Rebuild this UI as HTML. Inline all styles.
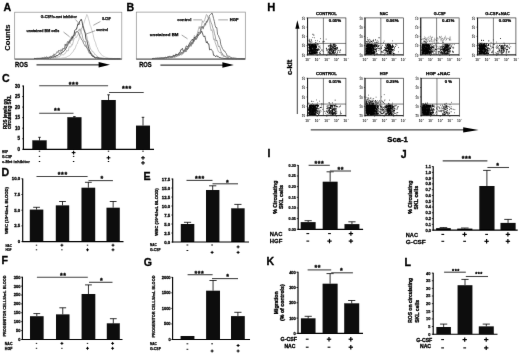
<!DOCTYPE html>
<html lang="en">
<head>
<meta charset="utf-8">
<title>Figure</title>
<style>
html,body{margin:0;padding:0;background:#fff;}
body{width:520px;height:354px;overflow:hidden;}
svg{display:block;font-family:"Liberation Sans",Arial,sans-serif;}
</style>
</head>
<body>
<svg width="520" height="354" viewBox="0 0 520 354">
<rect width="520" height="354" fill="#fff"/>
<defs><filter id="soft" filterUnits="userSpaceOnUse" x="0" y="0" width="520" height="354"><feConvolveMatrix order="3" kernelMatrix="0 1 0 1 16 1 0 1 0" divisor="20" edgeMode="duplicate"/></filter></defs>
<g filter="url(#soft)">
<text x="3.4" y="11" font-size="10.6" text-anchor="start" font-weight="bold" fill="#000" stroke="#000" stroke-width="0.3">A</text>
<text x="126.6" y="11" font-size="10.6" text-anchor="start" font-weight="bold" fill="#000" stroke="#000" stroke-width="0.3">B</text>
<text x="2" y="81.9" font-size="10.6" text-anchor="start" font-weight="bold" fill="#000" stroke="#000" stroke-width="0.3">C</text>
<text x="1.6" y="175.9" font-size="10.6" text-anchor="start" font-weight="bold" fill="#000" stroke="#000" stroke-width="0.3">D</text>
<text x="143.5" y="180" font-size="10.6" text-anchor="start" font-weight="bold" fill="#000" stroke="#000" stroke-width="0.3">E</text>
<text x="1.6" y="263.5" font-size="10.6" text-anchor="start" font-weight="bold" fill="#000" stroke="#000" stroke-width="0.3">F</text>
<text x="143.7" y="265.8" font-size="10.6" text-anchor="start" font-weight="bold" fill="#000" stroke="#000" stroke-width="0.3">G</text>
<text x="267.2" y="11.2" font-size="11.2" text-anchor="start" font-weight="bold" fill="#000" stroke="#000" stroke-width="0.3">H</text>
<text x="267.4" y="156.9" font-size="10.6" text-anchor="start" font-weight="bold" fill="#000" stroke="#000" stroke-width="0.3">I</text>
<text x="400.7" y="158" font-size="10.6" text-anchor="start" font-weight="bold" fill="#000" stroke="#000" stroke-width="0.3">J</text>
<text x="266.5" y="265" font-size="10.6" text-anchor="start" font-weight="bold" fill="#000" stroke="#000" stroke-width="0.3">K</text>
<text x="404.5" y="266.4" font-size="10.6" text-anchor="start" font-weight="bold" fill="#000" stroke="#000" stroke-width="0.3">L</text>
<rect x="14.7" y="12.2" width="107.1" height="46.9" fill="none" stroke="#8c8c8c" stroke-width="0.7"/>
<line x1="14.7" y1="59.1" x2="121.8" y2="59.1" stroke="#444" stroke-width="0.9"/>
<polyline points="34,58.8 34.8,58.8 35.6,58.78 36.4,58.8 37.2,58.78 38,58.79 38.8,58.8 39.6,58.77 40.4,58.8 41.2,58.77 42,58.79 42.8,58.78 43.6,58.76 44.4,58.73 45.2,58.77 46,58.75 46.8,58.72 47.6,58.69 48.4,58.71 49.2,58.71 50,58.66 50.8,58.7 51.6,58.64 52.4,58.66 53.2,58.65 54,58.63 54.8,58.59 55.6,58.53 56.4,58.54 57.2,58.48 58,58.43 58.8,58.41 59.6,58.34 60.4,58.31 61.2,58.23 62,58.13 62.8,57.91 63.6,57.89 64.4,57.79 65.2,57.46 66,57.29 66.8,57.09 67.6,56.42 68.4,56.05 69.2,55.89 70,55.01 70.8,54.33 71.6,53.09 72.4,52.24 73.2,51.69 74,49.36 74.8,49.3 75.6,47.17 76.4,44.72 77.2,44.03 78,41.21 78.8,40.04 79.6,36.22 80.4,33.56 81.2,31.54 82,28.34 82.8,27.11 83.6,23.82 84.4,21.6 85.2,19.25 86,17.1 86.8,14.43 87.6,15.61 88.4,18.8 89.2,21.17 90,25.13 90.8,26.62 91.6,29.58 92.4,31.58 93.2,34.78 94,38.76 94.8,41.07 95.6,42.85 96.4,46.37 97.2,47.49 98,49.76 98.8,51.35 99.6,52.72 100.4,53 101.2,54.67 102,55.34 102.8,55.87 103.6,56.08 104.4,57.06 105.2,57.18 106,57.42 106.8,57.49 107.6,57.71 108.4,57.98 109.2,58.15 110,58.24 110.8,58.32 111.6,58.35 112.4,58.4 113.2,58.51 114,58.55 114.8,58.58 115.6,58.61 116.4,58.62 117.2,58.63 118,58.67 118.8,58.71 119.6,58.69 120.4,58.71" fill="none" stroke="#b8b8b8" stroke-width="0.7" stroke-linejoin="round"/>
<polyline points="34,58.71 34.8,58.66 35.6,58.68 36.4,58.69 37.2,58.67 38,58.65 38.8,58.7 39.6,58.6 40.4,58.6 41.2,58.57 42,58.56 42.8,58.59 43.6,58.57 44.4,58.58 45.2,58.49 46,58.53 46.8,58.49 47.6,58.44 48.4,58.4 49.2,58.33 50,58.31 50.8,58.25 51.6,58.16 52.4,58.08 53.2,58.03 54,58.21 54.8,57.33 55.6,57.4 56.4,57.69 57.2,57.39 58,57.06 58.8,56.78 59.6,56.81 60.4,55.42 61.2,54.74 62,55.13 62.8,54.59 63.6,54.84 64.4,54.24 65.2,53.03 66,52.49 66.8,50.13 67.6,51.14 68.4,50.66 69.2,46.62 70,46.91 70.8,47.12 71.6,44.46 72.4,45.15 73.2,41.94 74,38.86 74.8,37.95 75.6,37.22 76.4,37.45 77.2,35.66 78,34.92 78.8,31.62 79.6,31.03 80.4,29.11 81.2,28.89 82,27.76 82.8,25.55 83.6,27.09 84.4,29.32 85.2,31.52 86,33.64 86.8,36.15 87.6,40.39 88.4,41.54 89.2,44.33 90,47.55 90.8,49.35 91.6,50.18 92.4,51.72 93.2,51.93 94,52.58 94.8,54.66 95.6,54.66 96.4,55.36 97.2,56.03 98,57.2 98.8,57.67 99.6,57.91 100.4,58.13 101.2,58.1 102,58.17 102.8,58.23 103.6,58.33 104.4,58.44 105.2,58.47 106,58.5 106.8,58.62 107.6,58.59 108.4,58.59 109.2,58.62 110,58.65 110.8,58.69 111.6,58.74 112.4,58.69 113.2,58.75 114,58.71 114.8,58.7 115.6,58.76 116.4,58.77 117.2,58.72 118,58.75 118.8,58.8 119.6,58.8 120.4,58.8" fill="none" stroke="#9a9a9a" stroke-width="0.6" stroke-linejoin="round"/>
<polyline points="34,58.44 34.8,58.42 35.6,58.5 36.4,58.36 37.2,58.29 38,58.31 38.8,58.31 39.6,58.23 40.4,58.25 41.2,58.21 42,57.94 42.8,57.79 43.6,57.83 44.4,57.24 45.2,57.71 46,57 46.8,56.89 47.6,57.6 48.4,57.37 49.2,57.11 50,56.99 50.8,56.09 51.6,56.45 52.4,55.81 53.2,56.15 54,53.83 54.8,54.85 55.6,54.1 56.4,53.22 57.2,51.6 58,52.62 58.8,50.18 59.6,51.05 60.4,50.22 61.2,49.51 62,50.94 62.8,48.29 63.6,48.64 64.4,48.65 65.2,43.97 66,46.07 66.8,43.68 67.6,41.53 68.4,41.38 69.2,41.49 70,39.64 70.8,38.53 71.6,36.66 72.4,38.39 73.2,35.73 74,35.85 74.8,34.78 75.6,32.54 76.4,32.35 77.2,31.39 78,32.26 78.8,33.07 79.6,35.96 80.4,36.81 81.2,38.74 82,40.25 82.8,40.93 83.6,43.59 84.4,44.7 85.2,46.41 86,45.67 86.8,48.12 87.6,48.67 88.4,49.65 89.2,53.18 90,53.07 90.8,52.81 91.6,53.92 92.4,56.26 93.2,56.74 94,56.52 94.8,57.52 95.6,57.52 96.4,57.98 97.2,57.42 98,57.49 98.8,57.55 99.6,58.17 100.4,58.16 101.2,58.26 102,58.42 102.8,58.36 103.6,58.39 104.4,58.55 105.2,58.48 106,58.59 106.8,58.6 107.6,58.55 108.4,58.6 109.2,58.71 110,58.69 110.8,58.69 111.6,58.72 112.4,58.75 113.2,58.74 114,58.7 114.8,58.8 115.6,58.74 116.4,58.76 117.2,58.8 118,58.78 118.8,58.75 119.6,58.77 120.4,58.8" fill="none" stroke="#555" stroke-width="0.7" stroke-linejoin="round"/>
<polyline points="34,58.58 34.8,58.59 35.6,58.56 36.4,58.65 37.2,58.61 38,58.62 38.8,58.5 39.6,58.55 40.4,58.54 41.2,58.47 42,58.37 42.8,58.35 43.6,58.39 44.4,58.36 45.2,58.2 46,58.19 46.8,58.1 47.6,58.12 48.4,58.34 49.2,57.71 50,57.82 50.8,58.03 51.6,57.04 52.4,57.16 53.2,56.76 54,57.37 54.8,56.16 55.6,56.91 56.4,55.44 57.2,55.67 58,55.44 58.8,54.58 59.6,53.27 60.4,54.03 61.2,53.72 62,52.04 62.8,52.01 63.6,51.55 64.4,50.5 65.2,49.89 66,48.33 66.8,46.79 67.6,45.58 68.4,42.46 69.2,42.99 70,40.67 70.8,40.57 71.6,38.32 72.4,38.18 73.2,35.58 74,34.95 74.8,30.39 75.6,29.55 76.4,29.3 77.2,26.7 78,23.73 78.8,24.66 79.6,21.32 80.4,20.77 81.2,19.21 82,21.42 82.8,25.72 83.6,28.61 84.4,31.2 85.2,33.23 86,39.26 86.8,40.29 87.6,43.76 88.4,46.68 89.2,49.74 90,51.79 90.8,54.02 91.6,55.03 92.4,56.06 93.2,55.81 94,57.07 94.8,57.6 95.6,57.99 96.4,57.56 97.2,58 98,58.18 98.8,58.35 99.6,58.44 100.4,58.5 101.2,58.53 102,58.62 102.8,58.62 103.6,58.67 104.4,58.61 105.2,58.63 106,58.7 106.8,58.75 107.6,58.68 108.4,58.76 109.2,58.77 110,58.8 110.8,58.78 111.6,58.77 112.4,58.77 113.2,58.8 114,58.78 114.8,58.8 115.6,58.8 116.4,58.8 117.2,58.8 118,58.8 118.8,58.8 119.6,58.8 120.4,58.8" fill="none" stroke="#2a2a2a" stroke-width="0.85" stroke-linejoin="round"/>
<polyline points="34,58.57 34.8,58.56 35.6,58.51 36.4,58.5 37.2,58.47 38,58.42 38.8,58.46 39.6,58.44 40.4,58.3 41.2,58.39 42,58.25 42.8,58.21 43.6,58.26 44.4,58.04 45.2,57.95 46,57.81 46.8,57.59 47.6,57.37 48.4,58.03 49.2,57.42 50,57.28 50.8,56.62 51.6,56.42 52.4,56.12 53.2,56.24 54,55.35 54.8,55.4 55.6,54.98 56.4,55.64 57.2,55.74 58,55.07 58.8,53.94 59.6,54.19 60.4,51.23 61.2,51.46 62,50.47 62.8,49.69 63.6,48.63 64.4,48.56 65.2,49.81 66,45.32 66.8,44.54 67.6,44.68 68.4,43.49 69.2,41.83 70,43.61 70.8,39.32 71.6,40.5 72.4,40.17 73.2,38.18 74,35.13 74.8,36.14 75.6,33.08 76.4,31.34 77.2,31.89 78,31.16 78.8,29.91 79.6,28.87 80.4,30.28 81.2,32.4 82,34.09 82.8,38.32 83.6,40.06 84.4,41.57 85.2,41.14 86,45.11 86.8,45.65 87.6,49.8 88.4,51.02 89.2,51.51 90,51.31 90.8,52.44 91.6,53.53 92.4,55.36 93.2,55.53 94,56.22 94.8,56.7 95.6,57.61 96.4,56.86 97.2,57.99 98,57.33 98.8,57.92 99.6,58.24 100.4,58.26 101.2,58.28 102,58.33 102.8,58.47 103.6,58.55 104.4,58.59 105.2,58.52 106,58.65 106.8,58.63 107.6,58.71 108.4,58.67 109.2,58.63 110,58.75 110.8,58.67 111.6,58.72 112.4,58.69 113.2,58.72 114,58.78 114.8,58.71 115.6,58.76 116.4,58.8 117.2,58.8 118,58.77 118.8,58.78 119.6,58.8 120.4,58.8" fill="none" stroke="#777" stroke-width="0.6" stroke-linejoin="round"/>
<text x="40.8" y="17.76" font-size="3.8" text-anchor="start" font-weight="bold" fill="#000" textLength="36.1" lengthAdjust="spacingAndGlyphs" stroke="#000" stroke-width="0.25">G-CSF/c-met inhibitor</text>
<text x="26.5" y="31.56" font-size="3.8" text-anchor="start" font-weight="bold" fill="#000" textLength="32.7" lengthAdjust="spacingAndGlyphs" stroke="#000" stroke-width="0.25">unstained BM cells</text>
<text x="101.9" y="20.06" font-size="3.8" text-anchor="start" font-weight="bold" fill="#000" textLength="8.8" lengthAdjust="spacingAndGlyphs" stroke="#000" stroke-width="0.25">G-CSF</text>
<text x="96.2" y="30.96" font-size="3.8" text-anchor="start" font-weight="bold" fill="#000" textLength="11.8" lengthAdjust="spacingAndGlyphs" stroke="#000" stroke-width="0.25">control</text>
<line x1="75.4" y1="19.5" x2="79.8" y2="24.3" stroke="#333" stroke-width="0.45"/>
<line x1="63.5" y1="32" x2="69.6" y2="36.8" stroke="#333" stroke-width="0.45"/>
<line x1="100.4" y1="21.5" x2="93.3" y2="25.3" stroke="#333" stroke-width="0.45"/>
<line x1="95.2" y1="30.7" x2="86.2" y2="34" stroke="#333" stroke-width="0.45"/>
<text x="15.1" y="67.2" font-size="6.6" text-anchor="start" font-weight="bold" fill="#000" textLength="12.8" lengthAdjust="spacingAndGlyphs" stroke="#000" stroke-width="0.3">ROS</text>
<line x1="36.5" y1="64.8" x2="100" y2="64.8" stroke="#3c3c3c" stroke-width="1.25"/>
<polygon points="98.6,62.1 110,64.8 98.6,67.5" fill="#000"/>
<text x="10.5" y="37.6" font-size="7.2" text-anchor="middle" font-weight="bold" fill="#000" transform="rotate(-90 10.5 37.6)" stroke="#000" stroke-width="0.12" textLength="26.5" lengthAdjust="spacingAndGlyphs">Counts</text>
<rect x="136.3" y="12.1" width="109" height="47" fill="none" stroke="#8c8c8c" stroke-width="0.7"/>
<line x1="136.3" y1="59.1" x2="245.3" y2="59.1" stroke="#444" stroke-width="0.9"/>
<polyline points="152,58.51 152.8,58.49 153.6,58.39 154.4,58.49 155.2,58.36 156,58.32 156.8,58.4 157.6,58.24 158.4,58.24 159.2,58.18 160,58.23 160.8,58.18 161.6,58.13 162.4,57.97 163.2,57.92 164,58.06 164.8,57.93 165.6,58 166.4,58.14 167.2,58.01 168,57.17 168.8,57.63 169.6,56.8 170.4,57.43 171.2,57.27 172,56.81 172.8,57.05 173.6,56.62 174.4,55.58 175.2,55.41 176,55.23 176.8,55.22 177.6,54.4 178.4,53.97 179.2,54.32 180,53.56 180.8,54.56 181.6,52.57 182.4,52.72 183.2,51.4 184,51.07 184.8,51.46 185.6,51.54 186.4,48.12 187.2,49.96 188,48.02 188.8,47.66 189.6,46.97 190.4,44.34 191.2,42.37 192,44.32 192.8,41.59 193.6,42.07 194.4,39.81 195.2,39.41 196,39.31 196.8,38.15 197.6,36.71 198.4,32.1 199.2,32.8 200,32.85 200.8,28.3 201.6,26.62 202.4,27.86 203.2,27.94 204,26.37 204.8,25.45 205.6,23.11 206.4,22.76 207.2,20.9 208,19.54 208.8,17.32 209.6,15.27 210.4,14.53 211.2,14.15 212,12.96 212.8,15.4 213.6,18.58 214.4,21.6 215.2,25.69 216,27.81 216.8,27.55 217.6,34.48 218.4,35.51 219.2,37.67 220,39.26 220.8,44.51 221.6,46.43 222.4,48.44 223.2,49.66 224,51.06 224.8,51.11 225.6,52.63 226.4,53.64 227.2,56.01 228,56.57 228.8,56.1 229.6,56.34 230.4,57.21 231.2,57.37 232,58.17 232.8,57.97 233.6,57.95 234.4,58.09 235.2,58.18 236,58.24 236.8,58.42 237.6,58.49 238.4,58.53 239.2,58.52 240,58.53 240.8,58.53 241.6,58.59 242.4,58.62 243.2,58.62 244,58.68 244.8,58.68" fill="none" stroke="#505050" stroke-width="0.75" stroke-linejoin="round"/>
<polyline points="152,58.7 152.8,58.58 153.6,58.65 154.4,58.54 155.2,58.56 156,58.6 156.8,58.61 157.6,58.57 158.4,58.49 159.2,58.45 160,58.52 160.8,58.5 161.6,58.4 162.4,58.36 163.2,58.35 164,58.34 164.8,58.23 165.6,58.29 166.4,58.18 167.2,58.09 168,57.92 168.8,57.79 169.6,57.45 170.4,57.77 171.2,57.92 172,57.79 172.8,56.8 173.6,56.93 174.4,57.27 175.2,57.47 176,56.57 176.8,56.03 177.6,56.15 178.4,56.12 179.2,54.99 180,54.03 180.8,55.05 181.6,55.05 182.4,53.81 183.2,53 184,51.6 184.8,52.33 185.6,49.64 186.4,48.93 187.2,48.84 188,49.04 188.8,44.88 189.6,46.55 190.4,43.1 191.2,44.6 192,43.41 192.8,39.4 193.6,40.38 194.4,35.53 195.2,36.45 196,36.59 196.8,34.87 197.6,32.3 198.4,29.47 199.2,26.52 200,28.92 200.8,26.16 201.6,25.39 202.4,20.7 203.2,22.49 204,21.2 204.8,19.57 205.6,17.09 206.4,14.52 207.2,15.02 208,17.72 208.8,19.15 209.6,21.81 210.4,27.15 211.2,30.67 212,29.54 212.8,33.22 213.6,39.63 214.4,38.85 215.2,42.68 216,44.89 216.8,47.07 217.6,49.48 218.4,51.58 219.2,51.98 220,52.95 220.8,52.49 221.6,55.34 222.4,54.39 223.2,56.41 224,56.65 224.8,56.4 225.6,56.78 226.4,57.54 227.2,58.18 228,57.89 228.8,58.04 229.6,58.05 230.4,58.28 231.2,58.33 232,58.31 232.8,58.5 233.6,58.49 234.4,58.47 235.2,58.51 236,58.65 236.8,58.68 237.6,58.69 238.4,58.59 239.2,58.7 240,58.65 240.8,58.64 241.6,58.73 242.4,58.75 243.2,58.67 244,58.72 244.8,58.78" fill="none" stroke="#909090" stroke-width="0.65" stroke-linejoin="round"/>
<polyline points="152,58.49 152.8,58.53 153.6,58.52 154.4,58.54 155.2,58.38 156,58.32 156.8,58.34 157.6,58.24 158.4,58.37 159.2,58.29 160,58.19 160.8,58.03 161.6,57.96 162.4,58.12 163.2,58.21 164,57.91 164.8,57.73 165.6,57.03 166.4,57.95 167.2,56.9 168,56.82 168.8,56.49 169.6,56.37 170.4,56.45 171.2,56.78 172,56.58 172.8,56.24 173.6,54.94 174.4,56.4 175.2,55.8 176,53.86 176.8,54.98 177.6,55.19 178.4,54.92 179.2,52.61 180,52.95 180.8,49.78 181.6,49.51 182.4,48.36 183.2,50.94 184,51.15 184.8,50.44 185.6,47.75 186.4,45.91 187.2,46.48 188,46.81 188.8,45.03 189.6,43.12 190.4,42 191.2,40.78 192,39.44 192.8,39.54 193.6,41.36 194.4,37.06 195.2,38.74 196,36.7 196.8,36.66 197.6,34.45 198.4,35.55 199.2,34.51 200,33.64 200.8,32.98 201.6,31 202.4,33.01 203.2,35.41 204,36.85 204.8,35.84 205.6,39.73 206.4,42.85 207.2,41.52 208,43.99 208.8,43.85 209.6,49.89 210.4,49.45 211.2,49.24 212,50.46 212.8,51.38 213.6,55.33 214.4,55.25 215.2,56.33 216,56.66 216.8,55.5 217.6,56.72 218.4,56.53 219.2,57.68 220,57.25 220.8,57.97 221.6,58.12 222.4,58.13 223.2,58.19 224,58.43 224.8,58.41 225.6,58.46 226.4,58.57 227.2,58.58 228,58.65 228.8,58.66 229.6,58.68 230.4,58.64 231.2,58.65 232,58.73 232.8,58.77 233.6,58.74 234.4,58.7 235.2,58.78 236,58.77 236.8,58.79 237.6,58.71 238.4,58.75 239.2,58.8 240,58.8 240.8,58.79 241.6,58.77 242.4,58.76 243.2,58.8 244,58.8 244.8,58.76" fill="none" stroke="#333" stroke-width="0.75" stroke-linejoin="round"/>
<polyline points="152,58.57 152.8,58.57 153.6,58.55 154.4,58.42 155.2,58.51 156,58.44 156.8,58.46 157.6,58.42 158.4,58.31 159.2,58.25 160,58.34 160.8,58.33 161.6,58.19 162.4,58.25 163.2,58.24 164,58 164.8,58.04 165.6,57.61 166.4,57.99 167.2,57.36 168,57.76 168.8,58.03 169.6,58.13 170.4,57.31 171.2,57.04 172,56.49 172.8,57.55 173.6,56.53 174.4,56.74 175.2,56.29 176,56.72 176.8,56.2 177.6,55.42 178.4,54.18 179.2,55.7 180,54.4 180.8,53.12 181.6,52.14 182.4,53.88 183.2,53.62 184,50.33 184.8,49.5 185.6,50.6 186.4,51.6 187.2,47.28 188,48.74 188.8,45.55 189.6,45.94 190.4,43.97 191.2,46.34 192,42.07 192.8,44.03 193.6,41.97 194.4,38.37 195.2,37.29 196,39.82 196.8,38.43 197.6,36.17 198.4,34.26 199.2,33.78 200,33.98 200.8,32.01 201.6,28.21 202.4,26.14 203.2,29.16 204,25.43 204.8,23.4 205.6,25.18 206.4,20.9 207.2,22.27 208,19.55 208.8,18.59 209.6,17.33 210.4,20.61 211.2,22.81 212,24.7 212.8,28.06 213.6,29.49 214.4,33.33 215.2,36.04 216,41.01 216.8,40.09 217.6,43.16 218.4,46.6 219.2,46.06 220,47.89 220.8,50.8 221.6,53.09 222.4,53.29 223.2,55.23 224,55.9 224.8,55.89 225.6,57.04 226.4,56.87 227.2,57.13 228,58.05 228.8,57.52 229.6,58.35 230.4,57.98 231.2,58.09 232,58.25 232.8,58.41 233.6,58.39 234.4,58.47 235.2,58.42 236,58.6 236.8,58.51 237.6,58.52 238.4,58.59 239.2,58.6 240,58.71 240.8,58.61 241.6,58.7 242.4,58.64 243.2,58.66 244,58.78 244.8,58.69" fill="none" stroke="#707070" stroke-width="0.65" stroke-linejoin="round"/>
<text x="177.3" y="21.26" font-size="3.8" text-anchor="start" font-weight="bold" fill="#000" textLength="14" lengthAdjust="spacingAndGlyphs" stroke="#000" stroke-width="0.25">control</text>
<text x="229.8" y="21.26" font-size="3.8" text-anchor="start" font-weight="bold" fill="#000" textLength="8.7" lengthAdjust="spacingAndGlyphs" stroke="#000" stroke-width="0.25">HGF</text>
<text x="149.8" y="35.66" font-size="3.8" text-anchor="start" font-weight="bold" fill="#000" textLength="28.7" lengthAdjust="spacingAndGlyphs" stroke="#000" stroke-width="0.25">unstained BM</text>
<line x1="193.3" y1="19.9" x2="202" y2="19.9" stroke="#333" stroke-width="0.45"/>
<line x1="227.9" y1="19.9" x2="218.3" y2="19.9" stroke="#333" stroke-width="0.45"/>
<line x1="181.7" y1="35" x2="187.5" y2="38.8" stroke="#333" stroke-width="0.45"/>
<text x="139.2" y="67.4" font-size="6.6" text-anchor="start" font-weight="bold" fill="#000" textLength="12.5" lengthAdjust="spacingAndGlyphs" stroke="#000" stroke-width="0.3">ROS</text>
<line x1="160.4" y1="65" x2="224" y2="65" stroke="#3c3c3c" stroke-width="1.25"/>
<polygon points="222.4,62.3 233.8,65 222.4,67.7" fill="#000"/>
<rect x="32.3" y="140.3" width="14.4" height="9" fill="#0b0b0b"/>
<line x1="39.5" y1="140.3" x2="39.5" y2="137.3" stroke="#000" stroke-width="0.8"/>
<line x1="38.2" y1="137.3" x2="40.8" y2="137.3" stroke="#000" stroke-width="0.8"/>
<rect x="67.3" y="117.2" width="14.2" height="32.1" fill="#0b0b0b"/>
<line x1="74.4" y1="117.2" x2="74.4" y2="116.6" stroke="#000" stroke-width="0.8"/>
<line x1="73.1" y1="116.6" x2="75.7" y2="116.6" stroke="#000" stroke-width="0.8"/>
<rect x="101.3" y="100" width="14.5" height="49.3" fill="#0b0b0b"/>
<line x1="108.55" y1="100" x2="108.55" y2="94.8" stroke="#000" stroke-width="0.8"/>
<line x1="107.25" y1="94.8" x2="109.85" y2="94.8" stroke="#000" stroke-width="0.8"/>
<rect x="136" y="125.6" width="14" height="23.7" fill="#0b0b0b"/>
<line x1="143" y1="125.6" x2="143" y2="117.3" stroke="#000" stroke-width="0.8"/>
<line x1="141.7" y1="117.3" x2="144.3" y2="117.3" stroke="#000" stroke-width="0.8"/>
<line x1="23.4" y1="85.6" x2="23.4" y2="149.75" stroke="#000" stroke-width="1.15"/>
<line x1="22.95" y1="149.3" x2="154" y2="149.3" stroke="#000" stroke-width="1.15"/>
<line x1="22.2" y1="149.3" x2="23.4" y2="149.3" stroke="#000" stroke-width="0.8"/>
<text x="19.9" y="150.91" font-size="4.5" text-anchor="end" font-weight="bold" fill="#000" textLength="2.5" lengthAdjust="spacingAndGlyphs" stroke="#000" stroke-width="0.29">0</text>
<line x1="22.2" y1="138.75" x2="23.4" y2="138.75" stroke="#000" stroke-width="0.8"/>
<text x="19.9" y="140.36" font-size="4.5" text-anchor="end" font-weight="bold" fill="#000" textLength="2.5" lengthAdjust="spacingAndGlyphs" stroke="#000" stroke-width="0.29">5</text>
<line x1="22.2" y1="128.2" x2="23.4" y2="128.2" stroke="#000" stroke-width="0.8"/>
<text x="19.9" y="129.81" font-size="4.5" text-anchor="end" font-weight="bold" fill="#000" textLength="5" lengthAdjust="spacingAndGlyphs" stroke="#000" stroke-width="0.29">10</text>
<line x1="22.2" y1="117.65" x2="23.4" y2="117.65" stroke="#000" stroke-width="0.8"/>
<text x="19.9" y="119.26" font-size="4.5" text-anchor="end" font-weight="bold" fill="#000" textLength="5" lengthAdjust="spacingAndGlyphs" stroke="#000" stroke-width="0.29">15</text>
<line x1="22.2" y1="107.1" x2="23.4" y2="107.1" stroke="#000" stroke-width="0.8"/>
<text x="19.9" y="108.71" font-size="4.5" text-anchor="end" font-weight="bold" fill="#000" textLength="5" lengthAdjust="spacingAndGlyphs" stroke="#000" stroke-width="0.29">20</text>
<line x1="22.2" y1="96.55" x2="23.4" y2="96.55" stroke="#000" stroke-width="0.8"/>
<text x="19.9" y="98.16" font-size="4.5" text-anchor="end" font-weight="bold" fill="#000" textLength="5" lengthAdjust="spacingAndGlyphs" stroke="#000" stroke-width="0.29">25</text>
<line x1="22.2" y1="86" x2="23.4" y2="86" stroke="#000" stroke-width="0.8"/>
<text x="19.9" y="87.61" font-size="4.5" text-anchor="end" font-weight="bold" fill="#000" textLength="5" lengthAdjust="spacingAndGlyphs" stroke="#000" stroke-width="0.29">30</text>
<line x1="39.2" y1="85.8" x2="108.1" y2="85.8" stroke="#444" stroke-width="1.1"/>
<text x="73.77" y="86.78" font-size="7" text-anchor="middle" font-weight="bold" fill="#000" letter-spacing="0.55" stroke="#000" stroke-width="0.3">***</text>
<line x1="39.2" y1="113.2" x2="73.5" y2="113.2" stroke="#444" stroke-width="1.1"/>
<text x="57.27" y="113.48" font-size="7" text-anchor="middle" font-weight="bold" fill="#000" letter-spacing="0.55" stroke="#000" stroke-width="0.3">**</text>
<line x1="109" y1="92.5" x2="143.7" y2="92.5" stroke="#444" stroke-width="1.1"/>
<text x="126.87" y="90.98" font-size="7" text-anchor="middle" font-weight="bold" fill="#000" letter-spacing="0.55" stroke="#000" stroke-width="0.3">***</text>
<text x="7.3" y="129.1" font-size="4.5" text-anchor="start" font-weight="bold" fill="#000" transform="rotate(-90 7.3 129.1)" textLength="30" lengthAdjust="spacingAndGlyphs" stroke="#000" stroke-width="0.29">ROS levels on</text>
<text x="11.4" y="129.1" font-size="4.5" text-anchor="start" font-weight="bold" fill="#000" transform="rotate(-90 11.4 129.1)" textLength="34" lengthAdjust="spacingAndGlyphs" stroke="#000" stroke-width="0.29">circulating SKL</text>
<text x="1.9" y="153.2" font-size="3.9" text-anchor="start" font-weight="bold" fill="#000" textLength="6.2" lengthAdjust="spacingAndGlyphs" stroke="#000" stroke-width="0.25">HGF</text>
<text x="1.9" y="158.1" font-size="3.9" text-anchor="start" font-weight="bold" fill="#000" textLength="10.2" lengthAdjust="spacingAndGlyphs" stroke="#000" stroke-width="0.25">G-CSF</text>
<text x="1.9" y="162.9" font-size="3.9" text-anchor="start" font-weight="bold" fill="#000" textLength="27.9" lengthAdjust="spacingAndGlyphs" stroke="#000" stroke-width="0.25">c-Met inhibitor</text>
<line x1="38.8" y1="151.2" x2="40.2" y2="151.2" stroke="#000" stroke-width="0.99"/>
<line x1="71.7" y1="152.6" x2="75.5" y2="152.6" stroke="#000" stroke-width="1.1"/>
<line x1="73.6" y1="150.7" x2="73.6" y2="154.5" stroke="#000" stroke-width="1.1"/>
<line x1="107.8" y1="151.2" x2="109.2" y2="151.2" stroke="#000" stroke-width="0.99"/>
<line x1="142.3" y1="151.2" x2="143.7" y2="151.2" stroke="#000" stroke-width="0.99"/>
<line x1="38.8" y1="156.4" x2="40.2" y2="156.4" stroke="#000" stroke-width="0.99"/>
<line x1="72.9" y1="156.4" x2="74.3" y2="156.4" stroke="#000" stroke-width="0.99"/>
<line x1="106.6" y1="157.8" x2="110.4" y2="157.8" stroke="#000" stroke-width="1.1"/>
<line x1="108.5" y1="155.9" x2="108.5" y2="159.7" stroke="#000" stroke-width="1.1"/>
<line x1="141.1" y1="157.8" x2="144.9" y2="157.8" stroke="#000" stroke-width="1.1"/>
<line x1="143" y1="155.9" x2="143" y2="159.7" stroke="#000" stroke-width="1.1"/>
<line x1="38.8" y1="161.5" x2="40.2" y2="161.5" stroke="#000" stroke-width="0.99"/>
<line x1="72.9" y1="161.5" x2="74.3" y2="161.5" stroke="#000" stroke-width="0.99"/>
<line x1="107.8" y1="161.5" x2="109.2" y2="161.5" stroke="#000" stroke-width="0.99"/>
<line x1="141.1" y1="162.9" x2="144.9" y2="162.9" stroke="#000" stroke-width="1.1"/>
<line x1="143" y1="161" x2="143" y2="164.8" stroke="#000" stroke-width="1.1"/>
<rect x="29.8" y="209.6" width="13.5" height="32" fill="#0b0b0b"/>
<line x1="36.55" y1="209.6" x2="36.55" y2="207.3" stroke="#000" stroke-width="0.8"/>
<line x1="33.15" y1="207.3" x2="39.95" y2="207.3" stroke="#000" stroke-width="0.8"/>
<rect x="55.8" y="205.4" width="13.4" height="36.2" fill="#0b0b0b"/>
<line x1="62.5" y1="205.4" x2="62.5" y2="201.5" stroke="#000" stroke-width="0.8"/>
<line x1="59.1" y1="201.5" x2="65.9" y2="201.5" stroke="#000" stroke-width="0.8"/>
<rect x="81.5" y="187.7" width="13.7" height="53.9" fill="#0b0b0b"/>
<line x1="88.35" y1="187.7" x2="88.35" y2="182.3" stroke="#000" stroke-width="0.8"/>
<line x1="84.95" y1="182.3" x2="91.75" y2="182.3" stroke="#000" stroke-width="0.8"/>
<rect x="106.5" y="207.7" width="13.3" height="33.9" fill="#0b0b0b"/>
<line x1="113.15" y1="207.7" x2="113.15" y2="201.5" stroke="#000" stroke-width="0.8"/>
<line x1="109.75" y1="201.5" x2="116.55" y2="201.5" stroke="#000" stroke-width="0.8"/>
<line x1="22.7" y1="178.4" x2="22.7" y2="242.05" stroke="#000" stroke-width="1.15"/>
<line x1="22.25" y1="241.6" x2="123.5" y2="241.6" stroke="#000" stroke-width="1.15"/>
<line x1="21.4" y1="241.6" x2="22.7" y2="241.6" stroke="#000" stroke-width="0.8"/>
<text x="20.2" y="243.14" font-size="4.3" text-anchor="end" font-weight="bold" fill="#000" textLength="2.39" lengthAdjust="spacingAndGlyphs" stroke="#000" stroke-width="0.28">0</text>
<line x1="21.4" y1="225.9" x2="22.7" y2="225.9" stroke="#000" stroke-width="0.8"/>
<text x="20.2" y="227.44" font-size="4.3" text-anchor="end" font-weight="bold" fill="#000" textLength="5.98" lengthAdjust="spacingAndGlyphs" stroke="#000" stroke-width="0.28">2.5</text>
<line x1="21.4" y1="210.2" x2="22.7" y2="210.2" stroke="#000" stroke-width="0.8"/>
<text x="20.2" y="211.74" font-size="4.3" text-anchor="end" font-weight="bold" fill="#000" textLength="5.98" lengthAdjust="spacingAndGlyphs" stroke="#000" stroke-width="0.28">5.0</text>
<line x1="21.4" y1="194.5" x2="22.7" y2="194.5" stroke="#000" stroke-width="0.8"/>
<text x="20.2" y="196.04" font-size="4.3" text-anchor="end" font-weight="bold" fill="#000" textLength="5.98" lengthAdjust="spacingAndGlyphs" stroke="#000" stroke-width="0.28">7.5</text>
<line x1="21.4" y1="178.8" x2="22.7" y2="178.8" stroke="#000" stroke-width="0.8"/>
<text x="20.2" y="180.34" font-size="4.3" text-anchor="end" font-weight="bold" fill="#000" textLength="8.37" lengthAdjust="spacingAndGlyphs" stroke="#000" stroke-width="0.28">10.0</text>
<line x1="36.5" y1="176.5" x2="87.6" y2="176.5" stroke="#444" stroke-width="1.1"/>
<text x="62.77" y="177.18" font-size="7" text-anchor="middle" font-weight="bold" fill="#000" letter-spacing="0.55" stroke="#000" stroke-width="0.3">***</text>
<line x1="88.5" y1="180.6" x2="112.9" y2="180.6" stroke="#444" stroke-width="1.1"/>
<text x="102.17" y="180.98" font-size="7" text-anchor="middle" font-weight="bold" fill="#000" letter-spacing="0.55" stroke="#000" stroke-width="0.3">*</text>
<text x="8.1" y="210.6" font-size="4.1" text-anchor="middle" font-weight="bold" fill="#000" transform="rotate(-90 8.1 210.6)" textLength="47" lengthAdjust="spacingAndGlyphs" stroke="#000" stroke-width="0.27">WBC (10^6/mL BLOOD)</text>
<text x="5.4" y="246.59" font-size="3.6" text-anchor="start" font-weight="bold" fill="#000" textLength="6.5" lengthAdjust="spacingAndGlyphs" stroke="#000" stroke-width="0.23">NAC</text>
<text x="5.4" y="251.29" font-size="3.6" text-anchor="start" font-weight="bold" fill="#000" textLength="6.2" lengthAdjust="spacingAndGlyphs" stroke="#000" stroke-width="0.23">HGF</text>
<line x1="35.8" y1="245.2" x2="37.2" y2="245.2" stroke="#000" stroke-width="0.9"/>
<line x1="60.45" y1="245.2" x2="63.35" y2="245.2" stroke="#000" stroke-width="1"/>
<line x1="61.9" y1="243.75" x2="61.9" y2="246.65" stroke="#000" stroke-width="1"/>
<line x1="86.8" y1="245.2" x2="88.2" y2="245.2" stroke="#000" stroke-width="0.9"/>
<line x1="111.55" y1="245.2" x2="114.45" y2="245.2" stroke="#000" stroke-width="1"/>
<line x1="113" y1="243.75" x2="113" y2="246.65" stroke="#000" stroke-width="1"/>
<line x1="35.8" y1="249.8" x2="37.2" y2="249.8" stroke="#000" stroke-width="0.9"/>
<line x1="61.2" y1="249.8" x2="62.6" y2="249.8" stroke="#000" stroke-width="0.9"/>
<line x1="86.05" y1="249.8" x2="88.95" y2="249.8" stroke="#000" stroke-width="1"/>
<line x1="87.5" y1="248.35" x2="87.5" y2="251.25" stroke="#000" stroke-width="1"/>
<line x1="111.55" y1="249.8" x2="114.45" y2="249.8" stroke="#000" stroke-width="1"/>
<line x1="113" y1="248.35" x2="113" y2="251.25" stroke="#000" stroke-width="1"/>
<rect x="180.8" y="224" width="13.5" height="18" fill="#0b0b0b"/>
<line x1="187.55" y1="224" x2="187.55" y2="222.3" stroke="#000" stroke-width="0.8"/>
<line x1="183.95" y1="222.3" x2="191.15" y2="222.3" stroke="#000" stroke-width="0.8"/>
<rect x="206" y="190" width="13.4" height="52" fill="#0b0b0b"/>
<line x1="212.7" y1="190" x2="212.7" y2="185.8" stroke="#000" stroke-width="0.8"/>
<line x1="209.1" y1="185.8" x2="216.3" y2="185.8" stroke="#000" stroke-width="0.8"/>
<rect x="231.2" y="208.3" width="13.4" height="33.7" fill="#0b0b0b"/>
<line x1="237.9" y1="208.3" x2="237.9" y2="204.4" stroke="#000" stroke-width="0.8"/>
<line x1="234.3" y1="204.4" x2="241.5" y2="204.4" stroke="#000" stroke-width="0.8"/>
<line x1="172.7" y1="178.6" x2="172.7" y2="242.45" stroke="#000" stroke-width="1.15"/>
<line x1="172.25" y1="242" x2="249" y2="242" stroke="#000" stroke-width="1.15"/>
<line x1="171.4" y1="242" x2="172.7" y2="242" stroke="#000" stroke-width="0.8"/>
<text x="170.2" y="243.54" font-size="4.3" text-anchor="end" font-weight="bold" fill="#000" textLength="5.98" lengthAdjust="spacingAndGlyphs" stroke="#000" stroke-width="0.28">0.0</text>
<line x1="171.4" y1="233" x2="172.7" y2="233" stroke="#000" stroke-width="0.8"/>
<text x="170.2" y="234.54" font-size="4.3" text-anchor="end" font-weight="bold" fill="#000" textLength="5.98" lengthAdjust="spacingAndGlyphs" stroke="#000" stroke-width="0.28">2.5</text>
<line x1="171.4" y1="224" x2="172.7" y2="224" stroke="#000" stroke-width="0.8"/>
<text x="170.2" y="225.54" font-size="4.3" text-anchor="end" font-weight="bold" fill="#000" textLength="5.98" lengthAdjust="spacingAndGlyphs" stroke="#000" stroke-width="0.28">5.0</text>
<line x1="171.4" y1="215" x2="172.7" y2="215" stroke="#000" stroke-width="0.8"/>
<text x="170.2" y="216.54" font-size="4.3" text-anchor="end" font-weight="bold" fill="#000" textLength="5.98" lengthAdjust="spacingAndGlyphs" stroke="#000" stroke-width="0.28">7.5</text>
<line x1="171.4" y1="206" x2="172.7" y2="206" stroke="#000" stroke-width="0.8"/>
<text x="170.2" y="207.54" font-size="4.3" text-anchor="end" font-weight="bold" fill="#000" textLength="8.37" lengthAdjust="spacingAndGlyphs" stroke="#000" stroke-width="0.28">10.0</text>
<line x1="171.4" y1="197" x2="172.7" y2="197" stroke="#000" stroke-width="0.8"/>
<text x="170.2" y="198.54" font-size="4.3" text-anchor="end" font-weight="bold" fill="#000" textLength="8.37" lengthAdjust="spacingAndGlyphs" stroke="#000" stroke-width="0.28">12.5</text>
<line x1="171.4" y1="188" x2="172.7" y2="188" stroke="#000" stroke-width="0.8"/>
<text x="170.2" y="189.54" font-size="4.3" text-anchor="end" font-weight="bold" fill="#000" textLength="8.37" lengthAdjust="spacingAndGlyphs" stroke="#000" stroke-width="0.28">15.0</text>
<line x1="171.4" y1="179" x2="172.7" y2="179" stroke="#000" stroke-width="0.8"/>
<text x="170.2" y="180.54" font-size="4.3" text-anchor="end" font-weight="bold" fill="#000" textLength="8.37" lengthAdjust="spacingAndGlyphs" stroke="#000" stroke-width="0.28">17.5</text>
<line x1="186.5" y1="180.4" x2="212.5" y2="180.4" stroke="#444" stroke-width="1.1"/>
<text x="199.87" y="181.48" font-size="7" text-anchor="middle" font-weight="bold" fill="#000" letter-spacing="0.55" stroke="#000" stroke-width="0.3">***</text>
<line x1="212.5" y1="183.8" x2="238" y2="183.8" stroke="#444" stroke-width="1.1"/>
<text x="227.57" y="185.18" font-size="7" text-anchor="middle" font-weight="bold" fill="#000" letter-spacing="0.55" stroke="#000" stroke-width="0.3">*</text>
<text x="158.1" y="212" font-size="4.1" text-anchor="middle" font-weight="bold" fill="#000" transform="rotate(-90 158.1 212)" textLength="47.5" lengthAdjust="spacingAndGlyphs" stroke="#000" stroke-width="0.27">WBC (10^6/mL BLOOD)</text>
<text x="149.9" y="246.26" font-size="3.8" text-anchor="start" font-weight="bold" fill="#000" textLength="6.8" lengthAdjust="spacingAndGlyphs" stroke="#000" stroke-width="0.25">NAC</text>
<text x="149.9" y="251.26" font-size="3.8" text-anchor="start" font-weight="bold" fill="#000" textLength="10.6" lengthAdjust="spacingAndGlyphs" stroke="#000" stroke-width="0.25">G-CSF</text>
<line x1="186.5" y1="245" x2="188.3" y2="245" stroke="#000" stroke-width="0.9"/>
<line x1="211.2" y1="245" x2="213" y2="245" stroke="#000" stroke-width="0.9"/>
<line x1="236.6" y1="246.9" x2="239.6" y2="246.9" stroke="#000" stroke-width="1"/>
<line x1="238.1" y1="245.4" x2="238.1" y2="248.4" stroke="#000" stroke-width="1"/>
<line x1="186.5" y1="250.5" x2="188.3" y2="250.5" stroke="#000" stroke-width="0.9"/>
<line x1="210.6" y1="252.4" x2="213.6" y2="252.4" stroke="#000" stroke-width="1"/>
<line x1="212.1" y1="250.9" x2="212.1" y2="253.9" stroke="#000" stroke-width="1"/>
<line x1="236.6" y1="252.4" x2="239.6" y2="252.4" stroke="#000" stroke-width="1"/>
<line x1="238.1" y1="250.9" x2="238.1" y2="253.9" stroke="#000" stroke-width="1"/>
<rect x="30" y="316.2" width="13.6" height="23.3" fill="#0b0b0b"/>
<line x1="36.8" y1="316.2" x2="36.8" y2="313.6" stroke="#000" stroke-width="0.8"/>
<line x1="33.4" y1="313.6" x2="40.2" y2="313.6" stroke="#000" stroke-width="0.8"/>
<rect x="56" y="314.4" width="13.5" height="25.1" fill="#0b0b0b"/>
<line x1="62.75" y1="314.4" x2="62.75" y2="307.8" stroke="#000" stroke-width="0.8"/>
<line x1="59.35" y1="307.8" x2="66.15" y2="307.8" stroke="#000" stroke-width="0.8"/>
<rect x="81.6" y="294" width="13.7" height="45.5" fill="#0b0b0b"/>
<line x1="88.45" y1="294" x2="88.45" y2="284.9" stroke="#000" stroke-width="0.8"/>
<line x1="85.05" y1="284.9" x2="91.85" y2="284.9" stroke="#000" stroke-width="0.8"/>
<rect x="106.8" y="323.3" width="13" height="16.2" fill="#0b0b0b"/>
<line x1="113.3" y1="323.3" x2="113.3" y2="318.7" stroke="#000" stroke-width="0.8"/>
<line x1="109.9" y1="318.7" x2="116.7" y2="318.7" stroke="#000" stroke-width="0.8"/>
<line x1="22.4" y1="276.8" x2="22.4" y2="339.95" stroke="#000" stroke-width="1.15"/>
<line x1="21.95" y1="339.5" x2="122.5" y2="339.5" stroke="#000" stroke-width="1.15"/>
<line x1="21.1" y1="339.5" x2="22.4" y2="339.5" stroke="#000" stroke-width="0.8"/>
<text x="20.4" y="340.93" font-size="4" text-anchor="end" font-weight="bold" fill="#000" textLength="2.22" lengthAdjust="spacingAndGlyphs" stroke="#000" stroke-width="0.26">0</text>
<line x1="21.1" y1="330.6" x2="22.4" y2="330.6" stroke="#000" stroke-width="0.8"/>
<text x="20.4" y="332.03" font-size="4" text-anchor="end" font-weight="bold" fill="#000" textLength="4.45" lengthAdjust="spacingAndGlyphs" stroke="#000" stroke-width="0.26">50</text>
<line x1="21.1" y1="321.7" x2="22.4" y2="321.7" stroke="#000" stroke-width="0.8"/>
<text x="20.4" y="323.13" font-size="4" text-anchor="end" font-weight="bold" fill="#000" textLength="6.67" lengthAdjust="spacingAndGlyphs" stroke="#000" stroke-width="0.26">100</text>
<line x1="21.1" y1="312.8" x2="22.4" y2="312.8" stroke="#000" stroke-width="0.8"/>
<text x="20.4" y="314.23" font-size="4" text-anchor="end" font-weight="bold" fill="#000" textLength="6.67" lengthAdjust="spacingAndGlyphs" stroke="#000" stroke-width="0.26">150</text>
<line x1="21.1" y1="303.9" x2="22.4" y2="303.9" stroke="#000" stroke-width="0.8"/>
<text x="20.4" y="305.33" font-size="4" text-anchor="end" font-weight="bold" fill="#000" textLength="6.67" lengthAdjust="spacingAndGlyphs" stroke="#000" stroke-width="0.26">200</text>
<line x1="21.1" y1="295" x2="22.4" y2="295" stroke="#000" stroke-width="0.8"/>
<text x="20.4" y="296.43" font-size="4" text-anchor="end" font-weight="bold" fill="#000" textLength="6.67" lengthAdjust="spacingAndGlyphs" stroke="#000" stroke-width="0.26">250</text>
<line x1="21.1" y1="286.1" x2="22.4" y2="286.1" stroke="#000" stroke-width="0.8"/>
<text x="20.4" y="287.53" font-size="4" text-anchor="end" font-weight="bold" fill="#000" textLength="6.67" lengthAdjust="spacingAndGlyphs" stroke="#000" stroke-width="0.26">300</text>
<line x1="21.1" y1="277.2" x2="22.4" y2="277.2" stroke="#000" stroke-width="0.8"/>
<text x="20.4" y="278.63" font-size="4" text-anchor="end" font-weight="bold" fill="#000" textLength="6.67" lengthAdjust="spacingAndGlyphs" stroke="#000" stroke-width="0.26">350</text>
<line x1="36.9" y1="277.2" x2="87.8" y2="277.2" stroke="#444" stroke-width="1.1"/>
<text x="63.37" y="278.18" font-size="7" text-anchor="middle" font-weight="bold" fill="#000" letter-spacing="0.55" stroke="#000" stroke-width="0.3">**</text>
<line x1="89" y1="282.3" x2="112.5" y2="282.3" stroke="#444" stroke-width="1.1"/>
<text x="101.57" y="283.28" font-size="7" text-anchor="middle" font-weight="bold" fill="#000" letter-spacing="0.55" stroke="#000" stroke-width="0.3">*</text>
<text x="6.2" y="306" font-size="3.7" text-anchor="middle" font-weight="bold" fill="#000" transform="rotate(-90 6.2 306)" textLength="61" lengthAdjust="spacingAndGlyphs" stroke="#000" stroke-width="0.24">PROGENITOR CELLS/mL BLOOD</text>
<text x="4.8" y="344.93" font-size="4" text-anchor="start" font-weight="bold" fill="#000" textLength="7.7" lengthAdjust="spacingAndGlyphs" stroke="#000" stroke-width="0.26">NAC</text>
<text x="4.8" y="349.83" font-size="4" text-anchor="start" font-weight="bold" fill="#000" textLength="7.6" lengthAdjust="spacingAndGlyphs" stroke="#000" stroke-width="0.26">HGF</text>
<line x1="35.8" y1="343.4" x2="37.2" y2="343.4" stroke="#000" stroke-width="0.9"/>
<line x1="60.45" y1="343.4" x2="63.35" y2="343.4" stroke="#000" stroke-width="1"/>
<line x1="61.9" y1="341.95" x2="61.9" y2="344.85" stroke="#000" stroke-width="1"/>
<line x1="86.8" y1="343.4" x2="88.2" y2="343.4" stroke="#000" stroke-width="0.9"/>
<line x1="111.15" y1="343.4" x2="114.05" y2="343.4" stroke="#000" stroke-width="1"/>
<line x1="112.6" y1="341.95" x2="112.6" y2="344.85" stroke="#000" stroke-width="1"/>
<line x1="35.8" y1="348.3" x2="37.2" y2="348.3" stroke="#000" stroke-width="0.9"/>
<line x1="61.2" y1="348.3" x2="62.6" y2="348.3" stroke="#000" stroke-width="0.9"/>
<line x1="86.05" y1="348.3" x2="88.95" y2="348.3" stroke="#000" stroke-width="1"/>
<line x1="87.5" y1="346.85" x2="87.5" y2="349.75" stroke="#000" stroke-width="1"/>
<line x1="111.15" y1="348.3" x2="114.05" y2="348.3" stroke="#000" stroke-width="1"/>
<line x1="112.6" y1="346.85" x2="112.6" y2="349.75" stroke="#000" stroke-width="1"/>
<rect x="180.6" y="336" width="13.8" height="3.5" fill="#0b0b0b"/>
<rect x="206.1" y="290.7" width="13.9" height="48.8" fill="#0b0b0b"/>
<line x1="213.05" y1="290.7" x2="213.05" y2="280.5" stroke="#000" stroke-width="0.8"/>
<line x1="209.45" y1="280.5" x2="216.65" y2="280.5" stroke="#000" stroke-width="0.8"/>
<rect x="231" y="316.1" width="13.8" height="23.4" fill="#0b0b0b"/>
<line x1="237.9" y1="316.1" x2="237.9" y2="312.3" stroke="#000" stroke-width="0.8"/>
<line x1="234.3" y1="312.3" x2="241.5" y2="312.3" stroke="#000" stroke-width="0.8"/>
<line x1="172.6" y1="276.9" x2="172.6" y2="339.95" stroke="#000" stroke-width="1.15"/>
<line x1="172.15" y1="339.5" x2="250" y2="339.5" stroke="#000" stroke-width="1.15"/>
<line x1="171.3" y1="339.5" x2="172.6" y2="339.5" stroke="#000" stroke-width="0.8"/>
<text x="170.6" y="340.93" font-size="4" text-anchor="end" font-weight="bold" fill="#000" textLength="2.22" lengthAdjust="spacingAndGlyphs" stroke="#000" stroke-width="0.26">0</text>
<line x1="171.3" y1="323.95" x2="172.6" y2="323.95" stroke="#000" stroke-width="0.8"/>
<text x="170.6" y="325.38" font-size="4" text-anchor="end" font-weight="bold" fill="#000" textLength="6.67" lengthAdjust="spacingAndGlyphs" stroke="#000" stroke-width="0.26">500</text>
<line x1="171.3" y1="308.4" x2="172.6" y2="308.4" stroke="#000" stroke-width="0.8"/>
<text x="170.6" y="309.83" font-size="4" text-anchor="end" font-weight="bold" fill="#000" textLength="8.9" lengthAdjust="spacingAndGlyphs" stroke="#000" stroke-width="0.26">1000</text>
<line x1="171.3" y1="292.85" x2="172.6" y2="292.85" stroke="#000" stroke-width="0.8"/>
<text x="170.6" y="294.28" font-size="4" text-anchor="end" font-weight="bold" fill="#000" textLength="8.9" lengthAdjust="spacingAndGlyphs" stroke="#000" stroke-width="0.26">1500</text>
<line x1="171.3" y1="277.3" x2="172.6" y2="277.3" stroke="#000" stroke-width="0.8"/>
<text x="170.6" y="278.73" font-size="4" text-anchor="end" font-weight="bold" fill="#000" textLength="8.9" lengthAdjust="spacingAndGlyphs" stroke="#000" stroke-width="0.26">2000</text>
<line x1="187.6" y1="274.7" x2="212.6" y2="274.7" stroke="#444" stroke-width="1.1"/>
<text x="199.47" y="275.68" font-size="7" text-anchor="middle" font-weight="bold" fill="#000" letter-spacing="0.55" stroke="#000" stroke-width="0.3">***</text>
<line x1="212" y1="278.6" x2="238" y2="278.6" stroke="#444" stroke-width="1.1"/>
<text x="227.87" y="279.48" font-size="7" text-anchor="middle" font-weight="bold" fill="#000" letter-spacing="0.55" stroke="#000" stroke-width="0.3">*</text>
<text x="154.5" y="306.5" font-size="3.7" text-anchor="middle" font-weight="bold" fill="#000" transform="rotate(-90 154.5 306.5)" textLength="62" lengthAdjust="spacingAndGlyphs" stroke="#000" stroke-width="0.24">PROGENITOR CELLS/mL BLOOD</text>
<text x="149.9" y="344.86" font-size="3.8" text-anchor="start" font-weight="bold" fill="#000" textLength="7" lengthAdjust="spacingAndGlyphs" stroke="#000" stroke-width="0.25">NAC</text>
<text x="149.9" y="350.06" font-size="3.8" text-anchor="start" font-weight="bold" fill="#000" textLength="10.9" lengthAdjust="spacingAndGlyphs" stroke="#000" stroke-width="0.25">G-CSF</text>
<line x1="186.5" y1="343.8" x2="188.3" y2="343.8" stroke="#000" stroke-width="0.9"/>
<line x1="211.2" y1="343.8" x2="213" y2="343.8" stroke="#000" stroke-width="0.9"/>
<line x1="236.6" y1="345.5" x2="239.6" y2="345.5" stroke="#000" stroke-width="1"/>
<line x1="238.1" y1="344" x2="238.1" y2="347" stroke="#000" stroke-width="1"/>
<line x1="186.5" y1="349.3" x2="188.3" y2="349.3" stroke="#000" stroke-width="0.9"/>
<line x1="210.6" y1="351" x2="213.6" y2="351" stroke="#000" stroke-width="1"/>
<line x1="212.1" y1="349.5" x2="212.1" y2="352.5" stroke="#000" stroke-width="1"/>
<line x1="236.6" y1="351" x2="239.6" y2="351" stroke="#000" stroke-width="1"/>
<line x1="238.1" y1="349.5" x2="238.1" y2="352.5" stroke="#000" stroke-width="1"/>
<path d="M317.49,49.24h0.9M311.06,49.28h0.9M313.23,45.21h0.9M311.99,44.73h0.9M316.2,45.85h0.9M309.61,44.91h0.9M313.52,50.52h0.9M310.74,53.98h0.9M310.81,48.17h0.9M311.89,45.01h0.9M309.39,53.59h0.9M315.55,46.36h0.9M314.16,48.93h0.9M310.06,49.28h0.9M310.4,44.91h0.9M314.24,46.17h0.9M315.58,50.55h0.9M310.87,53.72h0.9M313.72,52.89h0.9M314.99,45.3h0.9M315.72,46.83h0.9M312.05,45.2h0.9M314.64,50.14h0.9M318.84,49.89h0.9M314.63,45.82h0.9M313.68,51.48h0.9M311.39,53.52h0.9M311.06,44.7h0.9M311.52,51.14h0.9M310.85,46.03h0.9M310.22,46.54h0.9M314.85,53.2h0.9M313.05,46.93h0.9M310.74,49.86h0.9M309.21,52.95h0.9M311.03,45.69h0.9M313.82,53.13h0.9M313.42,48.99h0.9M312.85,53.99h0.9M315.08,47.13h0.9M316.71,51.97h0.9M310.27,50.37h0.9M313.43,50.51h0.9M311.41,48.57h0.9M310.72,48.59h0.9M316.24,50.14h0.9M311.88,51.08h0.9M315.64,44.44h0.9M314.72,46.29h0.9M313.56,52.95h0.9M311.8,46.25h0.9M312.46,52.42h0.9M314.09,53.52h0.9M310.54,46.4h0.9M312.4,49.11h0.9M314.82,45.05h0.9M313.88,51.98h0.9M311.38,52.35h0.9M311.85,44.78h0.9M309.93,52.14h0.9M314.02,46.26h0.9M308.48,51.24h0.9M308.78,47.67h0.9M309.84,48.39h0.9M310.69,53.35h0.9M314.83,52.83h0.9M313.71,44.8h0.9M312.2,45.07h0.9M317.48,45.13h0.9M315.34,44.6h0.9M311.75,52.06h0.9M312.14,45.77h0.9M316.42,52.45h0.9M315.46,47.47h0.9M309.16,51.38h0.9M315.7,52.49h0.9M312.12,53.12h0.9M311.59,49.2h0.9M312.29,53.7h0.9M309.64,49.08h0.9M315.36,49.54h0.9M317.8,48.91h0.9M310.87,52.22h0.9M310.99,50.31h0.9M313.25,51.87h0.9M309.29,47.44h0.9M311.16,45.34h0.9M314.91,46.24h0.9M314.86,47.96h0.9M310.75,50.43h0.9M312.72,52.56h0.9M313.99,52.17h0.9M311.66,47.38h0.9M308.67,45.27h0.9M316.62,51.97h0.9M313.67,46.27h0.9M314.95,51.28h0.9M308.32,44.69h0.9M310.02,46.11h0.9M308.81,53.53h0.9M308.56,49.31h0.9M312.09,44.46h0.9M313.77,51.48h0.9M310.51,45.93h0.9M317.76,50.06h0.9M315.02,50.13h0.9M310.5,50.3h0.9M311.3,51.85h0.9M313.38,51.32h0.9M315.64,48.86h0.9M312.06,46.57h0.9M315.52,47.6h0.9M310.41,54h0.9M311.77,51.7h0.9M316.08,46.81h0.9M309.07,46.22h0.9M310.92,51.09h0.9M314.38,53.32h0.9M310.83,50.24h0.9M308.67,44.48h0.9M314.29,47.09h0.9M311.23,47.19h0.9M309.53,44.74h0.9M308.33,44.83h0.9M319.45,53.21h0.9M312.06,53.74h0.9M310.8,53.39h0.9M315.35,46.3h0.9M312.27,45.53h0.9M310.59,49.96h0.9M312.42,34.29h0.9M311.44,45.43h0.9M313.64,46.96h0.9M309.84,50.05h0.9M312.99,53.8h0.9M311.48,50.66h0.9M308.58,50.36h0.9M309.85,50.87h0.9M312.73,47.94h0.9M309.19,52.44h0.9M312.11,52.15h0.9M313.15,46.83h0.9M311.39,50.65h0.9M311.65,53.23h0.9M313.13,45.27h0.9M313.8,49.02h0.9M313.41,51.83h0.9M309.68,47.27h0.9M316.23,47.07h0.9M312.63,45.47h0.9M315.82,53.21h0.9M315.05,46.74h0.9M310.03,53.18h0.9M312.98,47.84h0.9M312.36,46.22h0.9M313.79,43.97h0.9M313.44,49.82h0.9M313.34,52.11h0.9M315.61,45.12h0.9M311.36,50.61h0.9M309.58,51.72h0.9M315.55,53.69h0.9M310.13,51.18h0.9M313.07,52.32h0.9M315.46,42.88h0.9M311.2,52.09h0.9M312.33,45.74h0.9M315.17,46.31h0.9M308.44,53.71h0.9M308.98,51.83h0.9M310.23,48.77h0.9M313.48,46.11h0.9M308.85,51.27h0.9M313.2,46h0.9M314.4,49.63h0.9M311.21,49.6h0.9M311.39,53.76h0.9M308.45,50.53h0.9M310.87,46.98h0.9M314.81,46.63h0.9M312.37,49.88h0.9M311.91,47.44h0.9M309.79,42.99h0.9M308.83,45.79h0.9M317.19,49.23h0.9M314.53,45.27h0.9M309.93,53.57h0.9M314.17,46.27h0.9M309.86,48.21h0.9M313.37,52.38h0.9M309.64,45.07h0.9M315.02,50.97h0.9M309.62,48.8h0.9M314.56,47.98h0.9M310.05,49.79h0.9M321.76,50.05h0.9M310.91,49.55h0.9M310.63,48.12h0.9M312.9,47.52h0.9M314.48,51.33h0.9M309.1,45.24h0.9M312.07,46.07h0.9M311.26,46.52h0.9M313.23,48.26h0.9M312.27,50.59h0.9M311.81,46.22h0.9M310.79,48.2h0.9M316.96,50.22h0.9M309.08,47.64h0.9M314.7,51.96h0.9M314.34,45.86h0.9M315.32,49.17h0.9M311.37,53.87h0.9M312.03,53.47h0.9M308.73,45.13h0.9M314.22,53.31h0.9M311.34,45.53h0.9M316.21,49.75h0.9M316.68,53.12h0.9M314.23,52.3h0.9M313.63,49.49h0.9M315.93,49.63h0.9M310.91,49.71h0.9M311.9,51.46h0.9M311.36,52.1h0.9M309.74,48.07h0.9M315.39,49.36h0.9M311.79,44.7h0.9M312.11,53.61h0.9M310.66,51h0.9M313.4,35.13h0.9M313.62,48.53h0.9M315.27,48.51h0.9M311.4,44.86h0.9M315.96,51.6h0.9M312.39,45h0.9M313.11,44.83h0.9M313.84,46.64h0.9M310.75,53.14h0.9M313.98,52.71h0.9M309.26,49.81h0.9M311.44,51.99h0.9M318.69,46.69h0.9M310.73,44.94h0.9M313.88,49.99h0.9M312.25,53.02h0.9M318.44,49.27h0.9M309.19,52.68h0.9M314.42,48.9h0.9M316.1,52.09h0.9M312.92,52.84h0.9M313.76,53.04h0.9M315.23,45.63h0.9M315.25,46.49h0.9M310.02,46.23h0.9M312.99,46.54h0.9M315.97,47.42h0.9M311.37,53.84h0.9M313.52,50.13h0.9M309.16,52.1h0.9M309.82,47.03h0.9M316.69,53h0.9M315.44,50.18h0.9M312.87,49.71h0.9M311.81,50.7h0.9M310.27,48.62h0.9M309.59,46.61h0.9M309.24,44.67h0.9M315.92,49.87h0.9M313.52,49.13h0.9M310.48,46.87h0.9M317.42,49.58h0.9M315.15,45.74h0.9M311.88,49.41h0.9M309.2,45.19h0.9M313.79,51.01h0.9M314.5,53.32h0.9M309.89,53.72h0.9M315.62,49.65h0.9M315.18,46.66h0.9M314.01,48.13h0.9M309.76,53.96h0.9M313.38,46.55h0.9M311.3,53.35h0.9M309.25,53.82h0.9M315.21,44.9h0.9M309.3,52.69h0.9M314.88,52.48h0.9M311.41,50.03h0.9M312.16,45.91h0.9M309.29,48.65h0.9M315.46,52.67h0.9M309.47,47.84h0.9M309.35,46.09h0.9M316,46.93h0.9M314.41,53.39h0.9M309.57,50.37h0.9M308.89,48.14h0.9M313.47,45.79h0.9M314.89,49.59h0.9M308.95,46.85h0.9M312.32,47.04h0.9M311.85,48.07h0.9M313.25,46.42h0.9M311.81,50.43h0.9M315.2,50.81h0.9M317.37,50.45h0.9M310.66,48.12h0.9M311.11,47.04h0.9M310.82,48.93h0.9M309.85,47.64h0.9M311,49.96h0.9M309.62,48.11h0.9M310.44,48.24h0.9M314.03,47.48h0.9M308.36,47.69h0.9M311.34,46.13h0.9M309.57,53.56h0.9M317.52,44.37h0.9M311.26,47h0.9M314.71,47.31h0.9M310.68,46.54h0.9M312.77,44.34h0.9M311.64,50.62h0.9M314,49.75h0.9M314.98,52.9h0.9M308.97,51.05h0.9M317.1,50.34h0.9M310.04,47.9h0.9M313.63,49.3h0.9M309.73,51.15h0.9M308.84,51.8h0.9M308.91,47.49h0.9M311.47,53.67h0.9M309.39,51.17h0.9M314.96,47.98h0.9M309.38,46.12h0.9M317.18,43.86h0.9M309.95,48.17h0.9M310.29,47.1h0.9M314.11,44.59h0.9M312.92,47.94h0.9M310.82,48.12h0.9M308.83,53.46h0.9M312.69,52.07h0.9M309.15,51.01h0.9M310.42,44.52h0.9M313.05,50.38h0.9M308.91,46.84h0.9M313.19,52.96h0.9M331.36,49h0.8M332.67,51.76h0.8M336.51,48.34h0.8M332.61,49.65h0.8M329.39,50.35h0.8M334.42,49h0.8M331.49,45.96h0.8M330.2,45.05h0.8M329.09,49.3h0.8M334.96,46.36h0.8M332.09,52.16h0.8M331.64,48.76h0.8M329.23,52.66h0.8M335.34,51.15h0.8M331.71,49.91h0.8M337.19,48.09h0.8M329.25,53.83h0.8M329.39,47.03h0.8M334.4,48.32h0.8M332.73,51.5h0.8M332.72,50.91h0.8M335.71,45.35h0.8M333.17,44.42h0.8M333.54,48.23h0.8M330.39,54.04h0.8M333.17,51.62h0.8M336.65,53.88h0.8M325.95,48.28h0.8M334.44,46.05h0.8M331.03,53.9h0.8M333.15,50.47h0.8M329.15,50.29h0.8M334.21,52.97h0.8M328.98,49.82h0.8M335.31,48.71h0.8M334.85,48.39h0.8M330.38,49.87h0.8M332.92,44.64h0.8M329.84,50.08h0.8M329.79,52h0.8M334.01,48.88h0.8M329.58,53.9h0.8M327.64,53.9h0.8M334.62,46.59h0.8M333.66,43.84h0.8M333.86,53.94h0.8M327.82,52.74h0.8M331.28,45.95h0.8M328.77,50.7h0.8M332.4,45.04h0.8M333.63,51.94h0.8M329.88,49.35h0.8M334.35,53.09h0.8M328.35,51.57h0.8M333.67,44.69h0.8M332.9,52.54h0.8M332.79,53.05h0.8M338.38,50.41h0.8M334.96,48.76h0.8M330.1,48.5h0.8M333.99,50.42h0.8M331.95,50.16h0.8M331.2,51.04h0.8M330.25,45.58h0.8M336.15,47.79h0.8M335.67,53.95h0.8M330.27,47.33h0.8M327.93,45.74h0.8M329.95,45.8h0.8M329.42,53.44h0.8M333.22,51.13h0.8M332.04,52.77h0.8M334.99,52.59h0.8M330.51,44.86h0.8M328.6,48.67h0.8M334.39,48.38h0.8M331.2,53.77h0.8M330.71,46.7h0.8M335.43,45.61h0.8M333.23,47.63h0.8M330.57,52.6h0.8M329.04,45.29h0.8M332.58,47.95h0.8M331.08,50.8h0.8M335.22,47.83h0.8M332.24,47.39h0.8M330.11,43.94h0.8M339.44,52.34h0.8M330.58,51.11h0.8M332.65,48.21h0.8M331.72,46.44h0.8M333.43,45.71h0.8M331.62,51.5h0.8M333.03,50.35h0.8M332.48,46.78h0.8M331.29,49.32h0.8M336.71,47.73h0.8M329.92,49.49h0.8M335.09,49.24h0.8M334.56,49.82h0.8M332.46,47.17h0.8M332.51,49.26h0.8M334.3,46.43h0.8M328.69,52.56h0.8M332.68,52.55h0.8M335.45,48.26h0.8M337.19,52.68h0.8M334.23,45.82h0.8M331.15,48.49h0.8M327.82,49.47h0.8M332.91,53.67h0.8M331.94,52.53h0.8M334.2,46.85h0.8M332.47,53.22h0.8M330.36,52.9h0.8M334.27,44.49h0.8M330.51,46.27h0.8M333.02,46.83h0.8M329.95,47.8h0.8M333.68,48.69h0.8M336.23,49.43h0.8M330.39,46.48h0.55M319.57,47.37h0.55M328.85,51.58h0.55M328.94,48.26h0.55M340.49,50.07h0.55M340.36,50.11h0.55M326.08,50.22h0.55M331.4,49.14h0.55M329.63,51.7h0.55M318.45,46.77h0.55M323.69,41.45h0.55M326.88,50.9h0.55M319.24,53.06h0.55M337.24,47.4h0.55M336.95,48.23h0.55M335.6,50.37h0.55M330.5,48h0.55M332.59,53.36h0.55M335.34,44.38h0.55M334.96,50.9h0.55M327.8,52.61h0.55M326.29,48.55h0.55M320.02,51.43h0.55M318.9,52.39h0.55M333.25,45.43h0.55M320.03,53.55h0.55M330.69,50.26h0.55M330.12,53.54h0.55M320.15,48.08h0.55M327.6,50.85h0.55M339.57,51h0.55M326.54,49.35h0.55M319.71,45.94h0.55M331.31,47.68h0.55M321.13,50.05h0.55M329.72,49.88h0.55M337.5,49.98h0.55M328.77,45.99h0.55M322.81,51.39h0.55M331.05,44.95h0.55M337.08,51.26h0.55M327.62,49.74h0.55M328.17,46.57h0.55M314.32,37.75h0.55M322.65,42.13h0.55M319.07,41.58h0.55M310.45,41.66h0.55M323.74,41.6h0.55M309.15,41.87h0.55M309.09,41.1h0.55M311.46,39.65h0.55M311.5,42.17h0.55M308.83,39.24h0.55M325.83,39.16h0.55M311.13,40.52h0.55M322.71,41.7h0.55M312.6,37.48h0.55M308.73,40.83h0.55M315.01,42.61h0.55M309.63,40.95h0.55M315.37,40.62h0.55M308.76,40.73h0.55M309.65,39.65h0.55M311.73,41.88h0.55M320.03,38.64h0.55M317.24,40.78h0.55" stroke="#000" stroke-width="0.9" fill="none"/>
<rect x="307.6" y="17.9" width="38.3" height="37" fill="none" stroke="#1a1a1a" stroke-width="0.6"/>
<line x1="307.6" y1="17.9" x2="307.6" y2="54.9" stroke="#111" stroke-width="0.9"/>
<line x1="307.6" y1="54.9" x2="345.9" y2="54.9" stroke="#111" stroke-width="0.8"/>
<line x1="323.42" y1="17.9" x2="323.42" y2="54.9" stroke="#1a1a1a" stroke-width="0.55"/>
<line x1="307.6" y1="43.43" x2="345.9" y2="43.43" stroke="#1a1a1a" stroke-width="0.55"/>
<text x="326.45" y="14.9" font-size="3.9" text-anchor="middle" font-weight="bold" fill="#000" textLength="21.1" lengthAdjust="spacingAndGlyphs" stroke="#000" stroke-width="0.25">CONTROL</text>
<text x="334.98" y="22.32" font-size="3.7" text-anchor="middle" font-weight="bold" fill="#000" textLength="12.3" lengthAdjust="spacingAndGlyphs" stroke="#000" stroke-width="0.24">0.05%</text>
<line x1="306.5" y1="54.9" x2="307.6" y2="54.9" stroke="#111" stroke-width="0.6"/>
<line x1="307.6" y1="54.9" x2="307.6" y2="55.9" stroke="#111" stroke-width="0.6"/>
<text x="307" y="61.2" font-size="3.3" text-anchor="middle" font-weight="bold" fill="#222">10</text>
<text x="309.8" y="58.8" font-size="2" text-anchor="middle" font-weight="bold" fill="#333">0</text>
<text x="305.2" y="56.5" font-size="3" text-anchor="end" font-weight="bold" fill="#222">10</text>
<text x="303" y="53.7" font-size="1.9" text-anchor="middle" font-weight="bold" fill="#333">0</text>
<line x1="306.5" y1="45.65" x2="307.6" y2="45.65" stroke="#111" stroke-width="0.6"/>
<line x1="317.18" y1="54.9" x2="317.18" y2="55.9" stroke="#111" stroke-width="0.6"/>
<text x="316.57" y="61.2" font-size="3.3" text-anchor="middle" font-weight="bold" fill="#222">10</text>
<text x="319.38" y="58.8" font-size="2" text-anchor="middle" font-weight="bold" fill="#333">1</text>
<text x="305.2" y="47.25" font-size="3" text-anchor="end" font-weight="bold" fill="#222">10</text>
<text x="303" y="44.45" font-size="1.9" text-anchor="middle" font-weight="bold" fill="#333">1</text>
<line x1="306.5" y1="36.4" x2="307.6" y2="36.4" stroke="#111" stroke-width="0.6"/>
<line x1="326.75" y1="54.9" x2="326.75" y2="55.9" stroke="#111" stroke-width="0.6"/>
<text x="326.15" y="61.2" font-size="3.3" text-anchor="middle" font-weight="bold" fill="#222">10</text>
<text x="328.95" y="58.8" font-size="2" text-anchor="middle" font-weight="bold" fill="#333">2</text>
<text x="305.2" y="38" font-size="3" text-anchor="end" font-weight="bold" fill="#222">10</text>
<text x="303" y="35.2" font-size="1.9" text-anchor="middle" font-weight="bold" fill="#333">2</text>
<line x1="306.5" y1="27.15" x2="307.6" y2="27.15" stroke="#111" stroke-width="0.6"/>
<line x1="336.33" y1="54.9" x2="336.33" y2="55.9" stroke="#111" stroke-width="0.6"/>
<text x="335.73" y="61.2" font-size="3.3" text-anchor="middle" font-weight="bold" fill="#222">10</text>
<text x="338.53" y="58.8" font-size="2" text-anchor="middle" font-weight="bold" fill="#333">3</text>
<text x="305.2" y="28.75" font-size="3" text-anchor="end" font-weight="bold" fill="#222">10</text>
<text x="303" y="25.95" font-size="1.9" text-anchor="middle" font-weight="bold" fill="#333">3</text>
<line x1="306.5" y1="17.9" x2="307.6" y2="17.9" stroke="#111" stroke-width="0.6"/>
<line x1="345.9" y1="54.9" x2="345.9" y2="55.9" stroke="#111" stroke-width="0.6"/>
<text x="345.3" y="61.2" font-size="3.3" text-anchor="middle" font-weight="bold" fill="#222">10</text>
<text x="348.1" y="58.8" font-size="2" text-anchor="middle" font-weight="bold" fill="#333">4</text>
<text x="305.2" y="19.5" font-size="3" text-anchor="end" font-weight="bold" fill="#222">10</text>
<text x="303" y="16.7" font-size="1.9" text-anchor="middle" font-weight="bold" fill="#333">4</text>
<path d="M366.52,47.79h0.9M370.31,50.62h0.9M366.48,47.91h0.9M368.46,43.54h0.9M365.84,53.52h0.9M372.64,53.05h0.9M368.36,45.49h0.9M368.38,50.77h0.9M375.37,49.85h0.9M368.86,47.76h0.9M366.16,51.15h0.9M367.69,49.72h0.9M370.46,45.63h0.9M376.17,46.09h0.9M373.45,50.96h0.9M370.76,53.35h0.9M378.6,45.41h0.9M369.54,50.26h0.9M370.46,49.36h0.9M370.59,44.99h0.9M370.18,44.47h0.9M370.09,47.57h0.9M373.91,46.6h0.9M371.05,48.96h0.9M371.73,46.63h0.9M370.15,52.81h0.9M371.88,47.25h0.9M365.93,48.34h0.9M368.36,47.78h0.9M373.01,51.97h0.9M370.2,51.97h0.9M367.2,48.93h0.9M373.86,49.16h0.9M376.12,46.32h0.9M372.73,52.79h0.9M369.34,51.24h0.9M370.87,52.86h0.9M371.72,45.13h0.9M367.03,53.41h0.9M367.5,47.3h0.9M369.98,49.43h0.9M366.22,53.49h0.9M369.22,45.07h0.9M366.39,45.88h0.9M377.32,47.18h0.9M373.29,52.51h0.9M366.58,53.46h0.9M374.86,44.83h0.9M366.94,51.45h0.9M369.21,49.54h0.9M368.92,44.48h0.9M370.34,46.85h0.9M368.29,47.4h0.9M369.88,45.21h0.9M369.01,47.54h0.9M372.03,53.6h0.9M369.55,49.97h0.9M372.89,48.75h0.9M371.55,49.74h0.9M371.09,44.35h0.9M368.51,49.88h0.9M369.23,48.99h0.9M370.64,48.28h0.9M371.09,49.96h0.9M375.38,53.06h0.9M367.31,51.65h0.9M369.86,49.57h0.9M369.39,52.4h0.9M368.33,52.16h0.9M372.56,46.69h0.9M374.77,49.28h0.9M367.44,43.38h0.9M374.02,53.83h0.9M371.93,46.13h0.9M370.76,45.54h0.9M371.56,53.45h0.9M368.63,49.54h0.9M370.69,49.32h0.9M372.95,46.14h0.9M367.87,53.3h0.9M374.86,47.03h0.9M369.28,44.67h0.9M367.4,46.75h0.9M366.89,46.66h0.9M367.13,49.43h0.9M370.74,48.34h0.9M366.14,54.08h0.9M372.78,51.88h0.9M373.65,51.74h0.9M365.71,49.66h0.9M367.18,51.75h0.9M366.12,48.75h0.9M370.2,52.24h0.9M371.33,51.05h0.9M366.29,48.45h0.9M370.26,50.92h0.9M367.64,51.2h0.9M371.11,45.03h0.9M367.58,45.35h0.9M372.21,47.38h0.9M367.88,47.27h0.9M369.7,48.19h0.9M367.97,51.98h0.9M367.94,48.71h0.9M367.17,48.31h0.9M366.41,52.84h0.9M371.24,53.01h0.9M370.97,51.49h0.9M370.71,53.51h0.9M368.96,46.52h0.9M367.86,53.81h0.9M365.83,51.74h0.9M366.52,46.47h0.9M369.02,49.05h0.9M373.92,45.14h0.9M372.48,45.47h0.9M368.57,49.76h0.9M369.39,54.13h0.9M372.41,53.52h0.9M371.38,45.95h0.9M369.02,47.3h0.9M368.47,45.73h0.9M367.17,50.48h0.9M372.76,47.99h0.9M368.07,52.34h0.9M373.14,47.8h0.9M372.93,45.77h0.9M366.36,52.19h0.9M367.19,45.16h0.9M370.22,51.05h0.9M369.64,51.07h0.9M368.94,47.59h0.9M370.96,48.6h0.9M373.34,50.22h0.9M370.68,45.78h0.9M372.24,48.59h0.9M370.99,45.99h0.9M375.75,46.42h0.9M371.7,46.54h0.9M368.98,51.06h0.9M369.11,45.25h0.9M371.04,53.85h0.9M370.99,44.53h0.9M369.63,46.97h0.9M369.57,47.13h0.9M368.13,47.81h0.9M366.65,47.33h0.9M372.37,45.42h0.9M367.21,52.91h0.9M370.98,50.71h0.9M367.59,49.2h0.9M371.85,47.24h0.9M367.9,46.57h0.9M368.51,52.57h0.9M366.88,48.73h0.9M375.67,46.24h0.9M370.9,53.72h0.9M369.46,47.33h0.9M367.26,48.1h0.9M373.01,52.75h0.9M366.14,46h0.9M372.5,47.77h0.9M368.81,47.59h0.9M370.02,50.68h0.9M366.32,51.7h0.9M371.98,50.49h0.9M367.33,47.98h0.9M374.2,52.05h0.9M365.98,48.91h0.9M370.99,46.84h0.9M371.89,53.37h0.9M372.33,48.03h0.9M370.3,49.12h0.9M374.61,47.03h0.9M369.91,46.62h0.9M367.3,45.44h0.9M369.43,48.04h0.9M370.4,44.6h0.9M368.71,50.06h0.9M372.1,49.17h0.9M366.26,46.16h0.9M366.92,52.69h0.9M367.75,53.71h0.9M370.24,44.83h0.9M365.83,45.9h0.9M376.02,45.17h0.9M372.46,46.18h0.9M367.86,45.96h0.9M374.01,45.78h0.9M367.71,44.71h0.9M370.23,47.58h0.9M370.84,49.57h0.9M368.05,48.04h0.9M367.45,54.08h0.9M366.53,52.71h0.9M368.46,48.13h0.9M375.23,45.32h0.9M373.15,41.06h0.9M367.74,53.62h0.9M371.08,51.88h0.9M369.39,47.03h0.9M368.24,52.62h0.9M369.27,47.87h0.9M372.29,49.71h0.9M374.94,44.34h0.9M367.56,52.25h0.9M374.26,48.99h0.9M372.06,53.35h0.9M367.74,47.35h0.9M366.39,51.9h0.9M371.3,50.29h0.9M370.81,51.4h0.9M370.97,53.69h0.9M366.74,52.3h0.9M370.78,52.61h0.9M371.22,46.55h0.9M370.43,44.95h0.9M372.89,53.44h0.9M371.21,52.88h0.9M373.11,52.68h0.9M372.54,48.6h0.9M369.98,46.88h0.9M370.44,49.27h0.9M370.39,53.91h0.9M373.06,48.74h0.9M371.26,45.05h0.9M370.34,54h0.9M369.13,45.1h0.9M371.25,50.15h0.9M371.6,47.18h0.9M368.34,52.9h0.9M367.91,45.65h0.9M370.36,46.4h0.9M367.49,44.82h0.9M369.6,51.25h0.9M372.91,53.04h0.9M371.26,44.77h0.9M368.13,49.85h0.9M366.86,47.83h0.9M368.62,53.07h0.9M368.77,49.2h0.9M377.72,46.1h0.9M369.88,51.52h0.9M369.61,48.39h0.9M369.94,45.25h0.9M365.77,53.75h0.9M373.25,50.26h0.9M373.38,52.81h0.9M367.13,48.3h0.9M369.73,47.74h0.9M370.9,52.49h0.9M373.21,46.76h0.9M373.07,53.78h0.9M367.46,50.5h0.9M371.29,46.79h0.9M371.19,48.91h0.9M376.08,48.44h0.9M365.77,52.09h0.9M366.87,45.49h0.9M367.44,48.71h0.9M366.84,44.67h0.9M373.99,53.25h0.9M376.07,45.55h0.9M373.25,45.23h0.9M369.14,53.92h0.9M375.72,42.59h0.9M366.93,49.46h0.9M373.18,51.23h0.9M366.08,45.9h0.9M366.58,53.6h0.9M366.87,48.83h0.9M369.5,52.51h0.9M374.94,49.63h0.9M367.06,51.76h0.9M369.68,48.32h0.9M371.23,50.86h0.9M371.11,46.24h0.9M370.18,49h0.9M369.21,50.92h0.9M370.71,46.57h0.9M371.67,46.92h0.9M366.04,50.6h0.9M370.83,48.85h0.9M371.07,50.96h0.9M368.76,44.77h0.9M371.53,44.64h0.9M376.63,53.85h0.9M367.62,45.66h0.9M372.71,47.17h0.9M367.78,51.73h0.9M367.09,46.16h0.9M374.62,48.86h0.9M369.98,48.89h0.9M376.48,53.92h0.9M368.69,51.84h0.9M368.63,47.92h0.9M368.72,47.76h0.9M365.7,48.38h0.9M366.26,46.7h0.9M367.57,46.53h0.9M370.66,48.2h0.9M371.23,44.49h0.9M368.76,46.94h0.9M370.76,47.21h0.9M371.42,52.83h0.9M366.69,49.41h0.9M372.89,49.1h0.9M371,41.44h0.9M370.27,50.85h0.9M372.25,52.25h0.9M369.63,51.6h0.9M372.15,52.03h0.9M370.66,46.5h0.9M373.73,45.11h0.9M367.16,44.92h0.9M369.67,47.6h0.9M365.83,51.22h0.9M366.66,50.83h0.9M368.26,48.54h0.9M367.92,46.69h0.9M369.99,53.92h0.9M371.13,45.21h0.9M366.79,46.62h0.9M375.44,51.89h0.9M367.06,51.75h0.9M369.93,47.47h0.9M373.6,53.72h0.9M366.33,44.16h0.9M366.56,51.04h0.9M368.14,44.99h0.9M369.56,46.31h0.9M374.79,49.63h0.9M370.81,46.52h0.9M365.72,51.05h0.9M370.12,48.37h0.9M369.94,47.61h0.9M372.68,44.85h0.9M373.74,52.14h0.9M368.25,53.99h0.9M365.96,50.5h0.9M368.42,52.36h0.9M368.71,42.06h0.9M367.46,53.01h0.9M370.18,53.93h0.9M365.92,51.01h0.9M367.37,50.11h0.9M376.6,44.47h0.9M369,49.4h0.9M368.22,44.96h0.9M365.91,44.86h0.9M371.43,52.45h0.9M370.61,50.37h0.9M368.81,53.69h0.9M369.47,45.01h0.9M377.86,46.44h0.9M369.15,53.08h0.9M368.89,52.1h0.9M369.39,49.96h0.9M375.84,51.27h0.9M374.18,52h0.9M372.83,48.65h0.9M371.84,44.71h0.9M373.96,51.3h0.9M368.54,51.79h0.9M367.56,47.11h0.9M372.05,51.79h0.9M365.7,49.38h0.9M373.91,45.91h0.9M366.38,50.34h0.9M369.8,45.75h0.9M369.21,48.39h0.9M369.88,48.02h0.9M370.89,52.78h0.9M366.36,46.58h0.9M372.52,45.84h0.9M366.62,53.99h0.9M368.59,53.13h0.9M366.03,50.39h0.9M369.82,48.52h0.9M371.61,45.26h0.9M373.08,50.79h0.9M367.3,51.99h0.9M369.07,49.52h0.9M374.27,46.25h0.9M368.16,49.68h0.9M367.45,45.5h0.9M367.75,52.34h0.9M368.55,51.35h0.9M370.43,45.14h0.9M370.6,48.94h0.9M367.35,50.07h0.9M369.23,50.26h0.9M368.09,49.08h0.9M370.87,44.29h0.9M373.96,44.83h0.9M370.89,51.72h0.9M370.25,48.03h0.9M373.12,49.56h0.9M371.28,45.74h0.9M373.89,52.58h0.9M370.33,44.86h0.9M367.88,48.76h0.9M367.85,45.1h0.9M371.91,52.71h0.9M374.18,47h0.9M367.03,44.79h0.9M369.39,52.49h0.9M368.62,49.73h0.9M367.77,49.96h0.9M368.97,52.14h0.9M370.63,46.71h0.9M370.75,49.1h0.9M368.19,51.68h0.9M370.91,44.36h0.9M372.15,50.59h0.9M367.54,44.71h0.9M370.42,51.16h0.9M365.73,53.35h0.9M369.91,49.96h0.9M370.47,50.54h0.9M391.35,48.59h0.8M387.38,47.88h0.8M384.72,49.34h0.8M391.07,49.68h0.8M387.74,46.61h0.8M386.27,48.58h0.8M393.69,49.89h0.8M385.19,48.72h0.8M391.04,46.53h0.8M393.08,46.29h0.8M389.48,45.99h0.8M390.08,50.13h0.8M387.11,47.19h0.8M387.12,50.99h0.8M390,53.76h0.8M393.08,49.64h0.8M389.36,48.51h0.8M387.09,51.28h0.8M380.95,48.05h0.8M389.36,44.5h0.8M385.8,51.9h0.8M386.98,51.51h0.8M386.32,50.78h0.8M386.98,45.21h0.8M387.37,53.71h0.8M385.67,45.94h0.8M386.79,52.92h0.8M388.96,51.22h0.8M390.57,53.77h0.8M393.31,53.78h0.8M390.26,47.77h0.8M384.44,49.54h0.8M390.95,49.68h0.8M390.01,53.56h0.8M385.88,46.95h0.8M384.35,50.6h0.8M387.66,47.11h0.8M390.1,48.41h0.8M390.65,46.94h0.8M387.07,45.79h0.8M389.74,46.14h0.8M386.98,51.22h0.8M388.48,50.94h0.8M388.94,52.74h0.8M394.06,48.21h0.8M386.45,49.75h0.8M387.71,49.08h0.8M388.03,50.59h0.8M389.21,48.99h0.8M389.73,49.12h0.8M389.41,44.45h0.8M388.71,47.38h0.8M382.59,52.59h0.8M389.5,53.13h0.8M388.27,48.97h0.8M387.5,53.27h0.8M387.47,52.12h0.8M389.31,50.01h0.8M390.68,49.22h0.8M390.14,46.53h0.8M387.89,43.8h0.8M391.37,49.06h0.8M386.27,45.15h0.8M389.95,45.33h0.8M390.15,46.22h0.8M389.36,51.75h0.8M387.8,53.95h0.8M389.59,48.63h0.8M385.36,47.55h0.8M389.55,45.95h0.8M390.17,46.11h0.8M389.92,47.08h0.8M391.62,47.55h0.8M391.7,47.54h0.8M386.62,50.7h0.8M389.25,47.72h0.8M387.12,47.78h0.8M385.8,48.99h0.8M391.83,45.75h0.8M388.92,46.73h0.8M387.24,48.5h0.8M388.07,44.97h0.8M388.02,46.78h0.8M388.76,53.5h0.8M385.08,50.42h0.8M389.64,46.47h0.8M389.52,49.87h0.8M391.45,51.43h0.8M388.6,44.77h0.8M389.23,51.86h0.8M388.2,49.68h0.8M392.08,44.93h0.8M387.29,44.99h0.8M390.28,48.78h0.8M391.94,49.78h0.8M387.57,45.61h0.8M384.1,47.4h0.8M391.14,49.67h0.8M385.35,45.32h0.8M388.13,49.64h0.8M387.53,48.48h0.8M389.27,52.9h0.8M391.24,47.36h0.8M386.63,51.64h0.8M389.98,51.71h0.8M385.4,44.67h0.8M389.99,47.37h0.8M390.37,49.36h0.8M386.85,44.43h0.8M388.63,54.04h0.8M389.64,52.84h0.8M387.18,47.21h0.8M392.58,46.72h0.8M389.91,45.24h0.8M387.78,49.12h0.8M389.97,45.69h0.8M387.25,44.9h0.8M386.24,48.39h0.8M387.52,48.19h0.8M385.95,50.71h0.8M391,50.13h0.8M392.74,53.46h0.8M388.09,46.32h0.8M389.03,47.73h0.8M391.93,45.77h0.8M389.1,49.41h0.8M390.38,48.22h0.8M391.91,47.1h0.8M387.16,44.31h0.8M393.06,53.54h0.8M388.49,45.83h0.8M387.7,47.99h0.8M387.93,48.2h0.8M391.16,52.02h0.8M386.74,53.75h0.8M392.25,46.86h0.8M384.54,53.24h0.8M388.04,45h0.8M387.67,44.4h0.8M390.8,53.24h0.8M390.31,52.47h0.8M388.18,46.6h0.8M388.09,48.33h0.8M391.74,47.33h0.8M388.38,47.28h0.8M390.64,50.81h0.8M390.07,51.32h0.8M388.76,51.01h0.8M388.63,46.04h0.8M388.15,46.09h0.8M388.85,49.4h0.8M390.32,50.21h0.8M390.06,45.1h0.8M390.97,51.92h0.8M391.36,49.39h0.8M388.71,49.9h0.8M385.55,48.51h0.8M392.11,45.83h0.8M394.33,53.76h0.8M392.25,50.14h0.8M389.13,45.99h0.8M387.44,44.74h0.8M387.03,45.42h0.8M389.36,51.89h0.8M386.3,47.14h0.8M389.01,44.69h0.8M389.22,53.11h0.8M388.21,50.24h0.8M386.08,50.66h0.8M391.09,49.06h0.8M386.39,46.67h0.8M390.46,45.94h0.8M381.19,51.43h0.8M390.31,53.4h0.8M388.64,51.63h0.8M391.89,49.71h0.8M389.58,52.66h0.8M385.31,50.71h0.8M388.96,45.38h0.8M387.21,48.31h0.8M389.84,51.77h0.8M388.44,52.36h0.8M390.29,53.53h0.55M378.97,48.78h0.55M378.58,46.13h0.55M378.62,50.57h0.55M390.65,53.53h0.55M384.79,53.3h0.55M390.24,51.55h0.55M392.44,45h0.55M392.24,50.14h0.55M377.4,46.03h0.55M393.82,50.49h0.55M376.39,51.42h0.55M377.26,48.33h0.55M395.15,46.55h0.55M376.55,49.04h0.55M394.91,46.33h0.55M392.69,46h0.55M382.3,51.68h0.55M392.29,49.74h0.55M381.04,52.59h0.55M397.99,47.48h0.55M392.43,52.37h0.55M392.9,53.77h0.55M385.72,50.49h0.55M393.59,53.43h0.55M381.13,48.42h0.55M395.77,44.61h0.55M389.08,53.61h0.55M388.04,51.67h0.55M378.64,48.57h0.55M379.79,47.84h0.55M392.3,47.43h0.55M375.91,49.36h0.55M393.55,47.05h0.55M385.74,52.3h0.55M379.51,48.69h0.55M375.79,50.19h0.55M389.16,45.01h0.55M388.1,47.27h0.55M379.96,49h0.55M383.43,50.85h0.55M381.24,46.83h0.55M392.57,50.08h0.55M392.34,40.87h0.55M383.23,50.39h0.55M377.67,45.24h0.55M390.28,53.24h0.55M394.03,47.62h0.55M382.31,45.4h0.55M395.61,44.41h0.55M398.23,51.82h0.55M385.51,48.49h0.55M376.52,50.59h0.55M375.16,45.71h0.55M376.48,45.17h0.55M396.68,45.21h0.55M393.33,51.9h0.55M389.88,45.98h0.55M378.02,48.51h0.55M370.07,42.12h0.55M368.18,41.29h0.55M368.27,39.88h0.55M372.42,40.92h0.55M370.47,40.23h0.55M376.86,40.35h0.55M374.73,42.64h0.55M368.59,40.68h0.55M369.3,39.38h0.55M370.74,42.06h0.55M375.42,39.59h0.55M366.09,41.67h0.55M367.3,39.46h0.55M377.82,41.39h0.55M379.36,37.75h0.55M371.17,41.4h0.55M366.94,42.07h0.55M378.54,37.73h0.55M377.35,42.58h0.55M375.07,40.2h0.55M369.84,41.28h0.55M366.53,41.51h0.55M376.28,42.08h0.55M369.26,42.35h0.55M378.3,43.08h0.55M367.35,41.09h0.55M383.85,41.12h0.55M383.37,42.54h0.55M373.34,39.82h0.55M373.1,40.49h0.55M374,42.91h0.55M372.31,42.25h0.55M366.74,42.03h0.55M367.07,37.79h0.55" stroke="#000" stroke-width="0.9" fill="none"/>
<rect x="365" y="17.9" width="38.3" height="37" fill="none" stroke="#1a1a1a" stroke-width="0.6"/>
<line x1="365" y1="17.9" x2="365" y2="54.9" stroke="#111" stroke-width="0.9"/>
<line x1="365" y1="54.9" x2="403.3" y2="54.9" stroke="#111" stroke-width="0.8"/>
<line x1="380.82" y1="17.9" x2="380.82" y2="54.9" stroke="#1a1a1a" stroke-width="0.55"/>
<line x1="365" y1="43.43" x2="403.3" y2="43.43" stroke="#1a1a1a" stroke-width="0.55"/>
<text x="383.85" y="14.9" font-size="3.9" text-anchor="middle" font-weight="bold" fill="#000" stroke="#000" stroke-width="0.25">NAC</text>
<text x="392.38" y="22.32" font-size="3.7" text-anchor="middle" font-weight="bold" fill="#000" textLength="12.3" lengthAdjust="spacingAndGlyphs" stroke="#000" stroke-width="0.24">0.06%</text>
<line x1="363.9" y1="54.9" x2="365" y2="54.9" stroke="#111" stroke-width="0.6"/>
<line x1="365" y1="54.9" x2="365" y2="55.9" stroke="#111" stroke-width="0.6"/>
<text x="364.4" y="61.2" font-size="3.3" text-anchor="middle" font-weight="bold" fill="#222">10</text>
<text x="367.2" y="58.8" font-size="2" text-anchor="middle" font-weight="bold" fill="#333">0</text>
<text x="362.6" y="56.5" font-size="3" text-anchor="end" font-weight="bold" fill="#222">10</text>
<text x="360.4" y="53.7" font-size="1.9" text-anchor="middle" font-weight="bold" fill="#333">0</text>
<line x1="363.9" y1="45.65" x2="365" y2="45.65" stroke="#111" stroke-width="0.6"/>
<line x1="374.57" y1="54.9" x2="374.57" y2="55.9" stroke="#111" stroke-width="0.6"/>
<text x="373.97" y="61.2" font-size="3.3" text-anchor="middle" font-weight="bold" fill="#222">10</text>
<text x="376.77" y="58.8" font-size="2" text-anchor="middle" font-weight="bold" fill="#333">1</text>
<text x="362.6" y="47.25" font-size="3" text-anchor="end" font-weight="bold" fill="#222">10</text>
<text x="360.4" y="44.45" font-size="1.9" text-anchor="middle" font-weight="bold" fill="#333">1</text>
<line x1="363.9" y1="36.4" x2="365" y2="36.4" stroke="#111" stroke-width="0.6"/>
<line x1="384.15" y1="54.9" x2="384.15" y2="55.9" stroke="#111" stroke-width="0.6"/>
<text x="383.55" y="61.2" font-size="3.3" text-anchor="middle" font-weight="bold" fill="#222">10</text>
<text x="386.35" y="58.8" font-size="2" text-anchor="middle" font-weight="bold" fill="#333">2</text>
<text x="362.6" y="38" font-size="3" text-anchor="end" font-weight="bold" fill="#222">10</text>
<text x="360.4" y="35.2" font-size="1.9" text-anchor="middle" font-weight="bold" fill="#333">2</text>
<line x1="363.9" y1="27.15" x2="365" y2="27.15" stroke="#111" stroke-width="0.6"/>
<line x1="393.73" y1="54.9" x2="393.73" y2="55.9" stroke="#111" stroke-width="0.6"/>
<text x="393.12" y="61.2" font-size="3.3" text-anchor="middle" font-weight="bold" fill="#222">10</text>
<text x="395.93" y="58.8" font-size="2" text-anchor="middle" font-weight="bold" fill="#333">3</text>
<text x="362.6" y="28.75" font-size="3" text-anchor="end" font-weight="bold" fill="#222">10</text>
<text x="360.4" y="25.95" font-size="1.9" text-anchor="middle" font-weight="bold" fill="#333">3</text>
<line x1="363.9" y1="17.9" x2="365" y2="17.9" stroke="#111" stroke-width="0.6"/>
<line x1="403.3" y1="54.9" x2="403.3" y2="55.9" stroke="#111" stroke-width="0.6"/>
<text x="402.7" y="61.2" font-size="3.3" text-anchor="middle" font-weight="bold" fill="#222">10</text>
<text x="405.5" y="58.8" font-size="2" text-anchor="middle" font-weight="bold" fill="#333">4</text>
<text x="362.6" y="19.5" font-size="3" text-anchor="end" font-weight="bold" fill="#222">10</text>
<text x="360.4" y="16.7" font-size="1.9" text-anchor="middle" font-weight="bold" fill="#333">4</text>
<path d="M430.55,48.83h0.9M421.79,47.32h0.9M422.37,53.03h0.9M424.09,51.61h0.9M423.53,46h0.9M428.21,51.27h0.9M430.8,53.12h0.9M426.24,51.49h0.9M429.31,49.65h0.9M424.4,48.29h0.9M427.82,51.24h0.9M428,48.16h0.9M426.19,45.41h0.9M427.32,50.26h0.9M425.97,49.23h0.9M428.15,45.81h0.9M429.37,46.38h0.9M438.5,51.94h0.9M423.1,48.17h0.9M428.67,51.61h0.9M429.29,53.58h0.9M428.25,45.31h0.9M421.78,45.77h0.9M428.11,52.21h0.9M435.83,49.5h0.9M425.52,52.77h0.9M425.95,53.43h0.9M426.12,50.52h0.9M427.19,51.96h0.9M427.56,44.83h0.9M428.53,45.21h0.9M425.66,47.55h0.9M428.05,51.98h0.9M427.38,47.86h0.9M425.48,50.27h0.9M427.56,45.16h0.9M425.76,51.09h0.9M432.21,46.93h0.9M426.44,51.8h0.9M428.92,49.46h0.9M426.24,48.68h0.9M422.68,47.72h0.9M431.14,47.88h0.9M423.32,53.42h0.9M423.67,46.8h0.9M426.78,45.14h0.9M428.38,46.63h0.9M425.52,52.91h0.9M430.3,47.36h0.9M424.23,47.72h0.9M426.08,50.11h0.9M425.79,52.73h0.9M425.02,53.95h0.9M425.95,45.1h0.9M424.89,49.6h0.9M422.34,51.19h0.9M421.94,53.39h0.9M422.27,49.42h0.9M427.63,44.79h0.9M435.01,49.32h0.9M425.14,50.45h0.9M425.92,45.55h0.9M424.45,51.53h0.9M425.37,48.98h0.9M426.99,52.21h0.9M424.45,52.86h0.9M423.24,49.81h0.9M428.6,52.22h0.9M427.11,51.15h0.9M422.05,52.97h0.9M425.61,52.19h0.9M425.93,51.17h0.9M428.39,47.37h0.9M425,51.62h0.9M423.83,49.3h0.9M427.27,48.49h0.9M428.92,49.12h0.9M427.4,53.09h0.9M422.48,47.54h0.9M430.53,51.67h0.9M429.09,51.38h0.9M424.2,45.32h0.9M428,44.69h0.9M424.79,48.76h0.9M427.98,45.32h0.9M427.39,53.75h0.9M424.43,50.42h0.9M425.29,50.44h0.9M427.46,53.14h0.9M422.05,53.17h0.9M423.68,50.83h0.9M428.45,51.39h0.9M425.8,53.85h0.9M422.44,53.99h0.9M425.14,48.1h0.9M427.01,46.53h0.9M427.3,53.9h0.9M426.86,51.5h0.9M422.37,44.64h0.9M421.81,53.52h0.9M427.22,51.08h0.9M427.52,45.77h0.9M432.12,46.96h0.9M422.65,38.98h0.9M427.12,49.87h0.9M422.1,44.58h0.9M427,53.36h0.9M423.11,51.11h0.9M432.46,52.53h0.9M421.91,47.27h0.9M426.45,53.13h0.9M429.11,48.21h0.9M427.51,52.58h0.9M423.21,44.62h0.9M426.86,46.58h0.9M426.96,50.35h0.9M423.98,50.94h0.9M431.12,51.11h0.9M428.66,46.58h0.9M424.69,53.14h0.9M422.18,53.51h0.9M422.05,48.33h0.9M424.6,44.86h0.9M423.34,51.86h0.9M426.39,52.52h0.9M426.53,51.51h0.9M422.18,48.87h0.9M428.95,49.7h0.9M423.51,52.21h0.9M426.67,53.53h0.9M423.16,49.18h0.9M422.35,50.42h0.9M426.44,46.81h0.9M424.36,48.68h0.9M427.24,45.56h0.9M431.42,48.2h0.9M435.59,45.93h0.9M423.23,49.32h0.9M426.71,50.06h0.9M421.61,46.75h0.9M421.75,50.86h0.9M423.81,51.39h0.9M425.55,49.98h0.9M425.64,45.01h0.9M425.85,50.6h0.9M426.69,45.26h0.9M427.1,46.93h0.9M426.32,53.13h0.9M427.21,45.16h0.9M425.36,48.61h0.9M423.82,46.71h0.9M428.67,47.81h0.9M431.36,51.04h0.9M423.07,49.26h0.9M428.88,45.95h0.9M428.34,51.69h0.9M428.15,51.61h0.9M425.98,50.3h0.9M424.44,49.52h0.9M429.48,51.85h0.9M424.79,50.52h0.9M430.72,48.71h0.9M426.81,49.08h0.9M434.43,51.05h0.9M427.84,47.65h0.9M426.25,46.7h0.9M424.72,51.08h0.9M425.9,48.41h0.9M422.07,53.87h0.9M422.47,46.84h0.9M426.39,48.92h0.9M422.27,49.34h0.9M422.22,46.39h0.9M424.2,47.27h0.9M424.44,50.73h0.9M428.18,48.5h0.9M423.46,51.39h0.9M427.38,50.77h0.9M421.76,52.43h0.9M426.9,51.18h0.9M422.65,53.03h0.9M427.69,47.16h0.9M425.79,48.03h0.9M426.16,51.67h0.9M425.85,47.49h0.9M424.78,51.73h0.9M426,44.4h0.9M428.4,50.07h0.9M432.01,51.46h0.9M422.79,46.54h0.9M430.58,51.97h0.9M427.36,49.88h0.9M425.63,53.45h0.9M423.55,51.79h0.9M428.18,51.14h0.9M426.64,52.85h0.9M426.37,48.26h0.9M429.24,48.83h0.9M424.27,45.48h0.9M421.64,48.1h0.9M425.37,50.12h0.9M426.3,46.34h0.9M426.35,48.53h0.9M423.97,49.5h0.9M425.36,46.88h0.9M422.48,44.59h0.9M430.98,46.96h0.9M429.43,51.33h0.9M422.73,52.86h0.9M425.79,50.55h0.9M425.54,50.6h0.9M426.05,49.84h0.9M428.32,45.62h0.9M423.87,51.59h0.9M421.6,49.34h0.9M425.27,47.98h0.9M423.17,53.73h0.9M423.51,44.62h0.9M430.37,52.63h0.9M428.84,53.09h0.9M426.39,44.35h0.9M427.66,45.53h0.9M423.98,47.06h0.9M427,51.97h0.9M426,49.62h0.9M429.9,53.16h0.9M422.79,48.17h0.9M425.59,48.86h0.9M423.9,45.8h0.9M422.64,48.21h0.9M423.46,50.66h0.9M422.31,45.12h0.9M425.6,44.49h0.9M429.17,53.86h0.9M428.75,47.11h0.9M427.73,44.49h0.9M424.39,48.31h0.9M428.86,48.43h0.9M427.63,48.01h0.9M430.54,51.19h0.9M426.89,44.76h0.9M427.99,51.06h0.9M424.11,46.97h0.9M426.3,51.65h0.9M428.72,52.68h0.9M426.63,47.11h0.9M427.47,52.93h0.9M425.33,53.17h0.9M429.22,52.49h0.9M426.6,48.53h0.9M426.31,49.67h0.9M423.27,44.93h0.9M423.45,46.06h0.9M424.22,45.94h0.9M422.57,45.46h0.9M428.34,44.68h0.9M429.98,52.92h0.9M424.14,47.06h0.9M426.21,50.54h0.9M433.4,47.94h0.9M423.75,49.52h0.9M429.72,47.15h0.9M429.23,53.9h0.9M424.56,50.48h0.9M425.64,47.55h0.9M423.02,52.07h0.9M428.79,46.75h0.9M425.71,49.75h0.9M425.45,50.76h0.9M424.77,48.24h0.9M434.47,49.85h0.9M429.75,47.51h0.9M424.9,45h0.9M424.89,46.18h0.9M422.67,49.02h0.9M421.82,53.61h0.9M425.44,52.23h0.9M426.95,52.32h0.9M424.61,46.56h0.9M425.97,52.88h0.9M426.86,45.57h0.9M421.93,45.78h0.9M424.22,53.01h0.9M422.9,53.31h0.9M426.16,50.46h0.9M422.35,52.94h0.9M426.21,51.61h0.9M422.39,46.24h0.9M425.66,45.63h0.9M421.82,52.19h0.9M430.39,45.05h0.9M428.5,46.34h0.9M427.17,51.99h0.9M423.58,46.03h0.9M422.71,44.33h0.9M423.45,45.35h0.9M427.11,51.49h0.9M427.54,47.37h0.9M427.81,45.81h0.9M425.13,50.77h0.9M423.01,50.12h0.9M428.66,46.45h0.9M426.47,49.41h0.9M429.14,45.59h0.9M433.49,50.92h0.9M425.79,52.36h0.9M425.72,53.31h0.9M430.52,47.47h0.9M428.1,49.16h0.9M424.87,47.73h0.9M425.77,49.13h0.9M423.45,52.06h0.9M425.05,53.89h0.9M421.57,50.43h0.9M425.93,51.8h0.9M422.81,46.74h0.9M423.1,49.41h0.9M427.47,48.39h0.9M424.61,49.06h0.9M427.47,49.37h0.9M423.37,49.79h0.9M429.77,49.38h0.9M423.47,45.06h0.9M424.97,53.93h0.9M424.37,46.71h0.9M425.54,48.55h0.9M427.45,51.89h0.9M422.71,52.99h0.9M426.91,49.77h0.9M424.6,47.45h0.9M424.07,47.23h0.9M423.05,51.02h0.9M421.59,50.37h0.9M430.78,52.66h0.9M423.71,46.04h0.9M431.11,46.07h0.9M430.35,44.53h0.9M422.07,53.61h0.9M425.2,53.06h0.9M428.16,51.99h0.9M425.51,45.77h0.9M425.5,45.44h0.9M423.06,48.29h0.9M426.17,50.36h0.9M426.47,46.35h0.9M422.59,47.84h0.9M427.54,48.8h0.9M430.07,51.91h0.9M424.26,45.07h0.9M429.73,52.28h0.9M425.65,50.77h0.9M423.45,51.03h0.9M422.4,46.97h0.9M424.34,53.52h0.9M421.74,51.07h0.9M423.03,51.51h0.9M424.95,53.78h0.9M428.57,53.16h0.9M429.22,52.41h0.9M428.46,48.11h0.9M424.09,50.38h0.9M421.75,47.89h0.9M427.93,45.29h0.9M428.47,53.79h0.9M426.51,48.73h0.9M426.21,50.39h0.9M424.93,48.88h0.9M421.63,49.59h0.9M424.71,45.4h0.9M426.11,45.6h0.9M424.63,51.91h0.9M422.82,51.14h0.9M429.17,44.98h0.9M422.3,45.37h0.9M427.26,44.86h0.9M429.67,50.24h0.9M422.97,52.1h0.9M421.94,53.25h0.9M422.88,49.07h0.9M425.17,49.31h0.9M426.28,45.45h0.9M432.57,47.35h0.9M424.05,50.4h0.9M422.74,50.23h0.9M427.7,47.92h0.9M423.37,47.86h0.9M432.51,49.54h0.9M425.32,51.85h0.9M425.55,50.75h0.9M423.8,44.39h0.9M425.72,51.38h0.9M426.93,46.43h0.9M424.56,43.2h0.9M431.13,53.98h0.9M423.25,44.48h0.9M425.9,39.96h0.9M430.58,49.3h0.9M422.9,45.75h0.9M422.77,48.89h0.9M425.9,53.4h0.9M425.09,48.34h0.9M426.87,46.59h0.9M428.03,49.78h0.9M427.5,45.58h0.9M421.81,52.19h0.9M422.77,50.04h0.9M424.79,49.96h0.9M425.91,48.15h0.9M422.89,48.57h0.9M428.47,44.56h0.9M423.98,47.52h0.9M429.58,49.79h0.9M422.11,48.47h0.9M422.18,46.32h0.9M432.44,47.1h0.9M428.97,48.09h0.9M428.27,50.76h0.9M426.76,50.75h0.9M425.74,43.72h0.9M428.56,49.77h0.9M426.86,51.43h0.9M431.54,50.11h0.9M430,50.15h0.9M423.35,49.31h0.9M422.95,51.89h0.9M428.86,45.5h0.9M423.47,51.64h0.9M426,49.92h0.9M423.96,53.8h0.9M424.83,53.71h0.9M429.08,46.72h0.9M426.29,48.92h0.9M422.21,52.93h0.9M426.56,51.1h0.9M425.83,53.56h0.9M424.38,53.03h0.9M428.2,47.37h0.9M425.03,44.51h0.9M422.13,51.2h0.9M427.37,46.25h0.9M426.38,50.8h0.9M426.48,45.31h0.9M426.86,49.8h0.9M427.84,50.43h0.9M446.89,53.86h0.8M446.01,47.14h0.8M446.37,44.42h0.8M447.48,47.98h0.8M444.73,50.22h0.8M448.84,51.2h0.8M447.84,49.71h0.8M443.6,52.4h0.8M444.23,49.18h0.8M444.8,44.9h0.8M443.07,48.5h0.8M444.46,51.12h0.8M439.64,49.66h0.8M445.39,53.85h0.8M446.9,46.45h0.8M446.25,47.31h0.8M449.31,50.84h0.8M444.85,50.11h0.8M441.36,52.02h0.8M445.97,53.84h0.8M443.84,52.59h0.8M440.56,52.79h0.8M445.66,46.55h0.8M447.11,47.7h0.8M448.87,51.29h0.8M442.73,51.06h0.8M448.43,46.65h0.8M444.83,50.24h0.8M444.6,50.18h0.8M443.19,49.42h0.8M444.56,50.73h0.8M444.32,52.64h0.8M445.62,50.86h0.8M445.37,50.36h0.8M443.42,46.33h0.8M447.91,46.54h0.8M447.65,53.3h0.8M449.66,44.41h0.8M442.9,49.96h0.8M440.28,50.38h0.8M443.98,51.63h0.8M447.36,51.85h0.8M449.35,48.44h0.8M443.87,49.11h0.8M448.32,48.63h0.8M441.88,53.76h0.8M447.85,49.82h0.8M443.79,49.14h0.8M446.29,44.43h0.8M439.64,53.08h0.8M444.59,48.06h0.8M442.29,53.04h0.8M447.29,49.11h0.8M438,53.21h0.8M445.7,49.14h0.8M444.24,51.02h0.8M444.19,49.54h0.8M443.79,53.43h0.8M445.8,49.56h0.8M442.8,53.27h0.8M444.38,47.93h0.8M446.21,46.15h0.8M446.33,50.48h0.8M442.14,53.92h0.8M447.6,44.56h0.8M445.73,53.94h0.8M447.18,48.42h0.8M444.88,46.31h0.8M444.29,51.27h0.8M445.54,47.44h0.8M447.17,45.43h0.8M447.01,53.38h0.8M446.39,47.88h0.8M449.12,45.07h0.8M446.7,53.15h0.8M447.36,45.04h0.8M443.55,49.25h0.8M443.06,51.85h0.8M447.34,49.82h0.8M444.91,44.48h0.8M448.05,51.96h0.8M442.11,46.8h0.8M445.9,48.27h0.8M444.97,50.2h0.8M440.89,53.5h0.8M442.07,49.93h0.8M441.47,49.48h0.8M445.06,45.7h0.8M443.68,48.23h0.8M447.66,51.93h0.8M445.23,50.69h0.8M443.47,50.16h0.8M441.43,49.59h0.8M444.88,53.76h0.8M445.19,51.68h0.8M444.44,53.89h0.8M444.45,47.21h0.8M447.99,45.52h0.8M446.84,49.46h0.8M442.24,52.58h0.8M450.15,48.58h0.8M450.32,47.34h0.8M444.28,48.25h0.8M445.88,49.82h0.8M440.89,51.54h0.8M445.33,45.21h0.8M443.27,51.08h0.8M448.12,51.37h0.8M447.29,44.49h0.8M449.82,51.65h0.8M446.67,45.13h0.8M449.54,48.08h0.8M446.1,47.25h0.8M442.1,45.11h0.8M445.63,52.91h0.8M441.37,52.34h0.8M441.53,46.38h0.8M442.64,53.87h0.8M446.71,47.13h0.8M444.6,47.05h0.8M447.38,45.16h0.8M447.32,46.61h0.8M447.17,50.23h0.8M443.49,46.55h0.8M443.91,51.89h0.8M446.01,45.36h0.8M440.63,49.95h0.8M440.7,47.96h0.8M445.31,53h0.8M450.11,48.41h0.8M444.62,48.78h0.8M447.02,51.15h0.8M439.4,48.29h0.8M448.25,49.51h0.8M444.06,52.86h0.8M447.13,50.05h0.8M440.57,49.65h0.8M441.89,47.58h0.8M448.45,45.2h0.8M444.24,44.76h0.8M443.24,46.47h0.8M445.23,48.56h0.8M446.31,45.31h0.8M446.23,46.61h0.8M445.84,46.19h0.8M446.6,46.06h0.8M447.61,50.03h0.8M443.81,45.79h0.8M447.21,52.67h0.8M442.25,48.65h0.8M445.99,53.83h0.8M440.18,46.9h0.8M441.74,48.85h0.8M444.64,49.12h0.8M447.59,52.94h0.8M444.86,46.92h0.8M447.26,53.42h0.8M442.62,49.64h0.8M445.09,46.7h0.8M446.22,52.25h0.8M447.61,45.54h0.8M444.8,47.58h0.8M442.76,42.38h0.8M446.33,50.48h0.8M446.32,47.73h0.8M445.25,44.8h0.8M442.79,53.11h0.8M444.41,47.7h0.8M445.51,53.63h0.8M441.2,52.29h0.8M441.76,52.13h0.8M447.93,53.68h0.8M446.1,46.86h0.8M446.97,47.72h0.8M447.35,50.38h0.8M446.47,49.2h0.8M446.79,47.05h0.8M445.76,48.88h0.8M447.18,51.01h0.8M443.26,50.2h0.8M445.98,46.37h0.8M443.73,49.59h0.8M448.54,47.75h0.8M452.72,52.43h0.8M448.04,47h0.8M446.46,49.66h0.8M446.86,45.57h0.8M444.33,53.92h0.8M449.15,49.32h0.8M442.5,49.96h0.55M430.8,50.9h0.55M450.66,47.06h0.55M450.64,45.73h0.55M449.79,52.02h0.55M433.57,45.47h0.55M438.3,48.95h0.55M448.6,48.17h0.55M443.62,44.89h0.55M434.98,44.69h0.55M453.89,44.59h0.55M443.74,49.97h0.55M440.28,52.55h0.55M444.33,48.22h0.55M437.71,42.67h0.55M432.68,50.68h0.55M435.32,49.14h0.55M439.95,51.86h0.55M437.92,51.42h0.55M449.09,47.61h0.55M444.45,48.9h0.55M444.04,51.04h0.55M433.42,46.32h0.55M452.82,48.66h0.55M448.9,45.1h0.55M435.95,47.71h0.55M453.18,47.26h0.55M442.31,47.19h0.55M432.87,51.57h0.55M439.28,51.52h0.55M445.39,47.87h0.55M437.09,48.9h0.55M443.27,50.11h0.55M452.28,51.34h0.55M451.54,46.05h0.55M449.21,49.19h0.55M430.4,48.59h0.55M435.43,53.29h0.55M452.07,47.4h0.55M438.56,48.04h0.55M453.54,47.84h0.55M443.61,47.55h0.55M447.78,45.78h0.55M452.36,51.14h0.55M452.8,51.64h0.55M449.15,53.19h0.55M433.72,53.8h0.55M443.05,49.67h0.55M440.07,49.03h0.55M447.5,51.28h0.55M448.71,50.64h0.55M449.54,46.05h0.55M443.64,53.72h0.55M446.02,50.15h0.55M437.92,51.94h0.55M451.08,46.24h0.55M442.82,44.65h0.55M451.83,44.61h0.55M450.39,50.38h0.55M435.09,51.98h0.55M452.85,51.87h0.55M447.52,45.76h0.55M438.83,46.3h0.55M434.48,45.97h0.55M436.72,46.38h0.55M432.84,47.6h0.55M433.75,48.23h0.55M432.09,44.76h0.55M448.21,48.87h0.55M433.67,53.74h0.55M447.37,46.22h0.55M448.96,52.87h0.55M440.65,47.73h0.55M446.12,51.16h0.55M440.93,46.35h0.55M440.55,53.19h0.55M431.51,48.48h0.55M445,50.83h0.55M433.59,47.36h0.55M432.16,47.15h0.55M440.75,40.74h0.55M429.8,36.86h0.55M431.28,41.08h0.55M432.65,41.88h0.55M423.79,41.51h0.55M436.01,40.44h0.55M442.33,42.21h0.55M426.13,41.9h0.55M426.33,42.49h0.55M431.42,39.29h0.55M427.07,41.29h0.55M428.99,41.1h0.55M433.86,41.07h0.55M425.19,42.43h0.55M425.02,41.53h0.55M425.22,39.75h0.55M442.66,41.03h0.55M429.72,41.43h0.55M431.95,37.22h0.55M422.76,42.8h0.55M426.66,38.32h0.55M424.6,38.49h0.55M424.49,41.44h0.55M436.87,40.92h0.55M421.55,39.48h0.55M423.57,41.12h0.55M424.65,41.97h0.55M434.59,42.91h0.55M437.06,38.84h0.55" stroke="#000" stroke-width="0.9" fill="none"/>
<path d="M424.62,38.38h0.6M449.08,39.23h0.6M446.08,39.46h0.6M442.86,39.82h0.6M440.96,37.02h0.6M429.66,38.79h0.6M425.57,39.47h0.6M427.82,39.91h0.6M448.24,38.56h0.6M441.68,38.82h0.6M442.18,38.57h0.6M449.11,37.21h0.6M442.51,40.73h0.6M431.41,37.69h0.6M435.75,39.11h0.6M434.56,40.38h0.6M436.57,38.08h0.6M440.13,39.22h0.6M443.88,38.22h0.6M440.82,39.17h0.6M441.05,36.3h0.6M449.82,37.89h0.6M444.9,36.13h0.6M439.4,36.84h0.6M438.14,38.93h0.6M433.9,39.72h0.6M431.2,38.5h0.6M426.72,39.43h0.6M439.2,36.47h0.6M443.86,39.53h0.6M449.49,39.15h0.6M442.01,38.29h0.6M449.4,39.23h0.6M424.43,38.97h0.6M428.79,41.14h0.6M427.8,37.75h0.6M423.99,40.65h0.6M432.77,40.23h0.6M439.58,37.76h0.6M441.38,39.67h0.6M449.8,39.86h0.6M443.55,39.15h0.6M445.57,37.89h0.6M424.61,37.87h0.6M430.18,36.07h0.6M440.09,37.61h0.6M440.33,37.02h0.6M450.61,40.07h0.6M436.94,37.63h0.6M430.86,37.37h0.6M448.87,39.83h0.6M449.35,39.23h0.6M439.65,37.94h0.6M434.13,39.18h0.6M444.49,37.87h0.6M450.06,36.98h0.6M434.03,38.23h0.6M449.5,40.38h0.6M443.34,40.14h0.6M424.48,36.72h0.6M441.46,38.67h0.6M445.57,40.58h0.6M446.07,39.07h0.6M428.21,39.78h0.6M446.7,38.16h0.6M438.99,37.03h0.6M444.18,37.84h0.6M450.17,38.85h0.6M445.2,36.96h0.6M429.57,38.67h0.6M430.31,40.42h0.6M446.29,39.26h0.6M431.09,39.09h0.6M431.69,39.91h0.6M444.74,38.64h0.6M435.03,39.62h0.6M447.56,38.47h0.6M427.72,37.99h0.6M425.29,37.7h0.6M428.45,36.97h0.6" stroke="#666" stroke-width="0.7" fill="none"/>
<rect x="420.8" y="17.9" width="38.3" height="37" fill="none" stroke="#1a1a1a" stroke-width="0.6"/>
<line x1="420.8" y1="17.9" x2="420.8" y2="54.9" stroke="#111" stroke-width="0.9"/>
<line x1="420.8" y1="54.9" x2="459.1" y2="54.9" stroke="#111" stroke-width="0.8"/>
<line x1="436.62" y1="17.9" x2="436.62" y2="54.9" stroke="#1a1a1a" stroke-width="0.55"/>
<line x1="420.8" y1="43.43" x2="459.1" y2="43.43" stroke="#1a1a1a" stroke-width="0.55"/>
<text x="439.65" y="14.9" font-size="3.9" text-anchor="middle" font-weight="bold" fill="#000" textLength="12" lengthAdjust="spacingAndGlyphs" stroke="#000" stroke-width="0.25">G-CSF</text>
<text x="448.18" y="22.32" font-size="3.7" text-anchor="middle" font-weight="bold" fill="#000" textLength="12.3" lengthAdjust="spacingAndGlyphs" stroke="#000" stroke-width="0.24">0.41%</text>
<line x1="419.7" y1="54.9" x2="420.8" y2="54.9" stroke="#111" stroke-width="0.6"/>
<line x1="420.8" y1="54.9" x2="420.8" y2="55.9" stroke="#111" stroke-width="0.6"/>
<text x="420.2" y="61.2" font-size="3.3" text-anchor="middle" font-weight="bold" fill="#222">10</text>
<text x="423" y="58.8" font-size="2" text-anchor="middle" font-weight="bold" fill="#333">0</text>
<text x="418.4" y="56.5" font-size="3" text-anchor="end" font-weight="bold" fill="#222">10</text>
<text x="416.2" y="53.7" font-size="1.9" text-anchor="middle" font-weight="bold" fill="#333">0</text>
<line x1="419.7" y1="45.65" x2="420.8" y2="45.65" stroke="#111" stroke-width="0.6"/>
<line x1="430.38" y1="54.9" x2="430.38" y2="55.9" stroke="#111" stroke-width="0.6"/>
<text x="429.77" y="61.2" font-size="3.3" text-anchor="middle" font-weight="bold" fill="#222">10</text>
<text x="432.57" y="58.8" font-size="2" text-anchor="middle" font-weight="bold" fill="#333">1</text>
<text x="418.4" y="47.25" font-size="3" text-anchor="end" font-weight="bold" fill="#222">10</text>
<text x="416.2" y="44.45" font-size="1.9" text-anchor="middle" font-weight="bold" fill="#333">1</text>
<line x1="419.7" y1="36.4" x2="420.8" y2="36.4" stroke="#111" stroke-width="0.6"/>
<line x1="439.95" y1="54.9" x2="439.95" y2="55.9" stroke="#111" stroke-width="0.6"/>
<text x="439.35" y="61.2" font-size="3.3" text-anchor="middle" font-weight="bold" fill="#222">10</text>
<text x="442.15" y="58.8" font-size="2" text-anchor="middle" font-weight="bold" fill="#333">2</text>
<text x="418.4" y="38" font-size="3" text-anchor="end" font-weight="bold" fill="#222">10</text>
<text x="416.2" y="35.2" font-size="1.9" text-anchor="middle" font-weight="bold" fill="#333">2</text>
<line x1="419.7" y1="27.15" x2="420.8" y2="27.15" stroke="#111" stroke-width="0.6"/>
<line x1="449.53" y1="54.9" x2="449.53" y2="55.9" stroke="#111" stroke-width="0.6"/>
<text x="448.93" y="61.2" font-size="3.3" text-anchor="middle" font-weight="bold" fill="#222">10</text>
<text x="451.73" y="58.8" font-size="2" text-anchor="middle" font-weight="bold" fill="#333">3</text>
<text x="418.4" y="28.75" font-size="3" text-anchor="end" font-weight="bold" fill="#222">10</text>
<text x="416.2" y="25.95" font-size="1.9" text-anchor="middle" font-weight="bold" fill="#333">3</text>
<line x1="419.7" y1="17.9" x2="420.8" y2="17.9" stroke="#111" stroke-width="0.6"/>
<line x1="459.1" y1="54.9" x2="459.1" y2="55.9" stroke="#111" stroke-width="0.6"/>
<text x="458.5" y="61.2" font-size="3.3" text-anchor="middle" font-weight="bold" fill="#222">10</text>
<text x="461.3" y="58.8" font-size="2" text-anchor="middle" font-weight="bold" fill="#333">4</text>
<text x="418.4" y="19.5" font-size="3" text-anchor="end" font-weight="bold" fill="#222">10</text>
<text x="416.2" y="16.7" font-size="1.9" text-anchor="middle" font-weight="bold" fill="#333">4</text>
<path d="M479.18,52.34h0.9M482.28,51.48h0.9M479.47,53.32h0.9M481.63,49.05h0.9M483.61,49.03h0.9M478.62,51.58h0.9M483.18,45.46h0.9M481.56,46.99h0.9M485.5,52.89h0.9M482.02,47.52h0.9M482.66,45.03h0.9M480.86,51.19h0.9M479.58,45.58h0.9M484.97,51.59h0.9M480.95,50.6h0.9M478.76,51.93h0.9M485.14,46.15h0.9M481.67,48.62h0.9M484.8,46.41h0.9M479.17,49.41h0.9M478.9,45.58h0.9M485.54,50.16h0.9M482.71,48.63h0.9M479.89,53.5h0.9M479.62,52.12h0.9M480.98,52.69h0.9M480.86,44.36h0.9M480.65,53.28h0.9M486.59,53.4h0.9M482.68,50.96h0.9M485.39,46.93h0.9M483.36,50.56h0.9M481.78,49.96h0.9M482.58,48.28h0.9M484.09,49.43h0.9M478.63,44.37h0.9M482.27,49.02h0.9M483.9,52.78h0.9M480.45,48.76h0.9M482.62,45.54h0.9M485.7,49.83h0.9M479.59,47.58h0.9M479.41,51.78h0.9M486.96,48.97h0.9M482.09,46.86h0.9M482.68,52.81h0.9M478.88,46.64h0.9M480.79,47.33h0.9M478.78,50.32h0.9M484.23,51.75h0.9M479.39,52.85h0.9M486.38,49.11h0.9M481.75,45.45h0.9M482.34,48.2h0.9M479.51,50.94h0.9M484.26,45.73h0.9M487.01,50.6h0.9M483.27,48.22h0.9M479.31,45.48h0.9M480.32,49.15h0.9M480.46,46.73h0.9M484.46,48.87h0.9M480.79,53.49h0.9M485.91,47.33h0.9M480.8,51.89h0.9M484.42,51.13h0.9M482.64,53.48h0.9M483.06,44.86h0.9M480.7,49.29h0.9M482.44,52.39h0.9M482.23,48.27h0.9M484.48,48.86h0.9M481.68,52.27h0.9M480.51,46.18h0.9M484.26,53.29h0.9M483.92,53.19h0.9M484.06,52.76h0.9M483.67,46.38h0.9M481.82,53.01h0.9M482.24,51.19h0.9M481.58,44.2h0.9M487.05,53.39h0.9M481.17,46.43h0.9M488.14,44.45h0.9M481.08,47.19h0.9M480.09,51.4h0.9M484.57,53.42h0.9M483.61,52.12h0.9M484.47,51.28h0.9M483.64,45.81h0.9M484.08,47.78h0.9M478.92,46.37h0.9M483.05,45.52h0.9M482.63,48.43h0.9M482.99,52.78h0.9M479.99,49.99h0.9M480.18,51.65h0.9M479.99,49.1h0.9M482.14,46.35h0.9M479.04,48.78h0.9M479.5,53.62h0.9M487.33,51.32h0.9M482.69,49.16h0.9M482.33,51.21h0.9M483.47,48.26h0.9M481.4,52.2h0.9M485.53,45.55h0.9M487.52,48.79h0.9M485.18,46.09h0.9M484.34,44.52h0.9M483.35,52.47h0.9M481.25,49.96h0.9M479.9,48.83h0.9M480.76,51.2h0.9M480.43,44.4h0.9M484.06,48.61h0.9M482.84,44.75h0.9M482.55,47.79h0.9M479.46,53.85h0.9M478.91,53.29h0.9M478.54,51.35h0.9M479.12,51.56h0.9M483.29,49.82h0.9M482.68,47.79h0.9M481.38,47.2h0.9M481.54,52.83h0.9M484.4,52.57h0.9M486.43,43.54h0.9M481.45,45.49h0.9M480.02,45.84h0.9M482.65,48.44h0.9M485.31,46.49h0.9M480.41,47.61h0.9M481.13,51.78h0.9M485.5,49.26h0.9M486.68,49.54h0.9M478.93,49.54h0.9M481.14,51.23h0.9M485.96,44.39h0.9M483.48,52.86h0.9M481.02,45.5h0.9M480.34,47.15h0.9M484.43,51.36h0.9M483.04,44.44h0.9M483.82,44.74h0.9M481.16,49.56h0.9M484.26,48.63h0.9M481.74,49.26h0.9M482.16,51.48h0.9M481.06,44.22h0.9M485.74,51.47h0.9M481.61,52.54h0.9M483.54,49.63h0.9M480.22,53.61h0.9M483.81,51.42h0.9M489.76,45.15h0.9M483.34,53.77h0.9M480.17,51.2h0.9M484.51,43.85h0.9M488.12,44.72h0.9M481.43,47.07h0.9M485.61,43.92h0.9M478.56,53.35h0.9M483.49,48.51h0.9M478.86,47.6h0.9M481.75,50.44h0.9M481.88,47.1h0.9M483.72,46.67h0.9M484.79,47.79h0.9M480.69,53.89h0.9M484.47,50.17h0.9M486,52.68h0.9M487.91,45.15h0.9M480.56,52.81h0.9M479.5,49.28h0.9M483.96,45.71h0.9M492.31,47.6h0.9M480.37,43.54h0.9M478.58,48.84h0.9M483.2,46.43h0.9M479.78,48.98h0.9M478.96,47.17h0.9M486.23,53.68h0.9M490.39,46.59h0.9M481.66,51h0.9M482.09,48.62h0.9M480.22,43.72h0.9M486.45,52.86h0.9M486.43,52.15h0.9M485.01,51.15h0.9M484.96,46.26h0.9M481.08,48.68h0.9M487.24,52.75h0.9M478.57,51.73h0.9M485.76,46.46h0.9M481.75,49.65h0.9M480.42,48.67h0.9M488.42,52h0.9M480.11,48.35h0.9M483.21,48.82h0.9M485.23,53.62h0.9M483.73,51.87h0.9M480.63,52.56h0.9M482.72,45.91h0.9M479.47,44.7h0.9M483.04,45.84h0.9M480.62,48.68h0.9M483.76,45.32h0.9M479.25,51.31h0.9M479.97,47.92h0.9M482.16,51.33h0.9M479.27,46.36h0.9M479.38,49.36h0.9M484.81,49.48h0.9M482.29,47.6h0.9M483.81,48.79h0.9M479.5,48.7h0.9M480.17,45.93h0.9M479,52.46h0.9M484.64,50.5h0.9M480.67,48.69h0.9M480.59,46.23h0.9M483.11,47.76h0.9M480.03,50.46h0.9M485.98,45.8h0.9M484.36,53.88h0.9M482.07,44.81h0.9M478.61,50.24h0.9M480.53,46.7h0.9M486.31,52.63h0.9M479.74,51.56h0.9M479.45,49.32h0.9M483.75,53.53h0.9M480.15,47.01h0.9M482.02,47.68h0.9M480.51,53.46h0.9M482,46.38h0.9M479.66,49.4h0.9M480.18,53.29h0.9M481.18,46.34h0.9M478.67,53.84h0.9M486.9,50.51h0.9M480.38,52.27h0.9M485.1,49.78h0.9M482.07,48.71h0.9M483.93,48.1h0.9M481.74,48.57h0.9M486.15,50.31h0.9M483.59,43.83h0.9M487.23,45.75h0.9M479.34,45.33h0.9M483.34,53.23h0.9M482.69,46.52h0.9M487.29,48.53h0.9M478.67,44.25h0.9M481.34,45.04h0.9M484.87,53.95h0.9M483.15,52.94h0.9M485.11,50.78h0.9M478.95,48.95h0.9M481.87,48.92h0.9M487.93,47.98h0.9M482.55,51.51h0.9M482.14,49.47h0.9M481.69,48.17h0.9M480.49,46.54h0.9M481.88,49.45h0.9M481.03,51.54h0.9M484.29,44.83h0.9M488.06,53.34h0.9M483.19,46.59h0.9M483.64,50.8h0.9M479.12,53.7h0.9M481.57,53.7h0.9M479.98,50.56h0.9M481.62,47.79h0.9M483.66,53.85h0.9M484.04,47.59h0.9M484.53,45.59h0.9M479.71,50.72h0.9M480.67,45.57h0.9M483.89,49.55h0.9M483.62,46.49h0.9M481.35,48.31h0.9M481.92,45.22h0.9M479.25,49.2h0.9M480.69,53.16h0.9M487.74,50.5h0.9M481.08,50.44h0.9M484.04,53.92h0.9M478.56,45.5h0.9M482.62,43.71h0.9M483.7,47.12h0.9M483.48,46.78h0.9M483.26,53.62h0.9M481.98,52.99h0.9M481.82,46.76h0.9M479.09,49.44h0.9M479.2,46.59h0.9M480.77,44.44h0.9M483.81,48.45h0.9M481.85,46.09h0.9M483.75,46.75h0.9M481.25,45.65h0.9M483.62,45.18h0.9M483.86,52.43h0.9M481.45,49.28h0.9M486.89,51.07h0.9M483.57,48.18h0.9M478.33,48.59h0.9M484.27,49.88h0.9M478.49,53h0.9M479.89,53.09h0.9M479.37,44.8h0.9M486.11,49.32h0.9M486.62,47.35h0.9M488.45,48.84h0.9M481.77,46.39h0.9M480.42,49.43h0.9M480.06,46.87h0.9M482.02,47.08h0.9M481.12,51.74h0.9M479.23,45.1h0.9M484.55,45.37h0.9M482.33,49.61h0.9M479.1,48.48h0.9M484.96,48.78h0.9M482.49,46.75h0.9M489.57,49.18h0.9M480.6,45.04h0.9M481.95,52.84h0.9M478.43,47.21h0.9M481.78,52.8h0.9M488.1,53.49h0.9M483.07,40.42h0.9M484.08,43.45h0.9M485.91,53.48h0.9M483.25,53.16h0.9M481.17,40.42h0.9M483.37,48.95h0.9M486.5,51.94h0.9M484.67,50.91h0.9M483.71,45.36h0.9M482.82,47.14h0.9M479.87,46.43h0.9M478.52,45.36h0.9M482.58,46.56h0.9M481.69,48.47h0.9M493.65,44.36h0.9M488.12,45.32h0.9M479.67,47.31h0.9M485.44,53.03h0.9M485.09,49.94h0.9M481.07,50.92h0.9M481.66,48.44h0.9M499.11,45.47h0.8M506.7,47.18h0.8M498.49,48.67h0.8M500.07,38.5h0.8M496.88,53.92h0.8M502.37,47.29h0.8M506.23,49.72h0.8M503.95,50.23h0.8M496.76,45.31h0.8M498.47,50.09h0.8M500.92,45.54h0.8M502.82,49.6h0.8M501.73,46.23h0.8M505.91,51.85h0.8M503.61,43.15h0.8M503.06,49.32h0.8M501.77,46.42h0.8M501.06,48.4h0.8M508.47,51.41h0.8M503.07,46.7h0.8M497.58,51.47h0.8M501.12,46.58h0.8M507.12,46.04h0.8M503.19,50.15h0.8M503.31,45.72h0.8M501.58,52.88h0.8M499.17,45.38h0.8M501.01,51.34h0.8M501.8,47.57h0.8M502.68,52.23h0.8M501.97,45.37h0.8M496.47,48.39h0.8M501.41,45.78h0.8M501.54,50.33h0.8M504.77,45.16h0.8M500.66,46.87h0.8M503.44,50.82h0.8M501.42,48.75h0.8M499.08,50.69h0.8M497.46,47.68h0.8M503.71,47.63h0.8M501.55,53.97h0.8M499.81,48.14h0.8M499.4,49.8h0.8M503.64,48.7h0.8M503.09,47.94h0.8M501.36,50.27h0.8M500.27,46.77h0.8M505.77,45.56h0.8M501.16,48.76h0.8M499.75,52.78h0.8M508.73,51.99h0.8M504.32,45.43h0.8M504.03,45.9h0.8M502.39,52.24h0.8M500.94,52.63h0.8M502.01,48.62h0.8M502.01,48.81h0.8M501.04,47.84h0.8M504.96,48.83h0.8M499.74,45.19h0.8M502.87,47.37h0.8M503.83,51.29h0.8M505.98,46.5h0.8M501.44,47.29h0.8M503.3,52.27h0.8M506.38,50.85h0.8M506.69,49.53h0.8M506.84,49.51h0.8M498.75,51.75h0.8M502.63,51.05h0.8M503.84,48.81h0.8M499.63,50.21h0.8M501.53,53.36h0.8M501.19,50.17h0.8M507.67,46.86h0.55M491.41,48.14h0.55M505.72,52.97h0.55M491.94,46.15h0.55M498.11,46.63h0.55M506.82,49.11h0.55M508.58,47.2h0.55M503.46,48.65h0.55M497.49,47h0.55M493.48,47.61h0.55M500.9,51.3h0.55M508.36,52.4h0.55M498.38,53h0.55M491.95,51.55h0.55M489.45,48.47h0.55M488.42,45.43h0.55M504.06,44.3h0.55M496.66,53.7h0.55M492.87,44.46h0.55M509.29,48.46h0.55M496.02,46.75h0.55M491.53,52.21h0.55M510.56,46.69h0.55M494.94,52.78h0.55M506.55,53.14h0.55M499.16,50.43h0.55M505.24,47.76h0.55M500.45,51.32h0.55M492.61,50.86h0.55M497.44,51.9h0.55M506.36,52.04h0.55M507.44,45.4h0.55M508.96,44.8h0.55M495.77,47.26h0.55M491.68,52.49h0.55M488.02,53.41h0.55M506.69,49.83h0.55M491.86,52.7h0.55M509.25,48.05h0.55M487.55,47.6h0.55M496.2,53.17h0.55M498.41,53.86h0.55M489.7,50.54h0.55M508.82,47.75h0.55M490.77,42.44h0.55M488.62,40.73h0.55M496.49,42.09h0.55M488.56,41.04h0.55M479.66,42.75h0.55M481.42,40.27h0.55M492.94,39.89h0.55M481.65,42.81h0.55" stroke="#000" stroke-width="0.9" fill="none"/>
<rect x="477.6" y="17.9" width="38.3" height="37" fill="none" stroke="#1a1a1a" stroke-width="0.6"/>
<line x1="477.6" y1="17.9" x2="477.6" y2="54.9" stroke="#111" stroke-width="0.9"/>
<line x1="477.6" y1="54.9" x2="515.9" y2="54.9" stroke="#111" stroke-width="0.8"/>
<line x1="493.42" y1="17.9" x2="493.42" y2="54.9" stroke="#1a1a1a" stroke-width="0.55"/>
<line x1="477.6" y1="43.43" x2="515.9" y2="43.43" stroke="#1a1a1a" stroke-width="0.55"/>
<text x="497.45" y="14.9" font-size="3.9" text-anchor="middle" font-weight="bold" fill="#000" textLength="24.5" lengthAdjust="spacingAndGlyphs" stroke="#000" stroke-width="0.25">G-CSF+NAC</text>
<text x="504.98" y="22.32" font-size="3.7" text-anchor="middle" font-weight="bold" fill="#000" textLength="12.3" lengthAdjust="spacingAndGlyphs" stroke="#000" stroke-width="0.24">0.03%</text>
<line x1="476.5" y1="54.9" x2="477.6" y2="54.9" stroke="#111" stroke-width="0.6"/>
<line x1="477.6" y1="54.9" x2="477.6" y2="55.9" stroke="#111" stroke-width="0.6"/>
<text x="477" y="61.2" font-size="3.3" text-anchor="middle" font-weight="bold" fill="#222">10</text>
<text x="479.8" y="58.8" font-size="2" text-anchor="middle" font-weight="bold" fill="#333">0</text>
<text x="475.2" y="56.5" font-size="3" text-anchor="end" font-weight="bold" fill="#222">10</text>
<text x="473" y="53.7" font-size="1.9" text-anchor="middle" font-weight="bold" fill="#333">0</text>
<line x1="476.5" y1="45.65" x2="477.6" y2="45.65" stroke="#111" stroke-width="0.6"/>
<line x1="487.18" y1="54.9" x2="487.18" y2="55.9" stroke="#111" stroke-width="0.6"/>
<text x="486.57" y="61.2" font-size="3.3" text-anchor="middle" font-weight="bold" fill="#222">10</text>
<text x="489.38" y="58.8" font-size="2" text-anchor="middle" font-weight="bold" fill="#333">1</text>
<text x="475.2" y="47.25" font-size="3" text-anchor="end" font-weight="bold" fill="#222">10</text>
<text x="473" y="44.45" font-size="1.9" text-anchor="middle" font-weight="bold" fill="#333">1</text>
<line x1="476.5" y1="36.4" x2="477.6" y2="36.4" stroke="#111" stroke-width="0.6"/>
<line x1="496.75" y1="54.9" x2="496.75" y2="55.9" stroke="#111" stroke-width="0.6"/>
<text x="496.15" y="61.2" font-size="3.3" text-anchor="middle" font-weight="bold" fill="#222">10</text>
<text x="498.95" y="58.8" font-size="2" text-anchor="middle" font-weight="bold" fill="#333">2</text>
<text x="475.2" y="38" font-size="3" text-anchor="end" font-weight="bold" fill="#222">10</text>
<text x="473" y="35.2" font-size="1.9" text-anchor="middle" font-weight="bold" fill="#333">2</text>
<line x1="476.5" y1="27.15" x2="477.6" y2="27.15" stroke="#111" stroke-width="0.6"/>
<line x1="506.33" y1="54.9" x2="506.33" y2="55.9" stroke="#111" stroke-width="0.6"/>
<text x="505.73" y="61.2" font-size="3.3" text-anchor="middle" font-weight="bold" fill="#222">10</text>
<text x="508.53" y="58.8" font-size="2" text-anchor="middle" font-weight="bold" fill="#333">3</text>
<text x="475.2" y="28.75" font-size="3" text-anchor="end" font-weight="bold" fill="#222">10</text>
<text x="473" y="25.95" font-size="1.9" text-anchor="middle" font-weight="bold" fill="#333">3</text>
<line x1="476.5" y1="17.9" x2="477.6" y2="17.9" stroke="#111" stroke-width="0.6"/>
<line x1="515.9" y1="54.9" x2="515.9" y2="55.9" stroke="#111" stroke-width="0.6"/>
<text x="515.3" y="61.2" font-size="3.3" text-anchor="middle" font-weight="bold" fill="#222">10</text>
<text x="518.1" y="58.8" font-size="2" text-anchor="middle" font-weight="bold" fill="#333">4</text>
<text x="475.2" y="19.5" font-size="3" text-anchor="end" font-weight="bold" fill="#222">10</text>
<text x="473" y="16.7" font-size="1.9" text-anchor="middle" font-weight="bold" fill="#333">4</text>
<path d="M314.59,106.01h0.9M316.76,113.29h0.9M309.63,106.62h0.9M309.32,112.61h0.9M311.26,111.77h0.9M310.58,106.11h0.9M308.64,109.75h0.9M312,108.38h0.9M308.99,106.38h0.9M310.36,109.07h0.9M309.33,110.68h0.9M312.33,107.01h0.9M316.47,106.36h0.9M311.81,110.99h0.9M309.32,113.54h0.9M312.96,114.65h0.9M316.19,110.91h0.9M313.46,106.9h0.9M314.56,106.56h0.9M311.77,113.72h0.9M311.88,110.15h0.9M308.47,107.79h0.9M309.68,110.94h0.9M316.76,105.04h0.9M315.17,105.67h0.9M309.93,107h0.9M311.4,109.3h0.9M309.87,109.44h0.9M312.74,105.56h0.9M312.58,110.8h0.9M312.55,114.35h0.9M314.33,112.28h0.9M311.12,112.68h0.9M313.38,110.4h0.9M316.98,106.3h0.9M309.36,107.84h0.9M310.63,110h0.9M315.74,108.54h0.9M310.35,106.95h0.9M310.81,114.07h0.9M311.4,105.65h0.9M309.49,107.38h0.9M317.18,113.45h0.9M311.56,110.22h0.9M312.5,109.81h0.9M313.02,112.17h0.9M310.64,111.4h0.9M312.54,108.09h0.9M308.6,109.68h0.9M312.51,114.62h0.9M310.27,114.43h0.9M313.76,114.78h0.9M310.86,110.59h0.9M310.36,110.83h0.9M317.05,106.2h0.9M309.74,114.41h0.9M315.59,109.75h0.9M310.42,111.32h0.9M309.89,109.07h0.9M311.7,111.08h0.9M312.64,106.05h0.9M310.45,105.22h0.9M309.99,107.24h0.9M311.98,106.11h0.9M317.75,106.11h0.9M312.25,111.82h0.9M310.63,113.04h0.9M311.73,111.27h0.9M308.89,109.53h0.9M311.44,110.85h0.9M312.88,110.93h0.9M309.28,114.19h0.9M314.21,111.12h0.9M314.22,110.21h0.9M314.28,110.67h0.9M311.7,114.21h0.9M311.32,108.16h0.9M314.49,109.28h0.9M313.84,109.41h0.9M313.93,113.76h0.9M312.43,111.63h0.9M312.34,110.2h0.9M314.58,111.24h0.9M309.52,106.03h0.9M312.09,106.21h0.9M311.02,107.78h0.9M310.51,107.16h0.9M316.82,110.98h0.9M314.83,107.87h0.9M310,112.29h0.9M315.83,105.54h0.9M309.36,114.63h0.9M309.26,112.05h0.9M309.26,111.93h0.9M312.71,110.98h0.9M315.86,111.96h0.9M308.81,111.2h0.9M311.61,106.08h0.9M308.8,114.65h0.9M311.74,105.07h0.9M310.66,108.6h0.9M314.6,109.59h0.9M313.5,105.88h0.9M312.89,112.48h0.9M310.45,108.01h0.9M314.9,112.23h0.9M310.95,114.43h0.9M320.03,107.51h0.9M312.39,111.84h0.9M311.19,101.28h0.9M315.83,105.36h0.9M311.04,113.72h0.9M311.94,108.8h0.9M309.94,106.34h0.9M309.39,113.24h0.9M313.58,107.19h0.9M309.39,105.56h0.9M312.43,110.26h0.9M315.21,105.13h0.9M310.61,105.33h0.9M313.62,110.57h0.9M309.06,106.13h0.9M311.89,113.2h0.9M308.81,107.28h0.9M310.48,106.55h0.9M315.59,108.88h0.9M312.07,106.12h0.9M313.87,106.69h0.9M310.8,107.47h0.9M308.45,113.35h0.9M312.03,106.13h0.9M309.03,106.77h0.9M313.24,113.12h0.9M310.22,107.79h0.9M310.61,110.9h0.9M310.1,106.9h0.9M311.92,107.94h0.9M311.43,108.84h0.9M312.24,114.06h0.9M309.9,111.69h0.9M310.47,108.99h0.9M311.85,112.75h0.9M309.07,114.29h0.9M314.08,113.66h0.9M314.8,105.23h0.9M310.58,106.24h0.9M309.68,105.42h0.9M312.42,114.85h0.9M313.13,113.54h0.9M311.57,108.93h0.9M312.21,112.34h0.9M309.71,106.86h0.9M316.4,109.04h0.9M314.25,106.16h0.9M317.99,105.48h0.9M313.32,108.44h0.9M314.75,111.98h0.9M309.33,109.3h0.9M313.68,107.61h0.9M312.12,114.13h0.9M311.45,110.6h0.9M311.48,106.07h0.9M314.12,109.74h0.9M316.61,107.59h0.9M309.28,107.99h0.9M312.9,108.56h0.9M311.45,114.43h0.9M315.32,112.68h0.9M315.43,113.95h0.9M308.51,108.34h0.9M309.9,114.66h0.9M308.5,110.08h0.9M309.12,111.6h0.9M316.76,108.29h0.9M316.96,105.06h0.9M312.81,108.46h0.9M309.26,108.96h0.9M310.73,105.23h0.9M308.72,112.72h0.9M311.58,105.71h0.9M309.09,108.26h0.9M315.45,108.37h0.9M312.45,113.41h0.9M309.71,112.84h0.9M312.46,109.43h0.9M309.29,105.98h0.9M308.45,112.29h0.9M312.59,109.21h0.9M309.87,109.72h0.9M310.19,107.25h0.9M315.21,110.6h0.9M312.04,110.51h0.9M313.12,105.63h0.9M315.12,107.76h0.9M313.29,106.7h0.9M310.63,114.14h0.9M311.29,114.31h0.9M308.66,110.51h0.9M314.37,107.16h0.9M308.49,109.39h0.9M309.62,107.84h0.9M308.44,112.61h0.9M312.62,106.36h0.9M312.8,106.01h0.9M313.54,107.35h0.9M313.41,111.97h0.9M313.25,107.54h0.9M312.28,110.42h0.9M314.15,106.18h0.9M310.35,108.72h0.9M309.38,114.69h0.9M309.17,107.4h0.9M313.64,108.78h0.9M315.1,109.49h0.9M313.1,111.62h0.9M310.59,112.04h0.9M312.5,114.47h0.9M310.45,106.67h0.9M316.98,108.11h0.9M309.53,105.99h0.9M314.53,114.28h0.9M310.02,107.11h0.9M315.24,114.29h0.9M313.5,109.23h0.9M317.51,111.2h0.9M313.27,112.86h0.9M313.8,107.08h0.9M314.98,107.49h0.9M314.41,110.72h0.9M315.36,114.31h0.9M314.54,111.39h0.9M312.24,114.56h0.9M315.9,107.79h0.9M310.38,110.94h0.9M314.04,114.24h0.9M312.69,110.45h0.9M313.89,110.78h0.9M310.53,107.12h0.9M310.3,105.17h0.9M313.56,108.74h0.9M313.14,108.29h0.9M316.73,111.43h0.9M310.77,109.21h0.9M315.71,110.31h0.9M308.45,110.32h0.9M311.33,112.05h0.9M313.25,106.61h0.9M316.43,104.43h0.9M314.7,111.95h0.9M310.09,106.57h0.9M312.36,114.56h0.9M310.79,114.05h0.9M308.36,103.13h0.9M318.61,111.52h0.9M312.65,114.13h0.9M309.18,107.81h0.9M316.24,110.73h0.9M308.56,109.62h0.9M315.84,112.67h0.9M316.08,105.55h0.9M315.93,108.93h0.9M313.24,110h0.9M310.67,112.89h0.9M317.5,110.23h0.9M313.52,104.74h0.9M313.74,106.08h0.9M313.3,112.31h0.9M310.14,110.75h0.9M313.01,107.55h0.9M308.45,113.84h0.9M309.48,111.39h0.9M309.54,109.19h0.9M314.6,110.2h0.9M315.1,110.02h0.9M310.08,108.67h0.9M313.56,108.31h0.9M319.43,112.23h0.9M311.94,109.26h0.9M309.6,113.2h0.9M314.87,113.1h0.9M309.37,105.24h0.9M314.77,109.28h0.9M315.57,105.76h0.9M310.23,110.73h0.9M310.4,107.28h0.9M313.86,107.97h0.9M312.43,108.97h0.9M312.78,105.13h0.9M309.2,105.94h0.9M310.34,113.9h0.9M312.7,106.45h0.9M309.03,110.21h0.9M309.53,109.36h0.9M312.27,110.35h0.9M309.72,114.09h0.9M311.53,107.32h0.9M310.88,106.93h0.9M311.52,108.5h0.9M314.71,111.94h0.9M308.53,110.03h0.9M310,112.15h0.9M310.39,108.04h0.9M310.67,107.71h0.9M310.59,113.94h0.9M311.91,113.28h0.9M312.6,105.88h0.9M314.25,106.96h0.9M312.99,110.27h0.9M315.88,108.82h0.9M311.36,107.6h0.9M314.74,113.65h0.9M313.05,105.29h0.9M318.79,110.87h0.9M313.46,111.78h0.9M311.19,114.25h0.9M317.86,108.65h0.9M311.76,108.33h0.9M310.96,105.17h0.9M318.28,112.94h0.9M309.45,107.95h0.9M310.64,107.79h0.9M310.19,111.54h0.9M313.75,114.57h0.9M309.16,110.15h0.9M311.5,109.55h0.9M312.04,108.17h0.9M314.4,112.95h0.9M311.58,111.45h0.9M312.34,111.68h0.9M316.64,112.83h0.9M314.74,108.36h0.9M314.46,106.75h0.9M314.98,106.21h0.9M314.52,105.3h0.9M311.67,112.67h0.9M309.44,107.87h0.9M313.1,109.65h0.9M314.55,111.56h0.9M317.75,105.92h0.9M315.53,105.53h0.9M313.3,111.05h0.9M318.29,114.53h0.9M308.55,113.66h0.9M314.87,114.59h0.9M316.82,105.46h0.9M313.35,113.38h0.9M311.26,113.1h0.9M314.21,114.18h0.9M314.34,108.41h0.9M315.18,110.28h0.9M314.62,106.13h0.9M314.38,109.32h0.9M315.4,110.47h0.9M314.33,114.66h0.9M312.19,112.56h0.9M308.35,108.96h0.9M310.89,105.26h0.9M311.35,114.09h0.9M309.83,105.69h0.9M313.13,109.65h0.9M326.39,110.75h0.8M329.37,112.73h0.8M333.05,113.15h0.8M335.57,107.06h0.8M330.08,105.21h0.8M329.69,111.31h0.8M329.52,103.96h0.8M333.59,113.15h0.8M335.28,114.43h0.8M335.41,104.24h0.8M334.08,108.81h0.8M331.97,113.83h0.8M330.15,107.79h0.8M331.84,109.5h0.8M328.82,110.98h0.8M330.72,108.46h0.8M331.49,113.05h0.8M330.32,106.01h0.8M332.27,107.51h0.8M334.47,110.02h0.8M331.93,102.88h0.8M330.2,107.03h0.8M334.59,108.97h0.8M332.48,113.59h0.8M328.74,107.76h0.8M333.69,114.18h0.8M334.18,110.17h0.8M327.9,110.83h0.8M331.43,112.69h0.8M335.61,106.28h0.8M333.93,112.93h0.8M330.74,107.55h0.8M332.03,114.72h0.8M330.27,107.2h0.8M332.82,109.47h0.8M332.37,112.37h0.8M329.26,112.1h0.8M330.1,113.28h0.8M331.7,108.65h0.8M329.76,112.86h0.8M331.72,105.01h0.8M332.22,110.84h0.8M333.65,108.92h0.8M326.84,108.27h0.8M328.97,110.21h0.8M331.11,106.03h0.8M331.3,105.75h0.8M332.33,109.96h0.8M328.69,110.33h0.8M331.87,109.69h0.8M332.26,110.73h0.8M327.48,105.81h0.8M335.32,108.58h0.8M332.14,111.34h0.8M334.46,110.91h0.8M329.23,112.59h0.8M334.75,100.17h0.8M329.8,111.78h0.8M330.3,106.21h0.8M332.98,110h0.8M334.99,111.22h0.8M333.75,105.75h0.8M336.63,106.48h0.8M331.05,105.67h0.8M335.39,114.04h0.8M334.66,109.63h0.8M326.66,114.26h0.8M330.96,112.03h0.8M335.57,113.12h0.8M332.23,113.27h0.8M333.6,105.41h0.8M333.15,108.62h0.8M329.31,113.6h0.8M336.33,113.33h0.8M330.31,108.4h0.8M331.95,105.93h0.8M328.14,113.83h0.8M329.62,111.47h0.8M331.14,110.79h0.8M328.52,108.32h0.8M331.45,110.22h0.8M328.14,110.06h0.8M332.62,114.73h0.8M332.94,113.79h0.8M331.81,111.85h0.8M331.37,112.95h0.8M328.27,111.93h0.8M331.15,113.29h0.8M327.49,108.96h0.8M334.17,105.41h0.8M332.2,106.49h0.8M334.66,112.77h0.8M340.11,106.02h0.8M331.77,108.8h0.8M333.91,106.29h0.8M326.61,106.22h0.8M328.41,107.19h0.8M328.63,105.35h0.8M331.64,105.93h0.8M335.21,111.98h0.8M334.52,105.9h0.8M332.08,111.53h0.8M330.13,107.18h0.8M333.84,107.78h0.8M336.28,106.26h0.8M330.85,111.08h0.8M334.78,105.54h0.8M329.24,107.45h0.8M328.84,113h0.8M331.71,113.51h0.8M330.14,110.76h0.8M336.41,111.85h0.8M332.61,112.05h0.8M331.32,114.66h0.8M333.3,105.04h0.8M335.91,108.81h0.8M329.9,108.45h0.8M334.98,113.56h0.8M330.51,105.6h0.8M333.77,112.2h0.8M330.21,108.23h0.8M329.73,112.61h0.8M333.48,113.52h0.8M333.85,112.76h0.8M329.77,114.48h0.8M332.42,113h0.8M333.48,114.42h0.8M332.3,110.04h0.8M332.91,109.62h0.8M329,108.85h0.8M330.36,105.36h0.8M329.12,109.53h0.8M327.23,112.37h0.8M332.27,114.54h0.8M334.09,113.1h0.8M336.02,110.91h0.55M326.82,108.41h0.55M319.23,112.75h0.55M319.03,113.59h0.55M340.32,112.51h0.55M324.35,111.46h0.55M327.26,111.91h0.55M329.71,107.32h0.55M326.55,108.71h0.55M332.05,105.5h0.55M337.3,106.86h0.55M331.31,105.78h0.55M327.85,107.83h0.55M319.11,108.01h0.55M334.64,110.75h0.55M335.76,109.77h0.55M320.77,111.2h0.55M318.43,114.8h0.55M325.35,113.23h0.55M320.89,107h0.55M319.96,110.21h0.55M335.39,111.75h0.55M340.38,113.56h0.55M321.4,105.05h0.55M338.81,107.17h0.55M322.6,104.06h0.55M332.86,112.63h0.55M327.51,112.31h0.55M318.5,105.81h0.55M331.74,106.22h0.55M325.99,111.62h0.55M322.55,109.36h0.55M318.73,109.13h0.55M339.91,114.24h0.55M334.7,108.89h0.55M340,111.18h0.55M317.78,113.13h0.55M339.55,106.52h0.55M329.28,108.94h0.55M325.79,111.36h0.55M321.53,107.55h0.55M327.54,111.09h0.55M327.24,107.24h0.55M341.2,113.67h0.55M312.28,103.73h0.55M316.26,99.96h0.55M312.81,101.52h0.55M328.65,102.67h0.55M319.12,101.2h0.55M329.15,102.72h0.55M317.34,102.9h0.55M321.48,103.77h0.55" stroke="#000" stroke-width="0.9" fill="none"/>
<rect x="307.6" y="78.2" width="38.3" height="37.5" fill="none" stroke="#1a1a1a" stroke-width="0.6"/>
<line x1="307.6" y1="78.2" x2="307.6" y2="115.7" stroke="#111" stroke-width="0.9"/>
<line x1="307.6" y1="115.7" x2="345.9" y2="115.7" stroke="#111" stroke-width="0.8"/>
<line x1="323.42" y1="78.2" x2="323.42" y2="115.7" stroke="#1a1a1a" stroke-width="0.55"/>
<line x1="307.6" y1="104.08" x2="345.9" y2="104.08" stroke="#1a1a1a" stroke-width="0.55"/>
<text x="326.45" y="75.2" font-size="3.9" text-anchor="middle" font-weight="bold" fill="#000" textLength="21.1" lengthAdjust="spacingAndGlyphs" stroke="#000" stroke-width="0.25">CONTROL</text>
<text x="334.98" y="82.62" font-size="3.7" text-anchor="middle" font-weight="bold" fill="#000" textLength="12.3" lengthAdjust="spacingAndGlyphs" stroke="#000" stroke-width="0.24">0.01%</text>
<line x1="306.5" y1="115.7" x2="307.6" y2="115.7" stroke="#111" stroke-width="0.6"/>
<line x1="307.6" y1="115.7" x2="307.6" y2="116.7" stroke="#111" stroke-width="0.6"/>
<text x="307" y="122" font-size="3.3" text-anchor="middle" font-weight="bold" fill="#222">10</text>
<text x="309.8" y="119.6" font-size="2" text-anchor="middle" font-weight="bold" fill="#333">0</text>
<text x="305.2" y="117.3" font-size="3" text-anchor="end" font-weight="bold" fill="#222">10</text>
<text x="303" y="114.5" font-size="1.9" text-anchor="middle" font-weight="bold" fill="#333">0</text>
<line x1="306.5" y1="106.33" x2="307.6" y2="106.33" stroke="#111" stroke-width="0.6"/>
<line x1="317.18" y1="115.7" x2="317.18" y2="116.7" stroke="#111" stroke-width="0.6"/>
<text x="316.57" y="122" font-size="3.3" text-anchor="middle" font-weight="bold" fill="#222">10</text>
<text x="319.38" y="119.6" font-size="2" text-anchor="middle" font-weight="bold" fill="#333">1</text>
<text x="305.2" y="107.92" font-size="3" text-anchor="end" font-weight="bold" fill="#222">10</text>
<text x="303" y="105.12" font-size="1.9" text-anchor="middle" font-weight="bold" fill="#333">1</text>
<line x1="306.5" y1="96.95" x2="307.6" y2="96.95" stroke="#111" stroke-width="0.6"/>
<line x1="326.75" y1="115.7" x2="326.75" y2="116.7" stroke="#111" stroke-width="0.6"/>
<text x="326.15" y="122" font-size="3.3" text-anchor="middle" font-weight="bold" fill="#222">10</text>
<text x="328.95" y="119.6" font-size="2" text-anchor="middle" font-weight="bold" fill="#333">2</text>
<text x="305.2" y="98.55" font-size="3" text-anchor="end" font-weight="bold" fill="#222">10</text>
<text x="303" y="95.75" font-size="1.9" text-anchor="middle" font-weight="bold" fill="#333">2</text>
<line x1="306.5" y1="87.58" x2="307.6" y2="87.58" stroke="#111" stroke-width="0.6"/>
<line x1="336.33" y1="115.7" x2="336.33" y2="116.7" stroke="#111" stroke-width="0.6"/>
<text x="335.73" y="122" font-size="3.3" text-anchor="middle" font-weight="bold" fill="#222">10</text>
<text x="338.53" y="119.6" font-size="2" text-anchor="middle" font-weight="bold" fill="#333">3</text>
<text x="305.2" y="89.17" font-size="3" text-anchor="end" font-weight="bold" fill="#222">10</text>
<text x="303" y="86.38" font-size="1.9" text-anchor="middle" font-weight="bold" fill="#333">3</text>
<line x1="306.5" y1="78.2" x2="307.6" y2="78.2" stroke="#111" stroke-width="0.6"/>
<line x1="345.9" y1="115.7" x2="345.9" y2="116.7" stroke="#111" stroke-width="0.6"/>
<text x="345.3" y="122" font-size="3.3" text-anchor="middle" font-weight="bold" fill="#222">10</text>
<text x="348.1" y="119.6" font-size="2" text-anchor="middle" font-weight="bold" fill="#333">4</text>
<text x="305.2" y="79.8" font-size="3" text-anchor="end" font-weight="bold" fill="#222">10</text>
<text x="303" y="77" font-size="1.9" text-anchor="middle" font-weight="bold" fill="#333">4</text>
<path d="M370.79,110.35h0.9M377.94,110.23h0.9M367.24,109h0.9M372.7,107.44h0.9M366.21,108.87h0.9M373.88,108.76h0.9M365.85,106.66h0.9M374.07,110.19h0.9M370.97,106.63h0.9M367.69,106.32h0.9M368.62,108.55h0.9M370.42,111.16h0.9M374.24,105.57h0.9M371.81,113.75h0.9M372.06,114.42h0.9M367.93,108.7h0.9M371.02,110.8h0.9M366.45,113.4h0.9M373.1,111.03h0.9M371.17,112.81h0.9M366.87,113.81h0.9M373.41,112.33h0.9M371.41,106.06h0.9M377.68,107.1h0.9M369.98,105.09h0.9M368.94,114.02h0.9M367.58,109.48h0.9M367.6,111.57h0.9M366.18,108.62h0.9M371.35,106.18h0.9M367.97,110.8h0.9M367.63,112.15h0.9M374.14,111.52h0.9M372.92,111.64h0.9M368.55,109.48h0.9M374.21,110.06h0.9M370.06,113.39h0.9M373.94,110.04h0.9M371.28,107.25h0.9M382.7,107.43h0.9M374.16,110.54h0.9M370.87,108h0.9M371.82,108.36h0.9M371.04,112.08h0.9M372.35,113.36h0.9M370.61,105.93h0.9M366.53,110.98h0.9M370.01,111.24h0.9M367.53,113.77h0.9M373.19,107.62h0.9M368.46,108.67h0.9M366.12,106.85h0.9M372.57,110.01h0.9M371.15,110.1h0.9M372.19,110.66h0.9M367.8,112.3h0.9M370.56,110.14h0.9M372.11,108.11h0.9M370.11,107.83h0.9M376.66,113.44h0.9M368.55,111.09h0.9M369.85,106.81h0.9M373.5,106.09h0.9M365.86,106.83h0.9M368.33,112.64h0.9M371.2,113.59h0.9M370.2,111.6h0.9M367.83,111.25h0.9M370.02,106.99h0.9M369.99,111.23h0.9M368.44,109.58h0.9M370.95,114.08h0.9M367.33,110.62h0.9M366.42,106.43h0.9M367.75,108.64h0.9M375.05,111.35h0.9M370.46,109.88h0.9M371.97,105.38h0.9M371.97,113.66h0.9M371.33,110.17h0.9M369.21,106.2h0.9M371.67,105.65h0.9M376.11,111.18h0.9M370.81,114.32h0.9M371.81,110.17h0.9M368.98,112.22h0.9M367.74,113.46h0.9M369.84,106.4h0.9M368.8,108.33h0.9M368.16,114.01h0.9M366.29,110.98h0.9M366.24,111.48h0.9M373.04,108.59h0.9M375.92,113.19h0.9M368.73,108.32h0.9M369.35,112.05h0.9M366.88,105.99h0.9M366.84,107.28h0.9M367.61,105.1h0.9M381.88,113.63h0.9M367.83,107.41h0.9M365.98,105.66h0.9M372.48,112.29h0.9M371.08,107.54h0.9M374.49,111.96h0.9M369.9,112.5h0.9M370.63,114.55h0.9M376.54,111.25h0.9M367.48,105.23h0.9M367.53,106.23h0.9M368.79,108.39h0.9M370.56,108.75h0.9M366.85,105.05h0.9M370.55,112.16h0.9M366.69,113.94h0.9M365.76,113.07h0.9M371.8,101.33h0.9M374.6,107.05h0.9M371.34,114.55h0.9M374.86,108.34h0.9M370.86,111.79h0.9M369.54,107.24h0.9M368.8,109.3h0.9M367.11,107.71h0.9M372.38,111.45h0.9M367.87,112.58h0.9M373.38,107.33h0.9M369.25,111.72h0.9M375.55,105.9h0.9M367.54,114.8h0.9M368.79,106.16h0.9M371.36,104.98h0.9M365.99,112.36h0.9M368.18,108.65h0.9M368.95,108.14h0.9M366.75,107.46h0.9M373.34,107.15h0.9M370.75,106.68h0.9M372.39,108.8h0.9M376.99,107.78h0.9M370.91,114.67h0.9M370.42,110.64h0.9M373.76,108.09h0.9M371.06,110.38h0.9M368.68,106.6h0.9M375.05,108.22h0.9M373.08,110.4h0.9M371.34,106.84h0.9M372.25,107.2h0.9M371.25,107.65h0.9M372.56,106.01h0.9M371.62,114.32h0.9M370.89,108.04h0.9M367.65,106.1h0.9M373.12,112.75h0.9M367.69,107.44h0.9M371.05,106.53h0.9M366.93,114.84h0.9M365.97,108.68h0.9M375.98,113.19h0.9M370.58,110.21h0.9M373.42,113.83h0.9M376,112.02h0.9M368.1,111.55h0.9M372.51,111.1h0.9M370.4,112.57h0.9M371.74,106.97h0.9M372.17,110.58h0.9M376.41,108.92h0.9M373.89,111.6h0.9M372.37,113.34h0.9M368.84,113.45h0.9M369.37,109.63h0.9M366,110.85h0.9M369.05,113.37h0.9M377,105.26h0.9M370.17,114.17h0.9M375.07,107.7h0.9M368.1,111.55h0.9M371.75,112.6h0.9M367.12,107.75h0.9M372.57,111.18h0.9M367.31,114.1h0.9M370.43,107.13h0.9M375.88,112.84h0.9M367.03,110.59h0.9M370.18,111.93h0.9M367.55,114.1h0.9M367.15,113.02h0.9M371.79,105.36h0.9M365.95,112.36h0.9M373.25,108.5h0.9M374.33,107.4h0.9M371.29,108.63h0.9M372.45,113.46h0.9M373.71,106.17h0.9M366.07,109.03h0.9M371.82,107.96h0.9M371.71,105.81h0.9M370.13,110.83h0.9M373.15,114.37h0.9M371.3,105.55h0.9M365.95,106.34h0.9M376.78,114.8h0.9M370.04,107.47h0.9M376,109.32h0.9M368.49,111.15h0.9M372.3,110.14h0.9M368.84,108.32h0.9M372.27,112.57h0.9M368.04,109.75h0.9M388.97,114.12h0.9M373.74,107.88h0.9M365.75,110.24h0.9M372.65,105.93h0.9M368.02,108.31h0.9M373.6,113.7h0.9M367.59,105.44h0.9M366.14,108.94h0.9M368.45,109.55h0.9M372.18,113.49h0.9M369.94,105.42h0.9M374.09,106.87h0.9M366.3,109.89h0.9M370.68,108.83h0.9M372.84,113.48h0.9M366.47,112.53h0.9M369.62,109.92h0.9M371.45,114.75h0.9M373.38,112.26h0.9M371.88,107.75h0.9M367.45,111.11h0.9M369.67,105.01h0.9M367.16,108.24h0.9M375.23,105.79h0.9M367.41,112.82h0.9M370.13,107.82h0.9M370.09,107.01h0.9M370.78,114.25h0.9M372.68,110.41h0.9M370.18,105.38h0.9M369.03,110.86h0.9M371.08,114.23h0.9M367.78,110.47h0.9M370.47,110.82h0.9M371.55,108.49h0.9M370.65,109.27h0.9M370.41,113.74h0.9M371.01,112.2h0.9M367.78,111.05h0.9M366.01,107.23h0.9M369.09,104.45h0.9M365.98,106.81h0.9M367.91,111.22h0.9M373.04,108.99h0.9M371.13,111.85h0.9M377.05,114.04h0.9M370.21,113.34h0.9M369.24,107.54h0.9M368.17,108.93h0.9M365.82,108.66h0.9M367.2,114.33h0.9M370.78,107.15h0.9M369.23,105.14h0.9M371.1,108.33h0.9M371.77,107.45h0.9M370.42,114.46h0.9M370.26,114.24h0.9M367.69,108.46h0.9M374.67,108.28h0.9M366.32,105.8h0.9M366.74,105.29h0.9M370.16,106.94h0.9M371.12,105.11h0.9M370.81,111.17h0.9M367.76,105.76h0.9M368.8,107.9h0.9M370.4,114.08h0.9M371.12,113.7h0.9M371.64,105.53h0.9M371.8,113.12h0.9M367.65,110.21h0.9M369.68,113.13h0.9M366.88,105.27h0.9M374.39,107.51h0.9M374.78,113.35h0.9M367.53,109.43h0.9M371.68,114.54h0.9M383.58,111.89h0.9M375.4,111.24h0.9M372.56,105.7h0.9M371,112.67h0.9M368.93,106.75h0.9M373.89,105.9h0.9M373.73,111.11h0.9M367.41,114.08h0.9M369.45,110.07h0.9M370.68,108.7h0.9M366.15,106.72h0.9M368.43,105.16h0.9M366.71,112.46h0.9M373.51,109.37h0.9M372.52,105.38h0.9M366.5,110.22h0.9M366.14,112.87h0.9M366.91,106.96h0.9M368.17,112.11h0.9M368.19,110.22h0.9M375.64,105.62h0.9M381.6,109.58h0.9M372.63,107.67h0.9M365.96,107.51h0.9M375.95,107.95h0.9M367.9,110.28h0.9M372.16,106.39h0.9M367.57,105.99h0.9M373.54,104.07h0.9M367.39,110.08h0.9M369.64,107.13h0.9M367.65,114.34h0.9M370.23,109.76h0.9M368.62,109.89h0.9M367.66,114.14h0.9M369.03,107.34h0.9M371.8,105.52h0.9M370.18,105.39h0.9M374.56,110.4h0.9M366.36,109.88h0.9M370.22,106.89h0.9M370.36,114.72h0.9M366.47,110.06h0.9M371.21,113.75h0.9M368.36,109.04h0.9M372.19,107.95h0.9M368.53,109.02h0.9M366.6,109.37h0.9M371.62,111.82h0.9M373.39,111.41h0.9M370.45,110.91h0.9M366.76,110.06h0.9M368.31,114.84h0.9M368.67,108.04h0.9M373.17,114.27h0.9M377.47,106.01h0.9M368.34,105.36h0.9M372.57,110.33h0.9M374.66,112.98h0.9M366.16,106.13h0.9M370.1,111.71h0.9M366.58,112.2h0.9M365.77,108.23h0.9M369.49,109.07h0.9M373.22,108.43h0.9M371.14,109.01h0.9M370.55,108.46h0.9M369.16,110.7h0.9M371.35,105.08h0.9M367.92,105.74h0.9M366.63,110.08h0.9M365.93,104.19h0.9M369.23,107.3h0.9M371.09,108.72h0.9M366.94,107.75h0.9M367.07,112.02h0.9M369.54,106.4h0.9M372.93,109.03h0.9M367.86,109.12h0.9M366.99,105.27h0.9M370.29,109.06h0.9M376.44,114.64h0.9M371.66,112.33h0.9M375.29,106.01h0.9M373.74,109.35h0.9M367.63,106.16h0.9M370.39,111.87h0.9M374.39,108.23h0.9M374.69,110.14h0.9M372.6,105.9h0.9M373.89,114.47h0.9M370.63,105.48h0.9M369.31,109.26h0.9M366.31,111.71h0.9M369.42,111.09h0.9M372,105.63h0.9M374.32,110.52h0.9M369.04,111.74h0.9M367.29,113.84h0.9M366.09,109.83h0.9M369.36,111.91h0.9M365.77,107.26h0.9M373.35,105.68h0.9M378.08,113.76h0.9M369.05,111.13h0.9M369.03,109.54h0.9M370.38,114.91h0.9M368.45,108.88h0.9M370.42,107.67h0.9M368.52,112.98h0.9M370.42,111.1h0.9M374.08,106.86h0.9M373.74,113.71h0.9M367.17,106.28h0.9M368.49,112.82h0.9M371.54,114.43h0.9M369.53,108.97h0.9M370.62,111.35h0.9M368.3,111.75h0.9M373.15,106.68h0.9M372.38,105.26h0.9M370.21,106.19h0.9M373.19,114.03h0.9M372.87,106.09h0.9M370.07,105.96h0.9M369.06,113.59h0.9M366.64,113.59h0.9M366.92,113.84h0.9M367.52,109.45h0.9M367.51,113.11h0.9M368.42,108.44h0.9M366.43,106.63h0.9M368.28,112.1h0.9M369,108h0.9M370.44,110.36h0.9M375.53,104.51h0.9M371.27,113.57h0.9M372.06,112.42h0.9M370.34,111.09h0.9M373.37,108.41h0.9M370.44,108.23h0.9M367.57,107.77h0.9M372.93,109.57h0.9M371.47,111.75h0.9M371.77,105.34h0.9M372.97,109.3h0.9M368.17,111.65h0.9M378.19,106.9h0.9M366.76,114.68h0.9M366.31,111.61h0.9M374.92,106h0.9M368.75,105.72h0.9M379.21,105.06h0.9M380.41,109.23h0.9M375.15,106.86h0.9M367.23,105.02h0.9M367.47,105.32h0.9M370.44,109.89h0.9M367.84,109.4h0.9M365.74,104.72h0.9M369,108.42h0.9M367.68,108.68h0.9M375.71,109.42h0.9M373.38,113.48h0.9M371.8,105.46h0.9M368.31,111.41h0.9M366.16,105.22h0.9M370.73,106.79h0.9M374.48,108.97h0.9M370.4,113.58h0.9M368.54,109.64h0.9M367.25,105.98h0.9M369.72,109.33h0.9M371.8,112.8h0.9M370.64,112.98h0.9M369.21,104.27h0.9M370.29,110.57h0.9M371.37,114.24h0.9M371.93,106.21h0.9M366.04,106.34h0.9M366.13,105.73h0.9M367.24,109.65h0.9M368.67,110.19h0.9M368.44,105.37h0.9M372.33,108.09h0.9M370.46,114.14h0.9M373.9,107.17h0.9M370.23,105.96h0.9M378.54,112.13h0.9M373.97,108.1h0.9M371.59,112.68h0.9M372.68,103.77h0.9M371.41,105.05h0.9M367.11,109.96h0.9M374.52,114.85h0.9M367.66,112.94h0.9M373.87,105.3h0.9M376.36,113.79h0.9M375.88,106.63h0.9M365.9,103.11h0.9M375.77,112.49h0.9M367.46,109.73h0.9M368.2,112.61h0.9M372.39,106.7h0.9M366.58,105.29h0.9M369.61,108.44h0.9M376.9,110.65h0.9M368.08,110.47h0.9M369.93,106.75h0.9M368.23,107.78h0.9M366.04,110.02h0.9M369.38,110.54h0.9M374.99,110.96h0.9M368.88,110.22h0.9M374.7,106.65h0.9M369.07,110.76h0.9M366.47,108.7h0.9M365.74,110.8h0.9M371.9,113.04h0.9M369.73,103.44h0.9M380.93,113.36h0.9M371.01,106.09h0.9M372.48,106.96h0.9M366.12,107.11h0.9M367.29,107.89h0.9M372.38,111.14h0.9M367.91,106.04h0.9M370.64,107.4h0.9M370.71,106.53h0.9M372.31,108.85h0.9M366.71,111.21h0.9M369.1,113.65h0.9M371.41,107.21h0.9M377.54,108.72h0.9M366.96,111.88h0.9M367.36,107.69h0.9M373.77,106.78h0.9M367.31,105.06h0.9M373.74,113.32h0.9M369.76,110.03h0.9M372.55,110.79h0.9M370.61,110.66h0.9M375.87,108.5h0.9M370.29,112.42h0.9M373.43,109.29h0.9M370.29,114.46h0.9M367.01,109.47h0.9M371.39,108.76h0.9M370.88,111.48h0.9M374.85,108.42h0.9M372.47,107.39h0.9M368.01,110.94h0.9M372.65,108.02h0.9M370.01,111.64h0.9M369.52,111.55h0.9M380.04,106.42h0.9M367.92,107.13h0.9M367.02,106.51h0.9M368.44,105.98h0.9M367.78,107.44h0.9M373.25,112.16h0.9M373.87,107.6h0.9M372.45,109.87h0.9M368.08,112.55h0.9M372.69,114.24h0.9M367.7,114.47h0.9M375.62,110.12h0.9M371.65,107.71h0.9M367.7,106.3h0.9M365.76,109.14h0.9M369.51,107.6h0.9M371.01,109.18h0.9M367.71,112.45h0.9M370.87,111.68h0.9M373.48,110.66h0.9M375.07,110.8h0.9M371.88,110.19h0.9M369.25,113.69h0.9M370.7,113.35h0.9M367.95,106.24h0.9M368.47,112.08h0.9M368.67,108.32h0.9M372.57,109.76h0.9M368.61,109.81h0.9M365.93,106.02h0.9M383.29,109.93h0.9M377.71,106.24h0.9M366.83,113.73h0.9M378.64,114.46h0.9M368.56,111.48h0.9M373.78,106.6h0.9M369.98,105.83h0.9M376.01,111.8h0.9M366.82,109.42h0.9M368.25,108.15h0.9M373.05,111.05h0.9M367.11,106.55h0.9M374.2,108.59h0.9M366.75,112.28h0.9M367.72,113.11h0.9M376.14,110.24h0.9M376.99,107.48h0.9M372.19,111.05h0.9M376.81,109.69h0.9M371.75,109.7h0.9M368.66,109.24h0.9M370.52,114.73h0.9M375.75,104.86h0.9M373.41,107.88h0.9M371.56,108.63h0.9M368.77,106.21h0.9M371.82,105.43h0.9M366.54,113.97h0.9M372.99,109.68h0.9M369.2,105.6h0.9M369.32,111.66h0.9M368.46,110.44h0.9M371.17,111.4h0.9M370,111.04h0.9M372.25,106.05h0.9M373.24,108.77h0.9M372.31,108.66h0.9M368.56,103.86h0.9M365.87,110.44h0.9M377.05,106.59h0.9M373.12,105.48h0.9M368.05,109.53h0.9M374.47,112.89h0.9M370.81,109.34h0.9M374.72,113.1h0.9M371.94,109.15h0.9M366.77,109.56h0.9M369.42,113.39h0.9M370.48,111.78h0.9M366.85,109.31h0.9M374.65,107.59h0.9M368.69,106.44h0.9M367.55,113.55h0.9M367.8,108.42h0.9M374.26,110.11h0.9M371.38,111.58h0.9M367.57,110.63h0.9M368.6,111.7h0.9M374.45,111.99h0.9M372.03,110.55h0.9M368.57,110.84h0.9M371.18,105.52h0.9M372.44,112.02h0.9M374.11,109.32h0.9M372.61,108.25h0.9M368.08,105.18h0.9M368.14,110.65h0.9M372.29,107.62h0.9M369.01,112.8h0.9M366.84,108.43h0.9M376.49,111.53h0.9M371,112.51h0.9M366.68,105.57h0.9M369.12,107.5h0.9M371.07,112.02h0.9M372.53,109.32h0.9M370.19,111.11h0.9M368.42,105.8h0.9M370.35,108.48h0.9M373.24,107.29h0.9M370.58,110.13h0.9M368.36,112.63h0.9M372.44,111.95h0.9M371.98,109.83h0.9M375.3,107.92h0.9M370.95,113.61h0.9M370.53,113.17h0.9M366.97,109.72h0.9M372,104.99h0.9M366.13,107.53h0.9M369.05,110.5h0.9M367.65,111.64h0.9M371.64,105.15h0.9M365.94,106.39h0.9M370.19,111.26h0.9M369.48,106.92h0.9M370.43,113.13h0.9M374.3,105.56h0.9M373.8,112.02h0.9M370.75,114.61h0.9M370.97,108.08h0.9M369.39,110.12h0.9M372.36,112.13h0.9M374.94,114.6h0.9M374.07,113.67h0.9M368.26,112.89h0.9M375.83,111.85h0.9M370.45,110.77h0.9M376.48,111.83h0.9M367.9,112.44h0.9M377.38,113.06h0.9M367.24,113.62h0.9M367.68,107.21h0.9M371.96,108.8h0.9M370.31,107.82h0.9M371.18,106.23h0.9M368.51,111.49h0.9M370.96,111.25h0.9M367.4,111.87h0.9M369.43,107.38h0.9M368.11,111.36h0.9M371.76,109.06h0.9M375.59,109.54h0.9M373.51,110.4h0.9M376.47,113.73h0.9M372.17,104.98h0.9M369.72,112.14h0.9M371.6,107.91h0.9M366.7,106.2h0.9M370.82,109.72h0.9M372.25,105.04h0.9M373.29,107.25h0.9M369.64,109.83h0.9M372.4,106.25h0.9M372.08,109.86h0.9M366.62,106.63h0.9M370.49,111.04h0.9M372.59,103.71h0.9M366.98,112.27h0.9M369.15,110.09h0.9M370.42,109.25h0.9M367.05,107.07h0.9M371.94,107.88h0.9M369.82,108.42h0.9M370.47,109.86h0.9M373.72,109.42h0.9M367.23,106.24h0.9M367.27,110.23h0.9M372.14,108.21h0.9M374.52,111.5h0.9M371.92,113.01h0.9M368.12,106.68h0.9M372.62,113.77h0.9M369.54,107.94h0.9M368.77,105.99h0.9M367.7,111.99h0.9M372.57,104.98h0.9M369.78,105.19h0.9M367.5,105.76h0.9M370.19,114.39h0.9M367.76,109.08h0.9M368.7,111.83h0.9M372.84,112.24h0.9M376.7,113.09h0.9M376.54,109.36h0.9M371.96,110.49h0.9M366.95,114.79h0.9M370.3,113.03h0.9M376.82,107.73h0.9M365.85,107.33h0.9M369.94,114.04h0.9M372.08,107.51h0.9M373.39,110.13h0.9M369.91,106.68h0.9M367.02,105.49h0.9M373.29,104.64h0.9M368.78,113.62h0.9M367.35,106.9h0.9M368.67,114.07h0.9M370.62,112.1h0.9M386.44,113.58h0.8M385.36,106.61h0.8M387.88,112.35h0.8M388.51,107.12h0.8M388.86,113.83h0.8M389.95,106.36h0.8M393.73,110.82h0.8M386.9,104.99h0.8M386.8,109.29h0.8M388.91,110.64h0.8M388.16,110.29h0.8M388.36,105.87h0.8M387.58,108.65h0.8M390.85,108.4h0.8M387.67,108.37h0.8M390.93,108.51h0.8M390.95,112.55h0.8M391.02,108.82h0.8M392.18,106.51h0.8M391.63,110.82h0.8M391.07,114.72h0.8M389.54,111.35h0.8M387.21,113.18h0.8M392.29,107.73h0.8M388.41,110.31h0.8M385.39,107.49h0.8M389.64,108.5h0.8M390.19,107.31h0.8M388.31,106.12h0.8M389.27,104.13h0.8M387.87,106.49h0.8M386.44,110.96h0.8M387.09,106.57h0.8M391.66,106.1h0.8M386.68,106.43h0.8M386.59,109.84h0.8M389.99,108.32h0.8M387.43,110.65h0.8M385.52,113.42h0.8M394,106.03h0.8M390.27,108.66h0.8M392.1,109.64h0.8M390.53,113.1h0.8M391.52,105.74h0.8M390.13,111.78h0.8M383.5,112.8h0.8M387.22,111.11h0.8M393.88,110.45h0.8M388.87,109.97h0.8M386.66,112.18h0.8M388.69,108.88h0.8M389.91,106.67h0.8M390.41,106.24h0.8M382.41,113.78h0.8M389.62,108.38h0.8M387.72,107.01h0.8M391.52,106.48h0.8M387.63,114.63h0.8M390.03,112.8h0.8M391.42,111.06h0.8M389.75,111.15h0.8M389.39,110.7h0.8M391.39,114.52h0.8M391.02,114.09h0.8M392.82,111.05h0.8M392.66,106.59h0.8M385.87,106.71h0.8M389.92,108.47h0.8M385.4,109.95h0.8M394.23,108.23h0.8M387.3,110.23h0.8M389.46,106.5h0.8M390.17,109.08h0.8M390.49,113.97h0.8M390.6,107.23h0.8M391.7,108.21h0.8M389.48,107.75h0.8M391.9,111.26h0.8M392.98,107.79h0.8M383.37,109.56h0.8M390.29,110.69h0.8M388.29,110.96h0.8M385.64,107.62h0.8M387.06,109.83h0.8M387.99,105.11h0.8M389,107.9h0.8M388.65,110.21h0.8M387.5,110.23h0.8M384.27,106.3h0.8M385.73,107.33h0.8M381.54,106.14h0.8M387.38,112.15h0.8M387.54,111.24h0.8M388.84,106.57h0.8M388.61,110.85h0.8M390.01,113.5h0.8M391.4,104.99h0.8M388.21,108.66h0.8M394.09,110.57h0.8M392.81,114.61h0.8M396.58,109.23h0.8M389.88,107.73h0.8M388.03,108.59h0.8M390.05,110.67h0.8M389.07,114.3h0.8M389.71,106.77h0.8M387.36,108.86h0.8M389.04,105.57h0.8M386.72,106.45h0.8M385.75,105.69h0.8M389.9,112.32h0.8M388.31,112.17h0.8M393.39,106.66h0.8M390.27,113.4h0.8M383.24,112.77h0.8M390.04,114.1h0.8M390.8,107.04h0.8M388.11,105.3h0.8M388.92,109.61h0.8M388.51,110.45h0.8M388.17,110.03h0.8M393.84,110.94h0.8M387.45,106.8h0.8M390.43,109.63h0.8M388.55,109.29h0.8M388.73,111.22h0.8M389.43,113.24h0.8M388.63,105.3h0.8M390.35,105.24h0.8M392.48,105.89h0.8M391.7,114.53h0.8M391.15,113.96h0.8M387.2,110.13h0.8M388.91,105.82h0.8M386.31,107.76h0.8M388.2,114.98h0.8M392.96,109.86h0.8M391.96,107.39h0.8M386.48,107.11h0.8M385.78,107.06h0.8M390.17,112.86h0.8M388.19,113.01h0.8M390.16,111.16h0.8M386.5,109.2h0.8M388.81,113.93h0.8M386.99,112.9h0.8M389.42,113.88h0.8M391.73,107.32h0.8M390.55,107.08h0.8M388.06,109.02h0.8M388.66,106.65h0.8M393.32,111.07h0.8M388.68,105.82h0.8M388.71,111.92h0.8M388.88,114.74h0.8M389.39,105.62h0.8M388.32,109.44h0.8M388.35,112.06h0.8M392.56,111.97h0.8M391,113.97h0.8M386.64,105.52h0.8M389.63,112.85h0.8M389.45,108.29h0.8M388.41,112.79h0.8M386.73,112.97h0.8M391.7,109.61h0.8M388.07,103.42h0.8M384.81,113.98h0.8M389.64,109.97h0.8M388.13,113.89h0.8M390.62,113.64h0.8M388.43,111.85h0.8M390.06,105.4h0.8M390.66,110.13h0.8M390.5,109.87h0.8M389.95,108.26h0.8M384.29,110.93h0.8M389.96,112.43h0.8M388.33,111.39h0.8M389.55,105.75h0.8M388.1,107.38h0.8M389.46,113.63h0.8M389.91,105.62h0.8M386.88,111.27h0.8M389.33,109.91h0.8M393.17,112.86h0.8M386.38,113.76h0.8M389.28,105.25h0.8M388.38,105.17h0.8M388.04,108.53h0.8M385.52,109.17h0.8M392.1,105h0.8M385.68,114.27h0.8M386.72,106.98h0.8M390.5,105.14h0.8M385.85,108.04h0.8M391.4,111.96h0.8M385.94,105.79h0.8M388.39,107.01h0.8M388.27,114.31h0.8M391.08,111.92h0.8M389.5,106.33h0.8M389.28,110.98h0.8M389.05,108.82h0.8M388.3,112.47h0.8M384.77,114.69h0.8M389.6,110.92h0.8M390.2,107.98h0.8M382.62,107.22h0.8M388.69,113.84h0.8M390.26,113.78h0.8M391.92,108.24h0.8M390.25,105.27h0.55M376.97,113.03h0.55M394.91,106.09h0.55M393.43,114.76h0.55M393.24,106.48h0.55M377.95,108.72h0.55M393.34,108.14h0.55M381.19,113.3h0.55M378.35,108.19h0.55M380.44,112.15h0.55M397.61,107.03h0.55M387.42,111.24h0.55M394.51,108.77h0.55M396.19,105.3h0.55M384.25,112.11h0.55M385.78,111.21h0.55M389.2,109.2h0.55M377.48,106.23h0.55M395.54,108.95h0.55M382.17,108.47h0.55M392.4,107.91h0.55M396.61,114.79h0.55M385.72,111.04h0.55M381.32,107.03h0.55M387.17,105.99h0.55M379.38,109h0.55M388.05,107.04h0.55M378.45,105.48h0.55M381.28,107.15h0.55M387.07,108.56h0.55M393.93,109.75h0.55M387,109.63h0.55M387.04,108.23h0.55M394.92,105.5h0.55M383.06,109.41h0.55M379.98,112.44h0.55M396.89,107.05h0.55M379.76,111.71h0.55M381.92,109.08h0.55M389.43,112.12h0.55M381.54,110.89h0.55M385.27,106.94h0.55M394.28,113.55h0.55M387.41,107.29h0.55M375.95,109.02h0.55M379.24,111.35h0.55M394.4,112.87h0.55M385.12,111.91h0.55M380.37,105.61h0.55M377.93,111.41h0.55M385.1,106.07h0.55M375.65,114.26h0.55M385.77,109.12h0.55M393.83,108.16h0.55M382.6,111.1h0.55M380.69,109.37h0.55M376.06,109.2h0.55M382.27,109.84h0.55M377,113.42h0.55M398.04,106.61h0.55M386.3,110.18h0.55M378.28,113.76h0.55M375.61,113.89h0.55M389.71,112.14h0.55M395.38,113.44h0.55M392.31,113.37h0.55M382.06,110.4h0.55M390.76,105.47h0.55M390.87,107.64h0.55M386.18,114.55h0.55M382.75,113.24h0.55M397.58,112.51h0.55M377.48,105.66h0.55M392.39,103.12h0.55M384.56,108.8h0.55M393.45,110.63h0.55M380.12,107.03h0.55M385.89,105.11h0.55M383.89,94.6h0.55M376.49,114.54h0.55M397.04,108.21h0.55M389.32,110.81h0.55M387.78,106.24h0.55M389.31,109.76h0.55M392.25,113.11h0.55M383.96,108.13h0.55M396.15,112.92h0.55M384.24,107.58h0.55M381.3,107.03h0.55M396.95,112.74h0.55M383.42,110.93h0.55M369.34,103.2h0.55M389.39,100.15h0.55M377.78,103.61h0.55M382.08,101.89h0.55M366.22,101.1h0.55M366.3,99.8h0.55M373.01,102.93h0.55M381.64,100.74h0.55M370.19,102.23h0.55M384.69,99.86h0.55M375.05,100.85h0.55M372.15,101.16h0.55M368.46,97.88h0.55M367.8,101.95h0.55M368.8,102.92h0.55M370.63,100.95h0.55M375.02,100.68h0.55M366.61,103.23h0.55M379.99,102.65h0.55M371.35,103.39h0.55M370.64,102.56h0.55M368.43,95.13h0.55M367.98,100.08h0.55M375.6,103.3h0.55M381.25,96.85h0.55M375.13,102.77h0.55M367.6,99.56h0.55M367.28,99.11h0.55M369.26,102.57h0.55M370.87,101.7h0.55M368.55,98.59h0.55M368.87,102.63h0.55M367.31,103.53h0.55M368.36,102.53h0.55M365.73,97.23h0.55M370.61,97.81h0.55M375.86,102.69h0.55M369.11,100.19h0.55M375.05,101.01h0.55M374.8,102.16h0.55M367.01,103.17h0.55M371.81,99.02h0.55M376.77,103.28h0.55M372.07,103.3h0.55M367.64,100.06h0.55M384.47,100.79h0.55M368.77,101.28h0.55M373.62,101.13h0.55M369.37,100.72h0.55M376.7,103.67h0.55M370.68,100.92h0.55M370.04,102.08h0.55M376.89,102.55h0.55M366.37,101.97h0.55M369.64,102.64h0.55M367.36,101.69h0.55M373.6,103.72h0.55M377.81,102.11h0.55M371.71,101.12h0.55M366.46,101.48h0.55M374.94,100.79h0.55M373.51,98.53h0.55M366.64,100.47h0.55M375.79,97.18h0.55M383.21,102.36h0.55M369.29,103.51h0.55M375.74,102.21h0.55M378.74,102.77h0.55M371.57,101.76h0.55M373.11,100.23h0.55M365.96,102.45h0.55M369.93,98.54h0.55M369.94,101.07h0.55M366.85,103.36h0.55M383.19,102.46h0.55M371.78,102.32h0.55M366.84,97.79h0.55M372.04,103.76h0.55M365.96,101.85h0.55M368.2,101.4h0.55M373.99,101.81h0.55M376.94,100.69h0.55M372.67,102.37h0.55M365.96,103.07h0.55M372.02,101.18h0.55M384.42,103.59h0.55M379.69,101.17h0.55M378.99,100.75h0.55M381.87,101.57h0.55M365.94,102.22h0.55M372.77,103.74h0.55M369.93,101.52h0.55M366.35,103.07h0.55M372.92,103.38h0.55M371.18,103.28h0.55M378.55,102.01h0.55M371.25,102.9h0.55M376.34,101.59h0.55" stroke="#000" stroke-width="0.9" fill="none"/>
<rect x="365" y="78.2" width="38.3" height="37.5" fill="none" stroke="#1a1a1a" stroke-width="0.6"/>
<line x1="365" y1="78.2" x2="365" y2="115.7" stroke="#111" stroke-width="0.9"/>
<line x1="365" y1="115.7" x2="403.3" y2="115.7" stroke="#111" stroke-width="0.8"/>
<line x1="380.82" y1="78.2" x2="380.82" y2="115.7" stroke="#1a1a1a" stroke-width="0.55"/>
<line x1="365" y1="104.08" x2="403.3" y2="104.08" stroke="#1a1a1a" stroke-width="0.55"/>
<text x="383.85" y="75.2" font-size="3.9" text-anchor="middle" font-weight="bold" fill="#000" stroke="#000" stroke-width="0.25">HGF</text>
<text x="392.38" y="82.62" font-size="3.7" text-anchor="middle" font-weight="bold" fill="#000" textLength="12.3" lengthAdjust="spacingAndGlyphs" stroke="#000" stroke-width="0.24">0.29%</text>
<line x1="363.9" y1="115.7" x2="365" y2="115.7" stroke="#111" stroke-width="0.6"/>
<line x1="365" y1="115.7" x2="365" y2="116.7" stroke="#111" stroke-width="0.6"/>
<text x="364.4" y="122" font-size="3.3" text-anchor="middle" font-weight="bold" fill="#222">10</text>
<text x="367.2" y="119.6" font-size="2" text-anchor="middle" font-weight="bold" fill="#333">0</text>
<text x="362.6" y="117.3" font-size="3" text-anchor="end" font-weight="bold" fill="#222">10</text>
<text x="360.4" y="114.5" font-size="1.9" text-anchor="middle" font-weight="bold" fill="#333">0</text>
<line x1="363.9" y1="106.33" x2="365" y2="106.33" stroke="#111" stroke-width="0.6"/>
<line x1="374.57" y1="115.7" x2="374.57" y2="116.7" stroke="#111" stroke-width="0.6"/>
<text x="373.97" y="122" font-size="3.3" text-anchor="middle" font-weight="bold" fill="#222">10</text>
<text x="376.77" y="119.6" font-size="2" text-anchor="middle" font-weight="bold" fill="#333">1</text>
<text x="362.6" y="107.92" font-size="3" text-anchor="end" font-weight="bold" fill="#222">10</text>
<text x="360.4" y="105.12" font-size="1.9" text-anchor="middle" font-weight="bold" fill="#333">1</text>
<line x1="363.9" y1="96.95" x2="365" y2="96.95" stroke="#111" stroke-width="0.6"/>
<line x1="384.15" y1="115.7" x2="384.15" y2="116.7" stroke="#111" stroke-width="0.6"/>
<text x="383.55" y="122" font-size="3.3" text-anchor="middle" font-weight="bold" fill="#222">10</text>
<text x="386.35" y="119.6" font-size="2" text-anchor="middle" font-weight="bold" fill="#333">2</text>
<text x="362.6" y="98.55" font-size="3" text-anchor="end" font-weight="bold" fill="#222">10</text>
<text x="360.4" y="95.75" font-size="1.9" text-anchor="middle" font-weight="bold" fill="#333">2</text>
<line x1="363.9" y1="87.58" x2="365" y2="87.58" stroke="#111" stroke-width="0.6"/>
<line x1="393.73" y1="115.7" x2="393.73" y2="116.7" stroke="#111" stroke-width="0.6"/>
<text x="393.12" y="122" font-size="3.3" text-anchor="middle" font-weight="bold" fill="#222">10</text>
<text x="395.93" y="119.6" font-size="2" text-anchor="middle" font-weight="bold" fill="#333">3</text>
<text x="362.6" y="89.17" font-size="3" text-anchor="end" font-weight="bold" fill="#222">10</text>
<text x="360.4" y="86.38" font-size="1.9" text-anchor="middle" font-weight="bold" fill="#333">3</text>
<line x1="363.9" y1="78.2" x2="365" y2="78.2" stroke="#111" stroke-width="0.6"/>
<line x1="403.3" y1="115.7" x2="403.3" y2="116.7" stroke="#111" stroke-width="0.6"/>
<text x="402.7" y="122" font-size="3.3" text-anchor="middle" font-weight="bold" fill="#222">10</text>
<text x="405.5" y="119.6" font-size="2" text-anchor="middle" font-weight="bold" fill="#333">4</text>
<text x="362.6" y="79.8" font-size="3" text-anchor="end" font-weight="bold" fill="#222">10</text>
<text x="360.4" y="77" font-size="1.9" text-anchor="middle" font-weight="bold" fill="#333">4</text>
<path d="M423.63,107.84h0.9M423.29,112.44h0.9M431.66,109.48h0.9M422.85,109.41h0.9M425.51,110.26h0.9M429.51,113.24h0.9M424.16,109.76h0.9M423.56,110.62h0.9M428.06,107.77h0.9M422.95,106.19h0.9M425.32,109.53h0.9M424.73,110.84h0.9M432.9,112.45h0.9M431.27,109.04h0.9M426.01,114.42h0.9M426.82,114.01h0.9M428.22,110.63h0.9M428.3,106.89h0.9M424.28,107.07h0.9M426.97,109.45h0.9M424.92,111.06h0.9M423.55,110.14h0.9M432.83,112.84h0.9M424.8,114.1h0.9M428.55,112.16h0.9M424.77,108.5h0.9M428.67,109.11h0.9M423.55,107.63h0.9M425.16,110.83h0.9M423.74,105.36h0.9M432.76,111.08h0.9M424.25,105.43h0.9M427.01,111.56h0.9M426.34,105.7h0.9M423.39,109.03h0.9M425,114.47h0.9M422.48,104.46h0.9M425.74,109.15h0.9M423.9,110.07h0.9M423,106.91h0.9M430.83,108.07h0.9M428.68,106.8h0.9M426.86,112.27h0.9M432.15,112.59h0.9M428.72,110.43h0.9M428.53,105.99h0.9M422.43,110.2h0.9M421.86,107.49h0.9M422.45,114.23h0.9M424.48,107.34h0.9M428.33,113.25h0.9M424.48,109.56h0.9M426.18,110.11h0.9M428.51,105.18h0.9M427.45,112.66h0.9M428.61,105.42h0.9M428.35,111.89h0.9M423.74,110.12h0.9M426.85,111.79h0.9M423.9,109.33h0.9M426.27,106.08h0.9M427.16,111.06h0.9M427.41,109.9h0.9M430.4,107.3h0.9M427.06,114.56h0.9M423.05,112.49h0.9M426.8,114.3h0.9M423.38,108.04h0.9M422.38,110.88h0.9M428.56,108.46h0.9M427.88,112h0.9M422.05,111.76h0.9M426.95,103.08h0.9M422.69,111.75h0.9M421.81,107.51h0.9M424.99,107.86h0.9M427.81,113.15h0.9M423.76,105.79h0.9M428.87,108.25h0.9M429.78,105.45h0.9M427.54,107.65h0.9M426.38,106.67h0.9M424.46,108.41h0.9M424.28,105.45h0.9M426.05,114.77h0.9M425.37,112.34h0.9M426.18,106.71h0.9M424.7,104.37h0.9M424.11,112.46h0.9M424.7,106.08h0.9M426.33,109.31h0.9M425.69,107h0.9M424.49,110.91h0.9M434.22,106.95h0.9M424.68,111.58h0.9M429.32,111.69h0.9M430.72,109.94h0.9M426.5,108.24h0.9M425.23,110.96h0.9M431.55,106.39h0.9M428.16,106.15h0.9M426.62,112.58h0.9M425.52,110.76h0.9M423.95,113.24h0.9M422.01,111.79h0.9M425.72,110.99h0.9M422.71,105.28h0.9M431.14,112.37h0.9M426.21,109.31h0.9M424.23,114.43h0.9M427.79,113.12h0.9M429.06,109.29h0.9M423.24,107.22h0.9M423.19,108.2h0.9M425.35,109.43h0.9M429.28,106.1h0.9M431.81,112.84h0.9M427.22,113.91h0.9M427.59,109.75h0.9M424.77,105.99h0.9M426.96,114.7h0.9M423.2,111.54h0.9M423.97,105.74h0.9M424.73,105.07h0.9M424.42,106.6h0.9M427.35,111.74h0.9M431.59,110.44h0.9M428.95,108.97h0.9M423.08,105.16h0.9M428.33,114.51h0.9M429.5,112.06h0.9M424.45,107.81h0.9M425.03,109.77h0.9M427.49,106.22h0.9M426.63,109.04h0.9M432,106.32h0.9M425.52,114.14h0.9M422.43,112.89h0.9M428.52,114.36h0.9M425.61,110.37h0.9M427.06,105.23h0.9M422.78,108.71h0.9M433.58,110.08h0.9M425.93,106.36h0.9M427.22,105.68h0.9M429.46,112.85h0.9M428.36,113.38h0.9M424.05,112.49h0.9M426.47,108.2h0.9M426.65,114.68h0.9M422.59,114.25h0.9M429.36,106.37h0.9M427.29,112.84h0.9M428.32,109.76h0.9M426.2,110.94h0.9M425.85,105.49h0.9M424.05,108.32h0.9M425.9,112.99h0.9M423.63,107.1h0.9M422.67,109.37h0.9M424.53,110.55h0.9M422.31,112.63h0.9M423.54,111h0.9M432.26,105.32h0.9M432.83,108.55h0.9M426.64,105.12h0.9M427.27,110.45h0.9M429.28,107.38h0.9M423.83,112.56h0.9M424.48,113.18h0.9M421.87,109.09h0.9M431.79,113.4h0.9M430.21,106.35h0.9M423.48,107.9h0.9M422.86,113.38h0.9M427.96,111.62h0.9M423.15,106.07h0.9M432.3,105.23h0.9M424.88,112.01h0.9M429.06,114.63h0.9M423.83,106.01h0.9M428.88,110.68h0.9M423.51,112.41h0.9M422.12,109.04h0.9M423.07,113.39h0.9M423.87,110.27h0.9M427.48,110.18h0.9M432.75,112.76h0.9M422.54,112.71h0.9M424.06,114.73h0.9M427.16,110.6h0.9M426.32,113.67h0.9M426.44,110.7h0.9M429.64,110.75h0.9M422.27,107.2h0.9M425.61,111.07h0.9M424.83,109.49h0.9M424.11,114.31h0.9M423.93,110.02h0.9M425.09,106.55h0.9M424.12,107.21h0.9M425.84,105.02h0.9M430.21,113.56h0.9M427.95,113.87h0.9M424.18,110.5h0.9M422.14,108.16h0.9M425.15,112.45h0.9M430.05,113.74h0.9M427.32,114.53h0.9M425.33,109.06h0.9M423.34,114.48h0.9M422.27,109.89h0.9M427.02,108.15h0.9M422.8,113.75h0.9M427.53,105.86h0.9M422.53,106.64h0.9M431.41,114.1h0.9M427.18,110.82h0.9M423.53,111.87h0.9M422.06,109.79h0.9M425.11,108.15h0.9M422.35,105.53h0.9M425.67,112.67h0.9M429.81,110.98h0.9M425.27,108.56h0.9M426.79,105.56h0.9M424.43,111.75h0.9M430.38,105.75h0.9M426.09,113.96h0.9M427.04,112.65h0.9M428.41,110.8h0.9M426.01,113.07h0.9M422.87,109.67h0.9M425.41,106.87h0.9M426.08,107.11h0.9M428.04,105.44h0.9M433.55,114.43h0.9M427.18,111.05h0.9M422.75,109.62h0.9M428.29,112.53h0.9M428.63,106.5h0.9M427.76,105.97h0.9M425.94,105.53h0.9M428.01,109.55h0.9M424.25,112.29h0.9M421.91,107.54h0.9M421.88,108.52h0.9M425.25,103.26h0.9M423.39,113.12h0.9M424.01,107.49h0.9M428.11,108.34h0.9M423.73,109.7h0.9M433.34,109.4h0.9M422.17,110.53h0.9M428.74,110.54h0.9M423.13,113.23h0.9M425.62,106.21h0.9M424.04,111.18h0.9M427.04,109.79h0.9M428.6,109.92h0.9M424.21,110.92h0.9M424.92,112.27h0.9M424.41,113.87h0.9M429.25,105.76h0.9M429.34,108.23h0.9M423.74,107.68h0.9M428.84,107.35h0.9M432.11,104.99h0.9M422.29,109.34h0.9M427.1,113.14h0.9M430.16,112.23h0.9M424.82,108.95h0.9M428.52,106.12h0.9M425.67,105.02h0.9M427.98,112.32h0.9M427.82,108.06h0.9M426.43,111.75h0.9M426.55,109.68h0.9M424.41,113.87h0.9M425.09,108.1h0.9M429.21,109.54h0.9M423.93,110.54h0.9M427.12,113.33h0.9M425.81,105.48h0.9M428.91,105.86h0.9M423.64,111.42h0.9M429.76,109.08h0.9M426.91,110.72h0.9M429.18,106.67h0.9M426.22,113.61h0.9M427.16,112.51h0.9M426.18,107.36h0.9M424.57,108.99h0.9M432.32,106.79h0.9M423.15,111.35h0.9M422.95,107.79h0.9M428.76,111.54h0.9M428.38,105.29h0.9M430.29,113.27h0.9M426.07,105.53h0.9M425.05,111.53h0.9M425.52,110.77h0.9M425.97,114.58h0.9M424.42,109.24h0.9M429.34,112.79h0.9M430.14,106.6h0.9M422.75,108.49h0.9M426.65,105.97h0.9M423.61,105.24h0.9M424.5,110.58h0.9M425.26,113.89h0.9M423.48,104.99h0.9M423.54,109.54h0.9M426.39,106.53h0.9M423.19,109.49h0.9M426.74,110.51h0.9M425.63,107.51h0.9M427.42,113.27h0.9M427.89,111.38h0.9M436.67,109.18h0.9M427.17,106.49h0.9M425.52,106.69h0.9M427.23,111.21h0.9M427.15,105.4h0.9M427.73,114.63h0.9M425.06,113.09h0.9M426.5,104.94h0.9M424.69,109.41h0.9M430.34,105.27h0.9M422.64,103.5h0.9M424.54,110.89h0.9M425.93,113.55h0.9M425.03,110.16h0.9M427.39,110.92h0.9M429.36,113.8h0.9M427.61,112.44h0.9M423.82,104.52h0.9M432.15,110.79h0.9M425.32,106.9h0.9M430.65,114.4h0.9M424.7,110.12h0.9M427.74,107.55h0.9M431.37,114.11h0.9M425.62,112.4h0.9M426.11,105.05h0.9M427.19,109.37h0.9M429.87,105.29h0.9M430.96,112.34h0.9M424.83,112.9h0.9M424.66,113.69h0.9M427.81,109.96h0.9M424.61,111.07h0.9M423.08,111.62h0.9M425.62,107.15h0.9M425.93,106.82h0.9M432.36,111.48h0.9M423.05,110.81h0.9M425.53,108.77h0.9M427.56,114.24h0.9M425.55,111.71h0.9M425.58,114.57h0.9M432.98,106.46h0.9M429.13,109.3h0.9M430.61,107.12h0.9M423.79,114.16h0.9M423.26,113.52h0.9M424.61,114.46h0.9M425.56,113.22h0.9M426.93,108.26h0.9M427.96,105.42h0.9M430.41,114.43h0.9M422.85,106.26h0.9M427.43,113.12h0.9M426.99,106.85h0.9M425.29,109.23h0.9M426.35,112.64h0.9M422.86,114.76h0.9M428.83,106.04h0.9M422.44,108.89h0.9M427.78,110.87h0.9M426.1,105.09h0.9M423.96,108.02h0.9M423.9,106.35h0.9M430.5,105.49h0.9M424.91,114.26h0.9M422.32,108.72h0.9M424.06,109.12h0.9M425.45,111.82h0.9M425.92,109.48h0.9M422.02,109.64h0.9M424.75,113.96h0.9M425.22,113.25h0.9M429.08,109.09h0.9M425.97,113.13h0.9M431.26,110.23h0.9M428.12,111.22h0.9M422.32,110.36h0.9M424.15,111.91h0.9M427.18,113.93h0.9M427.51,108.89h0.9M431.42,108.83h0.9M422.55,105.22h0.9M424.84,104.3h0.9M426.74,107.22h0.9M427.44,114.38h0.9M425.36,112.53h0.9M430.54,112.9h0.9M423.7,110.35h0.9M422.62,109.17h0.9M424,112.73h0.9M427.84,114.21h0.9M424.59,109.48h0.9M426.17,106.03h0.9M427.47,113.69h0.9M424.24,106.94h0.9M422.37,107.21h0.9M425.26,109.16h0.9M424.94,108.07h0.9M422.05,107.42h0.9M423.03,112.25h0.9M429.23,106.3h0.9M424.22,111.65h0.9M430.46,113.83h0.9M424.91,109.18h0.9M427.68,105.97h0.9M424.35,106.82h0.9M430.13,114.11h0.9M427.97,106.46h0.9M422.43,114.26h0.9M427.91,109.25h0.9M429.8,113.79h0.9M429.61,107.04h0.9M427.02,107.29h0.9M429.76,112.52h0.9M425.94,114.13h0.9M422.53,110.41h0.9M421.9,106.38h0.9M431.27,114.45h0.9M426.42,105.11h0.9M422.63,110.6h0.9M422.1,113.11h0.9M424.07,112.78h0.9M423.78,109.69h0.9M421.97,112.29h0.9M424.7,110h0.9M426.02,114.69h0.9M428.43,113.21h0.9M425.53,109.08h0.9M423.87,113.7h0.9M427.02,112.01h0.9M425.73,107.79h0.9M422.66,107.22h0.9M433.29,109.8h0.9M427.35,110.62h0.9M429.94,110.26h0.9M446.05,107.22h0.8M444.59,107.3h0.8M445.92,106.56h0.8M443.95,114.21h0.8M446.1,112.21h0.8M444.54,112.2h0.8M441.62,108.69h0.8M446.87,108.26h0.8M450.71,111.75h0.8M439.42,108.62h0.8M446.77,110.45h0.8M448.6,112.25h0.8M445.42,111.72h0.8M447.35,113.64h0.8M447.31,106.26h0.8M449.61,104.67h0.8M442.72,114.64h0.8M444.11,114.69h0.8M445.01,106.9h0.8M443.48,109.09h0.8M446.56,112.47h0.8M444.79,114.08h0.8M444.18,106.13h0.8M449.07,109.7h0.8M442.77,111.03h0.8M438.89,111.1h0.8M443.92,112.03h0.8M446.38,107.07h0.8M442.33,105.98h0.8M446.4,109.2h0.8M448.37,114.03h0.8M443.12,107.99h0.8M445.85,111.95h0.8M443.17,113.07h0.8M447.48,114.26h0.8M445.76,103.37h0.8M445.67,106.01h0.8M442.83,114.66h0.8M446.69,108.4h0.8M438.46,106.94h0.8M446.86,112.36h0.8M439.89,111.06h0.8M443.1,106.83h0.8M450.75,108.72h0.8M446.32,106.21h0.8M445.04,105.04h0.8M445.46,113.48h0.8M445.16,109.17h0.8M441.69,110.44h0.8M444.41,109.76h0.8M449.34,107.21h0.8M444.47,108.21h0.8M442.56,108.28h0.8M444.06,112.62h0.8M444.07,104.27h0.8M444.94,109.39h0.8M445.91,105.43h0.8M442.14,113.8h0.55M441.19,107.17h0.55M432.16,109.94h0.55M435.99,111.87h0.55M444.02,108.54h0.55M433.68,105.31h0.55M446.82,110.93h0.55M453.23,109.32h0.55M449.25,113.53h0.55M444.62,114.08h0.55M436.36,108.28h0.55M451.26,102.39h0.55M435.96,114.62h0.55M433.74,105.8h0.55M449.46,113.13h0.55M454.24,112.76h0.55M438.02,110.87h0.55M450.9,106.74h0.55M436.47,107.9h0.55M437.52,106.92h0.55M441.99,105.08h0.55M440.37,105.37h0.55M443.93,110.09h0.55M441.49,111.79h0.55M442.99,110.49h0.55M442.37,114.63h0.55M440.58,110.99h0.55M444.01,114.42h0.55M450.58,108.41h0.55M442.58,113.32h0.55M451.74,109.21h0.55M443.67,111.76h0.55M443.64,107.14h0.55M448.54,106.56h0.55M444.92,107.43h0.55M439.52,107.54h0.55M454.6,109.64h0.55M444.83,114.57h0.55M434.98,112.97h0.55M440.82,110.25h0.55M431.84,111.87h0.55M441.1,111.12h0.55M446.55,113.19h0.55M435.97,111.94h0.55" stroke="#000" stroke-width="0.9" fill="none"/>
<rect x="421.1" y="78.2" width="38.3" height="37.5" fill="none" stroke="#1a1a1a" stroke-width="0.6"/>
<line x1="421.1" y1="78.2" x2="421.1" y2="115.7" stroke="#111" stroke-width="0.9"/>
<line x1="421.1" y1="115.7" x2="459.4" y2="115.7" stroke="#111" stroke-width="0.8"/>
<line x1="436.92" y1="78.2" x2="436.92" y2="115.7" stroke="#1a1a1a" stroke-width="0.55"/>
<line x1="421.1" y1="104.08" x2="459.4" y2="104.08" stroke="#1a1a1a" stroke-width="0.55"/>
<text x="438.15" y="75.2" font-size="3.9" text-anchor="middle" font-weight="bold" fill="#000" textLength="24.2" lengthAdjust="spacingAndGlyphs" stroke="#000" stroke-width="0.25">HGF +NAC</text>
<text x="448.48" y="82.62" font-size="3.7" text-anchor="middle" font-weight="bold" fill="#000" textLength="7.2" lengthAdjust="spacingAndGlyphs" stroke="#000" stroke-width="0.24">0 %</text>
<line x1="420" y1="115.7" x2="421.1" y2="115.7" stroke="#111" stroke-width="0.6"/>
<line x1="421.1" y1="115.7" x2="421.1" y2="116.7" stroke="#111" stroke-width="0.6"/>
<text x="420.5" y="122" font-size="3.3" text-anchor="middle" font-weight="bold" fill="#222">10</text>
<text x="423.3" y="119.6" font-size="2" text-anchor="middle" font-weight="bold" fill="#333">0</text>
<text x="418.7" y="117.3" font-size="3" text-anchor="end" font-weight="bold" fill="#222">10</text>
<text x="416.5" y="114.5" font-size="1.9" text-anchor="middle" font-weight="bold" fill="#333">0</text>
<line x1="420" y1="106.33" x2="421.1" y2="106.33" stroke="#111" stroke-width="0.6"/>
<line x1="430.68" y1="115.7" x2="430.68" y2="116.7" stroke="#111" stroke-width="0.6"/>
<text x="430.07" y="122" font-size="3.3" text-anchor="middle" font-weight="bold" fill="#222">10</text>
<text x="432.88" y="119.6" font-size="2" text-anchor="middle" font-weight="bold" fill="#333">1</text>
<text x="418.7" y="107.92" font-size="3" text-anchor="end" font-weight="bold" fill="#222">10</text>
<text x="416.5" y="105.12" font-size="1.9" text-anchor="middle" font-weight="bold" fill="#333">1</text>
<line x1="420" y1="96.95" x2="421.1" y2="96.95" stroke="#111" stroke-width="0.6"/>
<line x1="440.25" y1="115.7" x2="440.25" y2="116.7" stroke="#111" stroke-width="0.6"/>
<text x="439.65" y="122" font-size="3.3" text-anchor="middle" font-weight="bold" fill="#222">10</text>
<text x="442.45" y="119.6" font-size="2" text-anchor="middle" font-weight="bold" fill="#333">2</text>
<text x="418.7" y="98.55" font-size="3" text-anchor="end" font-weight="bold" fill="#222">10</text>
<text x="416.5" y="95.75" font-size="1.9" text-anchor="middle" font-weight="bold" fill="#333">2</text>
<line x1="420" y1="87.58" x2="421.1" y2="87.58" stroke="#111" stroke-width="0.6"/>
<line x1="449.83" y1="115.7" x2="449.83" y2="116.7" stroke="#111" stroke-width="0.6"/>
<text x="449.23" y="122" font-size="3.3" text-anchor="middle" font-weight="bold" fill="#222">10</text>
<text x="452.03" y="119.6" font-size="2" text-anchor="middle" font-weight="bold" fill="#333">3</text>
<text x="418.7" y="89.17" font-size="3" text-anchor="end" font-weight="bold" fill="#222">10</text>
<text x="416.5" y="86.38" font-size="1.9" text-anchor="middle" font-weight="bold" fill="#333">3</text>
<line x1="420" y1="78.2" x2="421.1" y2="78.2" stroke="#111" stroke-width="0.6"/>
<line x1="459.4" y1="115.7" x2="459.4" y2="116.7" stroke="#111" stroke-width="0.6"/>
<text x="458.8" y="122" font-size="3.3" text-anchor="middle" font-weight="bold" fill="#222">10</text>
<text x="461.6" y="119.6" font-size="2" text-anchor="middle" font-weight="bold" fill="#333">4</text>
<text x="418.7" y="79.8" font-size="3" text-anchor="end" font-weight="bold" fill="#222">10</text>
<text x="416.5" y="77" font-size="1.9" text-anchor="middle" font-weight="bold" fill="#333">4</text>
<line x1="297.3" y1="114" x2="297.3" y2="27" stroke="#333" stroke-width="0.9"/>
<polygon points="295.3,28.8 297.4,20.3 299.5,28.8" fill="#000"/>
<line x1="310.8" y1="129.9" x2="465" y2="129.9" stroke="#222" stroke-width="1"/>
<polygon points="463.2,127.2 478.6,129.9 463.2,132.6" fill="#000"/>
<text x="292.5" y="67.4" font-size="7" text-anchor="middle" font-weight="bold" fill="#000" transform="rotate(-90 292.5 67.4)" textLength="15.4" lengthAdjust="spacingAndGlyphs" stroke="#000" stroke-width="0.32">c-kit</text>
<text x="397.6" y="141.6" font-size="7" text-anchor="middle" font-weight="bold" fill="#000" textLength="20.6" lengthAdjust="spacingAndGlyphs" stroke="#000" stroke-width="0.32">Sca-1</text>
<rect x="300.7" y="222.1" width="14.9" height="7.2" fill="#0b0b0b"/>
<line x1="308.15" y1="222.1" x2="308.15" y2="220.7" stroke="#000" stroke-width="0.8"/>
<line x1="304.55" y1="220.7" x2="311.75" y2="220.7" stroke="#000" stroke-width="0.8"/>
<rect x="322.7" y="181.7" width="14.9" height="47.6" fill="#0b0b0b"/>
<line x1="330.15" y1="181.7" x2="330.15" y2="171.8" stroke="#000" stroke-width="0.8"/>
<line x1="326.55" y1="171.8" x2="333.75" y2="171.8" stroke="#000" stroke-width="0.8"/>
<rect x="344.5" y="224.1" width="14.9" height="5.2" fill="#0b0b0b"/>
<line x1="351.95" y1="224.1" x2="351.95" y2="221.8" stroke="#000" stroke-width="0.8"/>
<line x1="348.35" y1="221.8" x2="355.55" y2="221.8" stroke="#000" stroke-width="0.8"/>
<line x1="298.2" y1="164.9" x2="298.2" y2="229.75" stroke="#000" stroke-width="1.15"/>
<line x1="297.75" y1="229.3" x2="363.1" y2="229.3" stroke="#000" stroke-width="1.15"/>
<line x1="296.8" y1="229.3" x2="298.2" y2="229.3" stroke="#000" stroke-width="0.8"/>
<text x="295.8" y="230.62" font-size="3.7" text-anchor="end" font-weight="bold" fill="#000" textLength="7.2" lengthAdjust="spacingAndGlyphs" stroke="#000" stroke-width="0.24">0.00</text>
<line x1="296.8" y1="218.63" x2="298.2" y2="218.63" stroke="#000" stroke-width="0.8"/>
<text x="295.8" y="219.96" font-size="3.7" text-anchor="end" font-weight="bold" fill="#000" textLength="7.2" lengthAdjust="spacingAndGlyphs" stroke="#000" stroke-width="0.24">0.05</text>
<line x1="296.8" y1="207.97" x2="298.2" y2="207.97" stroke="#000" stroke-width="0.8"/>
<text x="295.8" y="209.29" font-size="3.7" text-anchor="end" font-weight="bold" fill="#000" textLength="7.2" lengthAdjust="spacingAndGlyphs" stroke="#000" stroke-width="0.24">0.10</text>
<line x1="296.8" y1="197.3" x2="298.2" y2="197.3" stroke="#000" stroke-width="0.8"/>
<text x="295.8" y="198.62" font-size="3.7" text-anchor="end" font-weight="bold" fill="#000" textLength="7.2" lengthAdjust="spacingAndGlyphs" stroke="#000" stroke-width="0.24">0.15</text>
<line x1="296.8" y1="186.63" x2="298.2" y2="186.63" stroke="#000" stroke-width="0.8"/>
<text x="295.8" y="187.96" font-size="3.7" text-anchor="end" font-weight="bold" fill="#000" textLength="7.2" lengthAdjust="spacingAndGlyphs" stroke="#000" stroke-width="0.24">0.20</text>
<line x1="296.8" y1="175.97" x2="298.2" y2="175.97" stroke="#000" stroke-width="0.8"/>
<text x="295.8" y="177.29" font-size="3.7" text-anchor="end" font-weight="bold" fill="#000" textLength="7.2" lengthAdjust="spacingAndGlyphs" stroke="#000" stroke-width="0.24">0.25</text>
<line x1="296.8" y1="165.3" x2="298.2" y2="165.3" stroke="#000" stroke-width="0.8"/>
<text x="295.8" y="166.62" font-size="3.7" text-anchor="end" font-weight="bold" fill="#000" textLength="7.2" lengthAdjust="spacingAndGlyphs" stroke="#000" stroke-width="0.24">0.30</text>
<line x1="308.6" y1="165.3" x2="329.8" y2="165.3" stroke="#444" stroke-width="1.1"/>
<text x="319.37" y="165.98" font-size="7" text-anchor="middle" font-weight="bold" fill="#000" letter-spacing="0.55" stroke="#000" stroke-width="0.3">***</text>
<line x1="329.8" y1="171" x2="351" y2="171" stroke="#444" stroke-width="1.1"/>
<text x="340.77" y="171.68" font-size="7" text-anchor="middle" font-weight="bold" fill="#000" letter-spacing="0.55" stroke="#000" stroke-width="0.3">**</text>
<text x="277" y="197.2" font-size="5.2" text-anchor="middle" font-weight="bold" fill="#000" transform="rotate(-90 277 197.2)" textLength="33" lengthAdjust="spacingAndGlyphs" stroke="#000" stroke-width="0.34">% Circulating</text>
<text x="283.2" y="197" font-size="5.2" text-anchor="middle" font-weight="bold" fill="#000" transform="rotate(-90 283.2 197)" textLength="24" lengthAdjust="spacingAndGlyphs" stroke="#000" stroke-width="0.34">SKL cells</text>
<text x="269.8" y="235.6" font-size="6" text-anchor="start" font-weight="bold" fill="#000" textLength="12.5" lengthAdjust="spacingAndGlyphs" stroke="#000" stroke-width="0.27">NAC</text>
<text x="269.8" y="242.8" font-size="6" text-anchor="start" font-weight="bold" fill="#000" textLength="12.5" lengthAdjust="spacingAndGlyphs" stroke="#000" stroke-width="0.27">HGF</text>
<line x1="306.4" y1="233.6" x2="309.2" y2="233.6" stroke="#000" stroke-width="1.08"/>
<line x1="328.1" y1="233.6" x2="330.9" y2="233.6" stroke="#000" stroke-width="1.08"/>
<line x1="348.7" y1="233.6" x2="353.1" y2="233.6" stroke="#000" stroke-width="1.2"/>
<line x1="350.9" y1="231.4" x2="350.9" y2="235.8" stroke="#000" stroke-width="1.2"/>
<line x1="306.4" y1="241.1" x2="309.2" y2="241.1" stroke="#000" stroke-width="1.08"/>
<line x1="327.3" y1="241.1" x2="331.7" y2="241.1" stroke="#000" stroke-width="1.2"/>
<line x1="329.5" y1="238.9" x2="329.5" y2="243.3" stroke="#000" stroke-width="1.2"/>
<line x1="348.7" y1="241.1" x2="353.1" y2="241.1" stroke="#000" stroke-width="1.2"/>
<line x1="350.9" y1="238.9" x2="350.9" y2="243.3" stroke="#000" stroke-width="1.2"/>
<rect x="436.1" y="228.1" width="14.7" height="2" fill="#0b0b0b"/>
<line x1="443.45" y1="228.1" x2="443.45" y2="227.6" stroke="#000" stroke-width="0.8"/>
<line x1="439.65" y1="227.6" x2="447.25" y2="227.6" stroke="#000" stroke-width="0.8"/>
<rect x="457.2" y="228.6" width="15.2" height="1.5" fill="#0b0b0b"/>
<line x1="464.8" y1="228.6" x2="464.8" y2="228" stroke="#000" stroke-width="0.8"/>
<line x1="461" y1="228" x2="468.6" y2="228" stroke="#000" stroke-width="0.8"/>
<rect x="479.3" y="186" width="15.2" height="44.1" fill="#0b0b0b"/>
<line x1="486.9" y1="186" x2="486.9" y2="170.4" stroke="#000" stroke-width="0.8"/>
<line x1="483.1" y1="170.4" x2="490.7" y2="170.4" stroke="#000" stroke-width="0.8"/>
<rect x="500.5" y="222.9" width="15.1" height="7.2" fill="#0b0b0b"/>
<line x1="508.05" y1="222.9" x2="508.05" y2="219.4" stroke="#000" stroke-width="0.8"/>
<line x1="504.25" y1="219.4" x2="511.85" y2="219.4" stroke="#000" stroke-width="0.8"/>
<line x1="433.2" y1="166.2" x2="433.2" y2="230.55" stroke="#000" stroke-width="1.15"/>
<line x1="432.75" y1="230.1" x2="517.7" y2="230.1" stroke="#000" stroke-width="1.15"/>
<line x1="431.8" y1="230.1" x2="433.2" y2="230.1" stroke="#000" stroke-width="0.8"/>
<text x="431.1" y="231.53" font-size="4" text-anchor="end" font-weight="bold" fill="#000" textLength="5.56" lengthAdjust="spacingAndGlyphs" stroke="#000" stroke-width="0.26">0.0</text>
<line x1="431.8" y1="224.33" x2="433.2" y2="224.33" stroke="#000" stroke-width="0.8"/>
<text x="431.1" y="225.76" font-size="4" text-anchor="end" font-weight="bold" fill="#000" textLength="5.56" lengthAdjust="spacingAndGlyphs" stroke="#000" stroke-width="0.26">0.1</text>
<line x1="431.8" y1="218.55" x2="433.2" y2="218.55" stroke="#000" stroke-width="0.8"/>
<text x="431.1" y="219.99" font-size="4" text-anchor="end" font-weight="bold" fill="#000" textLength="5.56" lengthAdjust="spacingAndGlyphs" stroke="#000" stroke-width="0.26">0.2</text>
<line x1="431.8" y1="212.78" x2="433.2" y2="212.78" stroke="#000" stroke-width="0.8"/>
<text x="431.1" y="214.21" font-size="4" text-anchor="end" font-weight="bold" fill="#000" textLength="5.56" lengthAdjust="spacingAndGlyphs" stroke="#000" stroke-width="0.26">0.3</text>
<line x1="431.8" y1="207.01" x2="433.2" y2="207.01" stroke="#000" stroke-width="0.8"/>
<text x="431.1" y="208.44" font-size="4" text-anchor="end" font-weight="bold" fill="#000" textLength="5.56" lengthAdjust="spacingAndGlyphs" stroke="#000" stroke-width="0.26">0.4</text>
<line x1="431.8" y1="201.24" x2="433.2" y2="201.24" stroke="#000" stroke-width="0.8"/>
<text x="431.1" y="202.67" font-size="4" text-anchor="end" font-weight="bold" fill="#000" textLength="5.56" lengthAdjust="spacingAndGlyphs" stroke="#000" stroke-width="0.26">0.5</text>
<line x1="431.8" y1="195.46" x2="433.2" y2="195.46" stroke="#000" stroke-width="0.8"/>
<text x="431.1" y="196.9" font-size="4" text-anchor="end" font-weight="bold" fill="#000" textLength="5.56" lengthAdjust="spacingAndGlyphs" stroke="#000" stroke-width="0.26">0.6</text>
<line x1="431.8" y1="189.69" x2="433.2" y2="189.69" stroke="#000" stroke-width="0.8"/>
<text x="431.1" y="191.12" font-size="4" text-anchor="end" font-weight="bold" fill="#000" textLength="5.56" lengthAdjust="spacingAndGlyphs" stroke="#000" stroke-width="0.26">0.7</text>
<line x1="431.8" y1="183.92" x2="433.2" y2="183.92" stroke="#000" stroke-width="0.8"/>
<text x="431.1" y="185.35" font-size="4" text-anchor="end" font-weight="bold" fill="#000" textLength="5.56" lengthAdjust="spacingAndGlyphs" stroke="#000" stroke-width="0.26">0.8</text>
<line x1="431.8" y1="178.15" x2="433.2" y2="178.15" stroke="#000" stroke-width="0.8"/>
<text x="431.1" y="179.58" font-size="4" text-anchor="end" font-weight="bold" fill="#000" textLength="5.56" lengthAdjust="spacingAndGlyphs" stroke="#000" stroke-width="0.26">0.9</text>
<line x1="431.8" y1="172.37" x2="433.2" y2="172.37" stroke="#000" stroke-width="0.8"/>
<text x="431.1" y="173.8" font-size="4" text-anchor="end" font-weight="bold" fill="#000" textLength="5.56" lengthAdjust="spacingAndGlyphs" stroke="#000" stroke-width="0.26">1.0</text>
<line x1="431.8" y1="166.6" x2="433.2" y2="166.6" stroke="#000" stroke-width="0.8"/>
<text x="431.1" y="168.03" font-size="4" text-anchor="end" font-weight="bold" fill="#000" textLength="5.56" lengthAdjust="spacingAndGlyphs" stroke="#000" stroke-width="0.26">1.1</text>
<line x1="442.7" y1="160.9" x2="487.4" y2="160.9" stroke="#444" stroke-width="1.1"/>
<text x="466.67" y="161.18" font-size="7" text-anchor="middle" font-weight="bold" fill="#000" letter-spacing="0.55" stroke="#000" stroke-width="0.3">***</text>
<line x1="487.4" y1="167.5" x2="509" y2="167.5" stroke="#444" stroke-width="1.1"/>
<text x="497.77" y="168.08" font-size="7" text-anchor="middle" font-weight="bold" fill="#000" letter-spacing="0.55" stroke="#000" stroke-width="0.3">*</text>
<text x="411.8" y="197.2" font-size="5.2" text-anchor="middle" font-weight="bold" fill="#000" transform="rotate(-90 411.8 197.2)" textLength="33" lengthAdjust="spacingAndGlyphs" stroke="#000" stroke-width="0.34">% Circulating</text>
<text x="418.2" y="197.7" font-size="5.2" text-anchor="middle" font-weight="bold" fill="#000" transform="rotate(-90 418.2 197.7)" textLength="23.6" lengthAdjust="spacingAndGlyphs" stroke="#000" stroke-width="0.34">SKL cells</text>
<text x="405.8" y="236.8" font-size="6" text-anchor="start" font-weight="bold" fill="#000" textLength="12.2" lengthAdjust="spacingAndGlyphs" stroke="#000" stroke-width="0.27">NAC</text>
<text x="405.8" y="243.6" font-size="6" text-anchor="start" font-weight="bold" fill="#000" textLength="20" lengthAdjust="spacingAndGlyphs" stroke="#000" stroke-width="0.27">G-CSF</text>
<line x1="441.4" y1="234.4" x2="444.2" y2="234.4" stroke="#000" stroke-width="1.08"/>
<line x1="462.4" y1="234.4" x2="466.8" y2="234.4" stroke="#000" stroke-width="1.2"/>
<line x1="464.6" y1="232.2" x2="464.6" y2="236.6" stroke="#000" stroke-width="1.2"/>
<line x1="485.2" y1="234.4" x2="488" y2="234.4" stroke="#000" stroke-width="1.08"/>
<line x1="505.7" y1="234.4" x2="510.1" y2="234.4" stroke="#000" stroke-width="1.2"/>
<line x1="507.9" y1="232.2" x2="507.9" y2="236.6" stroke="#000" stroke-width="1.2"/>
<line x1="441.4" y1="241.3" x2="444.2" y2="241.3" stroke="#000" stroke-width="1.08"/>
<line x1="463.2" y1="241.3" x2="466" y2="241.3" stroke="#000" stroke-width="1.08"/>
<line x1="484.4" y1="241.3" x2="488.8" y2="241.3" stroke="#000" stroke-width="1.2"/>
<line x1="486.6" y1="239.1" x2="486.6" y2="243.5" stroke="#000" stroke-width="1.2"/>
<line x1="505.7" y1="241.3" x2="510.1" y2="241.3" stroke="#000" stroke-width="1.2"/>
<line x1="507.9" y1="239.1" x2="507.9" y2="243.5" stroke="#000" stroke-width="1.2"/>
<rect x="300.9" y="318.3" width="14.6" height="15.1" fill="#0b0b0b"/>
<line x1="308.2" y1="318.3" x2="308.2" y2="316.3" stroke="#000" stroke-width="0.8"/>
<line x1="304.6" y1="316.3" x2="311.8" y2="316.3" stroke="#000" stroke-width="0.8"/>
<rect x="322.6" y="283.7" width="15" height="49.7" fill="#0b0b0b"/>
<line x1="330.1" y1="283.7" x2="330.1" y2="273.6" stroke="#000" stroke-width="0.8"/>
<line x1="326.5" y1="273.6" x2="333.7" y2="273.6" stroke="#000" stroke-width="0.8"/>
<rect x="344.2" y="303.3" width="15" height="30.1" fill="#0b0b0b"/>
<line x1="351.7" y1="303.3" x2="351.7" y2="300.5" stroke="#000" stroke-width="0.8"/>
<line x1="348.1" y1="300.5" x2="355.3" y2="300.5" stroke="#000" stroke-width="0.8"/>
<line x1="298" y1="271.8" x2="298" y2="333.85" stroke="#000" stroke-width="1.15"/>
<line x1="297.55" y1="333.4" x2="363" y2="333.4" stroke="#000" stroke-width="1.15"/>
<line x1="296.4" y1="333.4" x2="298" y2="333.4" stroke="#000" stroke-width="0.8"/>
<text x="295.8" y="334.83" font-size="4" text-anchor="end" font-weight="bold" fill="#000" textLength="2.22" lengthAdjust="spacingAndGlyphs" stroke="#000" stroke-width="0.26">0</text>
<line x1="296.4" y1="318.1" x2="298" y2="318.1" stroke="#000" stroke-width="0.8"/>
<text x="295.8" y="319.53" font-size="4" text-anchor="end" font-weight="bold" fill="#000" textLength="6.67" lengthAdjust="spacingAndGlyphs" stroke="#000" stroke-width="0.26">100</text>
<line x1="296.4" y1="302.8" x2="298" y2="302.8" stroke="#000" stroke-width="0.8"/>
<text x="295.8" y="304.23" font-size="4" text-anchor="end" font-weight="bold" fill="#000" textLength="6.67" lengthAdjust="spacingAndGlyphs" stroke="#000" stroke-width="0.26">200</text>
<line x1="296.4" y1="287.5" x2="298" y2="287.5" stroke="#000" stroke-width="0.8"/>
<text x="295.8" y="288.93" font-size="4" text-anchor="end" font-weight="bold" fill="#000" textLength="6.67" lengthAdjust="spacingAndGlyphs" stroke="#000" stroke-width="0.26">300</text>
<line x1="296.4" y1="272.2" x2="298" y2="272.2" stroke="#000" stroke-width="0.8"/>
<text x="295.8" y="273.63" font-size="4" text-anchor="end" font-weight="bold" fill="#000" textLength="6.67" lengthAdjust="spacingAndGlyphs" stroke="#000" stroke-width="0.26">400</text>
<line x1="307.6" y1="269.9" x2="331.2" y2="269.9" stroke="#444" stroke-width="1.1"/>
<text x="317.67" y="270.48" font-size="7" text-anchor="middle" font-weight="bold" fill="#000" letter-spacing="0.55" stroke="#000" stroke-width="0.3">**</text>
<line x1="331.2" y1="272.8" x2="352.9" y2="272.8" stroke="#444" stroke-width="1.1"/>
<text x="341.57" y="273.38" font-size="7" text-anchor="middle" font-weight="bold" fill="#000" letter-spacing="0.55" stroke="#000" stroke-width="0.3">*</text>
<text x="277.8" y="302.8" font-size="5.1" text-anchor="middle" font-weight="bold" fill="#000" transform="rotate(-90 277.8 302.8)" textLength="22.7" lengthAdjust="spacingAndGlyphs" stroke="#000" stroke-width="0.33">Migration</text>
<text x="284" y="302.6" font-size="5.1" text-anchor="middle" font-weight="bold" fill="#000" transform="rotate(-90 284 302.6)" textLength="36.6" lengthAdjust="spacingAndGlyphs" stroke="#000" stroke-width="0.33">(% of controls)</text>
<text x="280.6" y="341.1" font-size="5.3" text-anchor="start" font-weight="bold" fill="#000" textLength="16.3" lengthAdjust="spacingAndGlyphs" stroke="#000" stroke-width="0.34">G-CSF</text>
<text x="284.4" y="347.7" font-size="5.3" text-anchor="start" font-weight="bold" fill="#000" textLength="11" lengthAdjust="spacingAndGlyphs" stroke="#000" stroke-width="0.34">NAC</text>
<line x1="305.8" y1="339.2" x2="308.6" y2="339.2" stroke="#000" stroke-width="1.08"/>
<line x1="326.8" y1="339.2" x2="331.2" y2="339.2" stroke="#000" stroke-width="1.2"/>
<line x1="329" y1="337" x2="329" y2="341.4" stroke="#000" stroke-width="1.2"/>
<line x1="348.6" y1="339.2" x2="353" y2="339.2" stroke="#000" stroke-width="1.2"/>
<line x1="350.8" y1="337" x2="350.8" y2="341.4" stroke="#000" stroke-width="1.2"/>
<line x1="305.8" y1="347.2" x2="308.6" y2="347.2" stroke="#000" stroke-width="1.08"/>
<line x1="327.6" y1="347.2" x2="330.4" y2="347.2" stroke="#000" stroke-width="1.08"/>
<line x1="348.6" y1="347.2" x2="353" y2="347.2" stroke="#000" stroke-width="1.2"/>
<line x1="350.8" y1="345" x2="350.8" y2="349.4" stroke="#000" stroke-width="1.2"/>
<rect x="436.4" y="327" width="14.5" height="7.2" fill="#0b0b0b"/>
<line x1="443.65" y1="327" x2="443.65" y2="324.1" stroke="#000" stroke-width="0.8"/>
<line x1="440.05" y1="324.1" x2="447.25" y2="324.1" stroke="#000" stroke-width="0.8"/>
<rect x="457.6" y="285.2" width="14.8" height="49" fill="#0b0b0b"/>
<line x1="465" y1="285.2" x2="465" y2="279.4" stroke="#000" stroke-width="0.8"/>
<line x1="461.4" y1="279.4" x2="468.6" y2="279.4" stroke="#000" stroke-width="0.8"/>
<rect x="478.8" y="326.4" width="15" height="7.8" fill="#0b0b0b"/>
<line x1="486.3" y1="326.4" x2="486.3" y2="324.1" stroke="#000" stroke-width="0.8"/>
<line x1="482.7" y1="324.1" x2="489.9" y2="324.1" stroke="#000" stroke-width="0.8"/>
<line x1="433.2" y1="272.7" x2="433.2" y2="334.65" stroke="#000" stroke-width="1.15"/>
<line x1="432.75" y1="334.2" x2="497.5" y2="334.2" stroke="#000" stroke-width="1.15"/>
<line x1="431.8" y1="334.2" x2="433.2" y2="334.2" stroke="#000" stroke-width="0.8"/>
<text x="430.4" y="335.6" font-size="3.9" text-anchor="end" font-weight="bold" fill="#000" textLength="2.17" lengthAdjust="spacingAndGlyphs" stroke="#000" stroke-width="0.25">0</text>
<line x1="431.8" y1="326.56" x2="433.2" y2="326.56" stroke="#000" stroke-width="0.8"/>
<text x="430.4" y="327.96" font-size="3.9" text-anchor="end" font-weight="bold" fill="#000" textLength="2.17" lengthAdjust="spacingAndGlyphs" stroke="#000" stroke-width="0.25">5</text>
<line x1="431.8" y1="318.93" x2="433.2" y2="318.93" stroke="#000" stroke-width="0.8"/>
<text x="430.4" y="320.32" font-size="3.9" text-anchor="end" font-weight="bold" fill="#000" textLength="4.34" lengthAdjust="spacingAndGlyphs" stroke="#000" stroke-width="0.25">10</text>
<line x1="431.8" y1="311.29" x2="433.2" y2="311.29" stroke="#000" stroke-width="0.8"/>
<text x="430.4" y="312.68" font-size="3.9" text-anchor="end" font-weight="bold" fill="#000" textLength="4.34" lengthAdjust="spacingAndGlyphs" stroke="#000" stroke-width="0.25">15</text>
<line x1="431.8" y1="303.65" x2="433.2" y2="303.65" stroke="#000" stroke-width="0.8"/>
<text x="430.4" y="305.05" font-size="3.9" text-anchor="end" font-weight="bold" fill="#000" textLength="4.34" lengthAdjust="spacingAndGlyphs" stroke="#000" stroke-width="0.25">20</text>
<line x1="431.8" y1="296.01" x2="433.2" y2="296.01" stroke="#000" stroke-width="0.8"/>
<text x="430.4" y="297.41" font-size="3.9" text-anchor="end" font-weight="bold" fill="#000" textLength="4.34" lengthAdjust="spacingAndGlyphs" stroke="#000" stroke-width="0.25">25</text>
<line x1="431.8" y1="288.38" x2="433.2" y2="288.38" stroke="#000" stroke-width="0.8"/>
<text x="430.4" y="289.77" font-size="3.9" text-anchor="end" font-weight="bold" fill="#000" textLength="4.34" lengthAdjust="spacingAndGlyphs" stroke="#000" stroke-width="0.25">30</text>
<line x1="431.8" y1="280.74" x2="433.2" y2="280.74" stroke="#000" stroke-width="0.8"/>
<text x="430.4" y="282.13" font-size="3.9" text-anchor="end" font-weight="bold" fill="#000" textLength="4.34" lengthAdjust="spacingAndGlyphs" stroke="#000" stroke-width="0.25">35</text>
<line x1="431.8" y1="273.1" x2="433.2" y2="273.1" stroke="#000" stroke-width="0.8"/>
<text x="430.4" y="274.5" font-size="3.9" text-anchor="end" font-weight="bold" fill="#000" textLength="4.34" lengthAdjust="spacingAndGlyphs" stroke="#000" stroke-width="0.25">40</text>
<line x1="444.1" y1="272.2" x2="465.8" y2="272.2" stroke="#444" stroke-width="1.1"/>
<text x="455.97" y="272.51" font-size="5.2" text-anchor="middle" font-weight="bold" fill="#000" letter-spacing="0.55" stroke="#000" stroke-width="0.3">***</text>
<line x1="465.8" y1="276.5" x2="488" y2="276.5" stroke="#444" stroke-width="1.1"/>
<text x="479.07" y="276.31" font-size="5.2" text-anchor="middle" font-weight="bold" fill="#000" letter-spacing="0.55" stroke="#000" stroke-width="0.3">***</text>
<text x="412.4" y="322.8" font-size="5" text-anchor="start" font-weight="bold" fill="#000" transform="rotate(-90 412.4 322.8)" textLength="44.8" lengthAdjust="spacingAndGlyphs" stroke="#000" stroke-width="0.33">ROS on circulating</text>
<text x="418.8" y="322.8" font-size="5" text-anchor="start" font-weight="bold" fill="#000" transform="rotate(-90 418.8 322.8)" textLength="23" lengthAdjust="spacingAndGlyphs" stroke="#000" stroke-width="0.33">SKL cells</text>
<text x="416.2" y="341.5" font-size="5.3" text-anchor="start" font-weight="bold" fill="#000" textLength="16.1" lengthAdjust="spacingAndGlyphs" stroke="#000" stroke-width="0.34">G-CSF</text>
<text x="420" y="348.3" font-size="5.3" text-anchor="start" font-weight="bold" fill="#000" textLength="11" lengthAdjust="spacingAndGlyphs" stroke="#000" stroke-width="0.34">NAC</text>
<line x1="441.2" y1="339.6" x2="444" y2="339.6" stroke="#000" stroke-width="1.08"/>
<line x1="462.5" y1="339.6" x2="466.9" y2="339.6" stroke="#000" stroke-width="1.2"/>
<line x1="464.7" y1="337.4" x2="464.7" y2="341.8" stroke="#000" stroke-width="1.2"/>
<line x1="484" y1="339.6" x2="488.4" y2="339.6" stroke="#000" stroke-width="1.2"/>
<line x1="486.2" y1="337.4" x2="486.2" y2="341.8" stroke="#000" stroke-width="1.2"/>
<line x1="441.2" y1="347.9" x2="444" y2="347.9" stroke="#000" stroke-width="1.08"/>
<line x1="463.3" y1="347.9" x2="466.1" y2="347.9" stroke="#000" stroke-width="1.08"/>
<line x1="484" y1="347.9" x2="488.4" y2="347.9" stroke="#000" stroke-width="1.2"/>
<line x1="486.2" y1="345.7" x2="486.2" y2="350.1" stroke="#000" stroke-width="1.2"/>
</g>
</svg>
</body>
</html>
